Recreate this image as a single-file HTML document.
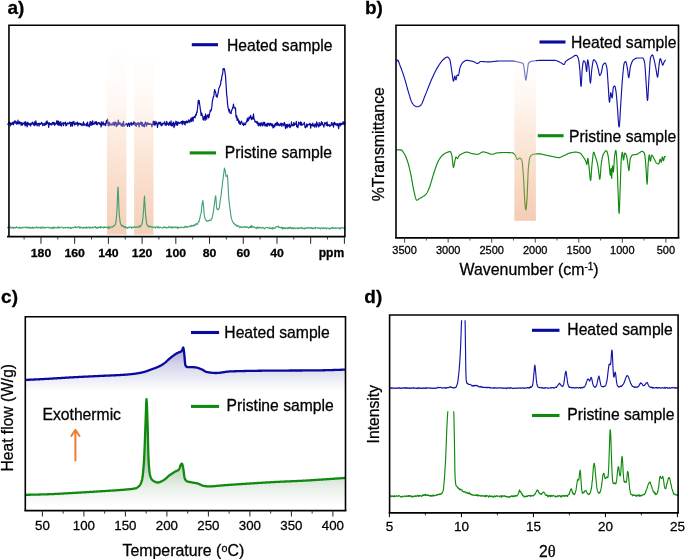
<!DOCTYPE html>
<html><head><meta charset="utf-8"><title>Figure</title>
<style>
html,body{margin:0;padding:0;background:#fff;}
svg{display:block;will-change:transform;opacity:0.9999;}
svg text{font-family:'Liberation Sans', Arial, Helvetica, sans-serif;fill:#000;stroke:#000;stroke-width:0.28px;}
</style></head>
<body>
<svg width="685" height="559" viewBox="0 0 685 559">
<defs>
<linearGradient id="bandA" x1="0" y1="0" x2="0" y2="1">
<stop offset="0" stop-color="#fffcf9" stop-opacity="0.32"/>
<stop offset="0.15" stop-color="#fff6ef" stop-opacity="0.32"/>
<stop offset="0.3" stop-color="#fce3d3" stop-opacity="0.32"/>
<stop offset="0.42" stop-color="#f9caa8" stop-opacity="0.32"/>
<stop offset="0.75" stop-color="#ec8e50" stop-opacity="0.32"/>
<stop offset="1" stop-color="#dd6927" stop-opacity="0.32"/>
</linearGradient>
<linearGradient id="bandB" x1="0" y1="0" x2="0" y2="1">
<stop offset="0" stop-color="#fffdfa" stop-opacity="0.42"/>
<stop offset="0.15" stop-color="#fff8f3" stop-opacity="0.42"/>
<stop offset="0.3" stop-color="#fdeade" stop-opacity="0.42"/>
<stop offset="0.42" stop-color="#fad7bc" stop-opacity="0.42"/>
<stop offset="0.75" stop-color="#f1a97a" stop-opacity="0.42"/>
<stop offset="1" stop-color="#e2864f" stop-opacity="0.42"/>
</linearGradient>
<linearGradient id="fillBlue" gradientUnits="userSpaceOnUse" x1="0" y1="347" x2="0" y2="391">
<stop offset="0" stop-color="#a6a6d3"/>
<stop offset="0.2" stop-color="#bebedf"/>
<stop offset="0.4" stop-color="#d4d4ea"/>
<stop offset="0.6" stop-color="#e3e3f1"/>
<stop offset="0.8" stop-color="#f1f1f8"/>
<stop offset="1" stop-color="#ffffff"/>
</linearGradient>
<linearGradient id="fillGreen" gradientUnits="userSpaceOnUse" x1="0" y1="462" x2="0" y2="506">
<stop offset="0" stop-color="#b4ccb4"/>
<stop offset="0.3" stop-color="#d0e0d0"/>
<stop offset="0.55" stop-color="#e6eee6"/>
<stop offset="0.8" stop-color="#f5f8f5"/>
<stop offset="1" stop-color="#ffffff"/>
</linearGradient>
</defs>
<rect x="0" y="0" width="685" height="559" fill="#fff"/>
<path d="M7.50,123.80 L7.90,124.25 L8.30,123.39 L8.70,122.47 L9.10,123.12 L9.50,122.32 L9.90,123.90 L10.30,125.82 L10.70,123.07 L11.10,122.88 L11.50,124.55 L11.90,124.35 L12.30,123.98 L12.70,122.43 L13.10,123.78 L13.50,124.87 L13.90,121.81 L14.30,123.14 L14.70,120.98 L15.10,121.90 L15.50,121.07 L15.90,123.48 L16.30,121.93 L16.70,124.24 L17.10,124.07 L17.50,123.56 L17.90,120.07 L18.30,123.03 L18.70,123.77 L19.10,124.01 L19.50,121.55 L19.90,123.13 L20.30,122.38 L20.70,122.64 L21.10,125.44 L21.50,122.64 L21.90,123.81 L22.30,125.18 L22.70,122.98 L23.10,123.69 L23.50,124.03 L23.90,123.96 L24.30,122.03 L24.70,123.98 L25.10,125.90 L25.50,121.55 L25.90,125.16 L26.30,124.05 L26.70,122.91 L27.10,126.87 L27.50,125.02 L27.90,122.08 L28.30,123.99 L28.70,124.74 L29.10,123.59 L29.50,124.90 L29.90,123.78 L30.30,124.88 L30.70,126.04 L31.10,122.87 L31.50,124.19 L31.90,123.19 L32.30,124.08 L32.70,122.11 L33.10,123.02 L33.50,123.60 L33.90,125.24 L34.30,125.61 L34.70,121.91 L35.10,122.70 L35.50,124.87 L35.90,120.91 L36.30,123.20 L36.70,123.75 L37.10,125.79 L37.50,124.94 L37.90,123.41 L38.30,123.35 L38.70,123.53 L39.10,126.19 L39.50,123.26 L39.90,123.45 L40.30,124.44 L40.70,123.73 L41.10,123.61 L41.50,122.24 L41.90,123.90 L42.30,123.25 L42.70,125.66 L43.10,124.90 L43.50,123.88 L43.90,124.92 L44.30,123.41 L44.70,125.50 L45.10,123.91 L45.50,124.80 L45.90,121.99 L46.30,124.44 L46.70,121.39 L47.10,120.87 L47.50,123.47 L47.90,122.58 L48.30,124.17 L48.70,127.30 L49.10,122.68 L49.50,122.99 L49.90,124.24 L50.30,124.67 L50.70,123.67 L51.10,123.62 L51.50,124.99 L51.90,124.71 L52.30,122.39 L52.70,123.82 L53.10,123.99 L53.50,122.36 L53.90,124.33 L54.30,122.65 L54.70,125.40 L55.10,124.23 L55.50,124.08 L55.90,123.06 L56.30,123.77 L56.70,120.95 L57.10,122.25 L57.50,124.49 L57.90,120.75 L58.30,125.22 L58.70,121.33 L59.10,125.08 L59.50,122.68 L59.90,125.12 L60.30,124.15 L60.70,121.65 L61.10,125.83 L61.50,126.11 L61.90,123.85 L62.30,123.54 L62.70,123.71 L63.10,122.49 L63.50,125.60 L63.90,123.14 L64.30,123.88 L64.70,122.77 L65.10,123.02 L65.50,122.04 L65.90,125.84 L66.30,123.73 L66.70,125.41 L67.10,123.98 L67.50,122.92 L67.90,123.47 L68.30,123.12 L68.70,123.97 L69.10,123.40 L69.50,123.51 L69.90,121.90 L70.30,122.75 L70.70,126.45 L71.10,122.96 L71.50,122.39 L71.90,124.47 L72.30,126.08 L72.70,121.79 L73.10,123.66 L73.50,123.02 L73.90,121.33 L74.30,125.07 L74.70,123.94 L75.10,124.08 L75.50,122.84 L75.90,124.65 L76.30,123.16 L76.70,123.76 L77.10,122.31 L77.50,122.15 L77.90,125.98 L78.30,123.21 L78.70,124.41 L79.10,123.92 L79.50,123.31 L79.90,123.21 L80.30,124.92 L80.70,123.52 L81.10,123.75 L81.50,124.01 L81.90,125.74 L82.30,125.00 L82.70,124.55 L83.10,123.13 L83.50,121.91 L83.90,125.40 L84.30,125.43 L84.70,123.77 L85.10,124.79 L85.50,125.15 L85.90,125.23 L86.30,125.36 L86.70,123.30 L87.10,126.26 L87.50,122.11 L87.90,125.28 L88.30,124.72 L88.70,125.29 L89.10,126.80 L89.50,126.21 L89.90,122.27 L90.30,121.45 L90.70,125.21 L91.10,122.46 L91.50,123.97 L91.90,125.25 L92.30,121.52 L92.70,120.82 L93.10,124.38 L93.50,124.05 L93.90,123.62 L94.30,124.05 L94.70,122.70 L95.10,121.72 L95.50,123.74 L95.90,122.53 L96.30,121.52 L96.70,124.75 L97.10,123.90 L97.50,124.60 L97.90,122.51 L98.30,123.00 L98.70,122.49 L99.10,122.66 L99.50,124.28 L99.90,122.82 L100.30,124.53 L100.70,124.50 L101.10,127.03 L101.50,121.90 L101.90,125.32 L102.30,123.86 L102.70,123.97 L103.10,121.82 L103.50,123.30 L103.90,125.11 L104.30,123.87 L104.70,124.12 L105.10,123.56 L105.50,125.73 L105.90,123.96 L106.30,120.69 L106.70,122.96 L107.10,121.04 L107.50,119.12 L107.90,123.20 L108.30,126.00 L108.70,124.07 L109.10,122.24 L109.50,122.58 L109.90,125.69 L110.30,124.23 L110.70,124.07 L111.10,123.92 L111.50,124.05 L111.90,125.20 L112.30,124.83 L112.70,124.32 L113.10,122.43 L113.50,124.76 L113.90,122.97 L114.30,125.64 L114.70,122.09 L115.10,123.79 L115.50,123.99 L115.90,122.01 L116.30,126.58 L116.70,126.19 L117.10,123.30 L117.50,125.16 L117.90,124.57 L118.30,120.08 L118.70,124.37 L119.10,123.91 L119.50,124.12 L119.90,122.38 L120.30,123.59 L120.70,123.73 L121.10,125.78 L121.50,124.50 L121.90,123.99 L122.30,126.29 L122.70,123.17 L123.10,123.41 L123.50,121.27 L123.90,126.35 L124.30,125.45 L124.70,125.37 L125.10,125.00 L125.50,124.16 L125.90,124.32 L126.30,123.62 L126.70,123.69 L127.10,124.08 L127.50,126.27 L127.90,124.83 L128.30,123.91 L128.70,123.13 L129.10,123.05 L129.50,126.40 L129.90,124.76 L130.30,124.10 L130.70,123.48 L131.10,122.34 L131.50,123.90 L131.90,125.31 L132.30,123.41 L132.70,123.66 L133.10,123.67 L133.50,124.16 L133.90,121.61 L134.30,123.65 L134.70,122.72 L135.10,125.33 L135.50,122.84 L135.90,124.87 L136.30,126.29 L136.70,123.53 L137.10,123.10 L137.50,124.29 L137.90,124.00 L138.30,122.51 L138.70,124.69 L139.10,127.02 L139.50,123.61 L139.90,123.70 L140.30,122.43 L140.70,124.48 L141.10,122.13 L141.50,122.34 L141.90,125.92 L142.30,122.64 L142.70,125.62 L143.10,126.29 L143.50,124.39 L143.90,124.83 L144.30,126.93 L144.70,123.70 L145.10,123.11 L145.50,121.97 L145.90,124.06 L146.30,126.22 L146.70,125.44 L147.10,122.59 L147.50,122.72 L147.90,123.24 L148.30,124.44 L148.70,123.69 L149.10,124.32 L149.50,124.45 L149.90,123.55 L150.30,123.94 L150.70,124.31 L151.10,123.87 L151.50,124.75 L151.90,126.81 L152.30,124.89 L152.70,124.08 L153.10,121.47 L153.50,124.58 L153.90,121.08 L154.30,121.88 L154.70,125.27 L155.10,125.05 L155.50,123.77 L155.90,121.42 L156.30,123.43 L156.70,122.97 L157.10,124.94 L157.50,127.37 L157.90,124.30 L158.30,122.81 L158.70,122.22 L159.10,123.89 L159.50,123.70 L159.90,122.24 L160.30,124.14 L160.70,122.23 L161.10,125.62 L161.50,125.55 L161.90,125.58 L162.30,123.23 L162.70,124.71 L163.10,123.74 L163.50,123.35 L163.90,123.42 L164.30,121.97 L164.70,121.75 L165.10,125.11 L165.50,123.62 L165.90,124.23 L166.30,125.40 L166.70,121.29 L167.10,122.71 L167.50,124.14 L167.90,124.46 L168.30,123.30 L168.70,125.41 L169.10,124.17 L169.50,122.03 L169.90,122.45 L170.30,125.04 L170.70,124.52 L171.10,120.97 L171.50,125.83 L171.90,124.70 L172.30,125.81 L172.70,123.21 L173.10,123.34 L173.50,122.08 L173.90,127.57 L174.30,123.49 L174.70,126.12 L175.10,122.76 L175.50,123.97 L175.90,121.21 L176.30,123.13 L176.70,125.17 L177.10,121.81 L177.50,125.28 L177.90,124.17 L178.30,122.08 L178.70,122.89 L179.10,122.94 L179.50,123.54 L179.90,122.80 L180.30,122.35 L180.70,123.10 L181.10,121.97 L181.50,121.52 L181.90,123.32 L182.30,124.64 L182.70,120.93 L183.10,123.14 L183.50,122.05 L183.90,121.45 L184.30,124.08 L184.70,121.91 L185.10,124.81 L185.50,121.27 L185.90,122.89 L186.30,121.84 L186.70,120.92 L187.10,122.81 L187.50,121.57 L187.90,122.58 L188.30,121.49 L188.70,119.82 L189.10,121.18 L189.50,121.29 L189.90,122.52 L190.30,119.59 L190.70,120.75 L191.10,118.07 L191.50,121.46 L191.90,118.68 L192.30,117.39 L192.70,119.78 L193.10,121.28 L193.50,117.06 L193.90,117.40 L194.30,117.46 L194.70,116.27 L195.10,117.79 L195.50,115.13 L195.90,114.26 L196.30,115.09 L196.70,111.85 L197.10,112.30 L197.50,108.24 L197.90,104.64 L198.30,100.35 L198.70,103.63 L199.10,100.31 L199.50,103.14 L199.90,105.78 L200.30,109.22 L200.70,111.37 L201.10,115.76 L201.50,112.93 L201.90,113.61 L202.30,115.67 L202.70,116.12 L203.10,119.75 L203.50,119.93 L203.90,117.22 L204.30,116.50 L204.70,117.95 L205.10,120.43 L205.50,113.95 L205.90,118.78 L206.30,116.16 L206.70,119.11 L207.10,115.68 L207.50,116.61 L207.90,114.49 L208.30,114.90 L208.70,117.96 L209.10,116.52 L209.50,113.98 L209.90,112.47 L210.30,110.02 L210.70,111.24 L211.10,110.65 L211.50,109.00 L211.90,106.42 L212.30,101.74 L212.70,100.06 L213.10,97.21 L213.50,97.07 L213.90,96.00 L214.30,91.33 L214.70,89.49 L215.10,90.98 L215.50,91.84 L215.90,93.74 L216.30,96.44 L216.70,95.41 L217.10,97.33 L217.50,95.15 L217.90,94.19 L218.30,91.87 L218.70,89.41 L219.10,87.64 L219.50,87.37 L219.90,85.55 L220.30,85.33 L220.70,83.50 L221.10,79.87 L221.50,80.23 L221.90,76.06 L222.30,75.05 L222.70,73.57 L223.10,68.65 L223.50,69.78 L223.90,68.68 L224.30,68.69 L224.70,70.31 L225.10,73.32 L225.50,75.74 L225.90,82.04 L226.30,88.14 L226.70,95.15 L227.10,97.43 L227.50,103.36 L227.90,106.56 L228.30,108.71 L228.70,109.74 L229.10,111.99 L229.50,109.31 L229.90,113.03 L230.30,113.09 L230.70,113.37 L231.10,113.53 L231.50,110.99 L231.90,109.80 L232.30,109.22 L232.70,107.45 L233.10,106.71 L233.50,104.13 L233.90,107.21 L234.30,108.15 L234.70,107.91 L235.10,107.64 L235.50,108.11 L235.90,115.92 L236.30,117.72 L236.70,115.55 L237.10,120.42 L237.50,118.03 L237.90,118.64 L238.30,119.90 L238.70,122.98 L239.10,120.73 L239.50,121.90 L239.90,124.36 L240.30,124.41 L240.70,122.17 L241.10,122.29 L241.50,121.08 L241.90,122.24 L242.30,124.19 L242.70,124.36 L243.10,124.09 L243.50,125.49 L243.90,122.81 L244.30,123.74 L244.70,124.68 L245.10,124.14 L245.50,124.50 L245.90,123.06 L246.30,121.55 L246.70,122.09 L247.10,119.59 L247.50,118.20 L247.90,121.13 L248.30,119.84 L248.70,120.12 L249.10,116.90 L249.50,118.69 L249.90,118.14 L250.30,117.54 L250.70,115.27 L251.10,117.98 L251.50,119.68 L251.90,118.77 L252.30,117.20 L252.70,118.01 L253.10,119.14 L253.50,113.91 L253.90,118.09 L254.30,119.46 L254.70,120.14 L255.10,122.22 L255.50,121.96 L255.90,121.33 L256.30,121.88 L256.70,123.12 L257.10,121.55 L257.50,122.59 L257.90,124.19 L258.30,125.93 L258.70,122.92 L259.10,123.24 L259.50,123.75 L259.90,125.61 L260.30,123.68 L260.70,126.05 L261.10,122.51 L261.50,123.79 L261.90,123.86 L262.30,125.42 L262.70,125.88 L263.10,122.11 L263.50,123.06 L263.90,124.97 L264.30,123.50 L264.70,122.22 L265.10,126.07 L265.50,125.26 L265.90,125.27 L266.30,123.82 L266.70,126.08 L267.10,124.19 L267.50,126.20 L267.90,123.20 L268.30,123.29 L268.70,124.88 L269.10,123.53 L269.50,125.60 L269.90,124.99 L270.30,123.22 L270.70,124.72 L271.10,124.09 L271.50,126.00 L271.90,123.68 L272.30,123.98 L272.70,126.46 L273.10,128.00 L273.50,127.65 L273.90,124.75 L274.30,124.99 L274.70,126.97 L275.10,124.48 L275.50,123.21 L275.90,124.86 L276.30,125.36 L276.70,123.45 L277.10,122.22 L277.50,122.54 L277.90,125.70 L278.30,123.57 L278.70,124.50 L279.10,125.03 L279.50,125.65 L279.90,124.22 L280.30,125.47 L280.70,123.39 L281.10,124.19 L281.50,123.20 L281.90,126.44 L282.30,124.70 L282.70,123.64 L283.10,124.22 L283.50,124.42 L283.90,125.80 L284.30,122.36 L284.70,123.20 L285.10,124.19 L285.50,128.56 L285.90,126.20 L286.30,124.60 L286.70,125.84 L287.10,127.86 L287.50,124.42 L287.90,124.23 L288.30,126.59 L288.70,125.52 L289.10,125.79 L289.50,124.02 L289.90,127.67 L290.30,127.35 L290.70,125.64 L291.10,125.81 L291.50,121.75 L291.90,125.75 L292.30,124.50 L292.70,125.44 L293.10,125.82 L293.50,124.28 L293.90,122.26 L294.30,125.35 L294.70,123.68 L295.10,124.30 L295.50,123.89 L295.90,124.29 L296.30,121.33 L296.70,126.62 L297.10,125.18 L297.50,126.47 L297.90,127.77 L298.30,124.83 L298.70,122.10 L299.10,123.46 L299.50,122.99 L299.90,124.05 L300.30,124.92 L300.70,121.80 L301.10,125.31 L301.50,122.53 L301.90,125.25 L302.30,124.64 L302.70,124.33 L303.10,124.69 L303.50,123.99 L303.90,123.88 L304.30,122.28 L304.70,124.76 L305.10,127.57 L305.50,127.77 L305.90,126.78 L306.30,125.86 L306.70,123.79 L307.10,126.96 L307.50,124.72 L307.90,124.70 L308.30,124.36 L308.70,124.94 L309.10,124.15 L309.50,124.67 L309.90,123.17 L310.30,124.24 L310.70,128.22 L311.10,124.70 L311.50,124.44 L311.90,125.60 L312.30,125.86 L312.70,123.13 L313.10,124.49 L313.50,126.18 L313.90,125.20 L314.30,124.98 L314.70,127.13 L315.10,123.78 L315.50,124.92 L315.90,124.02 L316.30,127.04 L316.70,121.87 L317.10,123.79 L317.50,124.01 L317.90,125.80 L318.30,125.71 L318.70,126.89 L319.10,122.44 L319.50,125.93 L319.90,124.36 L320.30,123.80 L320.70,125.61 L321.10,123.42 L321.50,121.68 L321.90,124.24 L322.30,122.55 L322.70,123.83 L323.10,125.36 L323.50,125.27 L323.90,127.18 L324.30,124.50 L324.70,122.50 L325.10,123.67 L325.50,123.42 L325.90,122.97 L326.30,125.45 L326.70,123.83 L327.10,121.83 L327.50,125.85 L327.90,124.63 L328.30,125.34 L328.70,124.96 L329.10,125.75 L329.50,124.86 L329.90,126.65 L330.30,125.44 L330.70,125.39 L331.10,125.41 L331.50,122.62 L331.90,124.55 L332.30,124.41 L332.70,125.11 L333.10,122.76 L333.50,127.25 L333.90,124.96 L334.30,122.98 L334.70,122.24 L335.10,124.38 L335.50,124.67 L335.90,123.72 L336.30,124.94 L336.70,123.84 L337.10,125.63 L337.50,123.71 L337.90,124.74 L338.30,126.27 L338.70,128.66 L339.10,123.29 L339.50,124.10 L339.90,123.54 L340.30,125.98 L340.70,123.08 L341.10,124.07 L341.50,124.76 L341.90,123.33 L342.30,123.36 L342.70,124.09 L343.10,121.65 L343.50,122.63 L343.90,124.18 L344.30,125.02 L344.70,124.52 L345.10,122.14" fill="none" stroke="#0a0a9e" stroke-width="1.2" stroke-linejoin="round"/>
<rect x="107" y="53" width="19.4" height="181.6" fill="url(#bandA)"/>
<rect x="134.1" y="55" width="19.4" height="179.6" fill="url(#bandA)"/>
<path d="M7.30,227.21 L7.70,227.74 L8.10,227.64 L8.50,227.38 L8.90,227.04 L9.30,227.68 L9.70,227.17 L10.10,226.93 L10.50,227.09 L10.90,228.03 L11.30,227.52 L11.70,227.92 L12.10,227.23 L12.50,227.83 L12.90,227.19 L13.30,227.38 L13.70,228.49 L14.10,227.77 L14.50,227.24 L14.90,227.42 L15.30,227.59 L15.70,227.97 L16.10,227.25 L16.50,226.73 L16.90,227.35 L17.30,227.47 L17.70,227.52 L18.10,228.03 L18.50,227.61 L18.90,227.82 L19.30,227.02 L19.70,227.85 L20.10,228.36 L20.50,227.81 L20.90,227.59 L21.30,227.56 L21.70,228.24 L22.10,227.11 L22.50,227.45 L22.90,227.69 L23.30,227.81 L23.70,227.32 L24.10,227.63 L24.50,227.39 L24.90,227.56 L25.30,227.46 L25.70,227.03 L26.10,227.51 L26.50,227.89 L26.90,227.11 L27.30,227.42 L27.70,227.80 L28.10,227.08 L28.50,227.60 L28.90,227.08 L29.30,228.01 L29.70,228.50 L30.10,228.38 L30.50,227.44 L30.90,227.85 L31.30,227.59 L31.70,227.58 L32.10,228.19 L32.50,226.99 L32.90,227.99 L33.30,227.53 L33.70,228.14 L34.10,227.63 L34.50,227.27 L34.90,227.67 L35.30,227.86 L35.70,227.57 L36.10,227.76 L36.50,227.34 L36.90,226.66 L37.30,227.94 L37.70,227.86 L38.10,227.63 L38.50,227.59 L38.90,228.00 L39.30,227.38 L39.70,227.27 L40.10,227.49 L40.50,228.07 L40.90,226.99 L41.30,228.07 L41.70,227.31 L42.10,227.11 L42.50,228.11 L42.90,227.54 L43.30,227.03 L43.70,227.43 L44.10,227.97 L44.50,228.08 L44.90,227.40 L45.30,227.75 L45.70,227.88 L46.10,227.31 L46.50,227.74 L46.90,227.57 L47.30,227.36 L47.70,227.38 L48.10,227.62 L48.50,227.60 L48.90,227.35 L49.30,227.41 L49.70,228.06 L50.10,227.68 L50.50,227.96 L50.90,228.10 L51.30,227.84 L51.70,228.55 L52.10,227.25 L52.50,227.94 L52.90,227.46 L53.30,228.38 L53.70,228.31 L54.10,226.78 L54.50,227.19 L54.90,227.88 L55.30,227.93 L55.70,227.91 L56.10,227.57 L56.50,227.79 L56.90,227.87 L57.30,227.57 L57.70,228.03 L58.10,226.65 L58.50,227.87 L58.90,227.17 L59.30,228.00 L59.70,227.50 L60.10,227.23 L60.50,227.76 L60.90,227.22 L61.30,227.22 L61.70,226.94 L62.10,227.59 L62.50,227.81 L62.90,228.03 L63.30,227.54 L63.70,228.04 L64.10,227.61 L64.50,227.56 L64.90,227.84 L65.30,228.04 L65.70,227.45 L66.10,227.50 L66.50,227.53 L66.90,227.63 L67.30,227.22 L67.70,228.03 L68.10,227.43 L68.50,227.79 L68.90,227.25 L69.30,227.75 L69.70,227.76 L70.10,227.42 L70.50,228.44 L70.90,227.75 L71.30,228.34 L71.70,228.00 L72.10,227.31 L72.50,227.43 L72.90,227.77 L73.30,227.62 L73.70,227.61 L74.10,227.47 L74.50,226.83 L74.90,227.49 L75.30,226.66 L75.70,227.74 L76.10,227.28 L76.50,227.28 L76.90,227.49 L77.30,227.70 L77.70,226.98 L78.10,226.85 L78.50,227.13 L78.90,226.72 L79.30,227.17 L79.70,228.25 L80.10,227.13 L80.50,227.85 L80.90,227.00 L81.30,227.70 L81.70,227.44 L82.10,227.55 L82.50,227.81 L82.90,228.31 L83.30,227.65 L83.70,227.62 L84.10,227.16 L84.50,227.81 L84.90,227.46 L85.30,227.91 L85.70,227.54 L86.10,228.29 L86.50,226.73 L86.90,227.43 L87.30,227.93 L87.70,227.41 L88.10,227.22 L88.50,227.44 L88.90,226.97 L89.30,227.60 L89.70,228.57 L90.10,228.03 L90.50,227.08 L90.90,227.18 L91.30,227.37 L91.70,227.96 L92.10,227.19 L92.50,227.25 L92.90,227.91 L93.30,227.90 L93.70,227.37 L94.10,227.06 L94.50,226.88 L94.90,227.23 L95.30,226.59 L95.70,227.84 L96.10,227.26 L96.50,227.72 L96.90,228.30 L97.30,228.01 L97.70,227.03 L98.10,227.88 L98.50,227.99 L98.90,227.19 L99.30,227.10 L99.70,227.46 L100.10,226.83 L100.50,228.11 L100.90,226.48 L101.30,227.02 L101.70,227.37 L102.10,227.38 L102.50,227.54 L102.90,227.58 L103.30,227.37 L103.70,227.93 L104.10,226.54 L104.50,227.43 L104.90,227.12 L105.30,227.46 L105.70,227.49 L106.10,227.00 L106.50,227.10 L106.90,227.68 L107.30,227.48 L107.70,227.02 L108.10,228.15 L108.50,228.24 L108.90,226.63 L109.30,227.34 L109.70,228.24 L110.10,227.49 L110.50,227.22 L110.90,227.01 L111.30,226.84 L111.70,226.94 L112.10,226.76 L112.50,227.22 L112.90,226.60 L113.30,226.37 L113.70,225.78 L114.10,225.92 L114.50,225.14 L114.90,224.95 L115.30,224.85 L115.70,223.07 L116.10,220.59 L116.50,217.12 L116.90,211.50 L117.30,202.37 L117.70,190.71 L118.10,187.03 L118.50,196.73 L118.90,207.75 L119.30,214.83 L119.70,218.45 L120.10,221.56 L120.50,223.52 L120.90,224.81 L121.30,224.98 L121.70,226.22 L122.10,225.79 L122.50,225.47 L122.90,226.36 L123.30,225.99 L123.70,226.94 L124.10,227.46 L124.50,227.32 L124.90,226.53 L125.30,226.81 L125.70,227.91 L126.10,227.32 L126.50,227.22 L126.90,227.69 L127.30,228.30 L127.70,227.84 L128.10,227.37 L128.50,227.48 L128.90,227.60 L129.30,227.10 L129.70,226.93 L130.10,227.40 L130.50,226.99 L130.90,227.37 L131.30,227.44 L131.70,228.38 L132.10,227.04 L132.50,227.35 L132.90,227.32 L133.30,227.57 L133.70,227.81 L134.10,227.15 L134.50,227.00 L134.90,226.63 L135.30,226.91 L135.70,227.50 L136.10,227.26 L136.50,226.78 L136.90,227.02 L137.30,227.15 L137.70,227.31 L138.10,226.80 L138.50,226.89 L138.90,226.16 L139.30,226.32 L139.70,227.31 L140.10,225.48 L140.50,225.96 L140.90,225.84 L141.30,225.15 L141.70,224.46 L142.10,223.56 L142.50,221.27 L142.90,218.17 L143.30,213.57 L143.70,208.33 L144.10,200.36 L144.50,196.14 L144.90,203.08 L145.30,210.30 L145.70,215.90 L146.10,218.82 L146.50,222.32 L146.90,224.49 L147.30,225.42 L147.70,226.03 L148.10,225.81 L148.50,226.15 L148.90,226.85 L149.30,226.15 L149.70,226.97 L150.10,226.75 L150.50,226.86 L150.90,226.32 L151.30,226.71 L151.70,227.11 L152.10,227.52 L152.50,227.59 L152.90,227.17 L153.30,227.14 L153.70,226.90 L154.10,227.43 L154.50,227.18 L154.90,227.56 L155.30,228.05 L155.70,227.32 L156.10,226.72 L156.50,226.99 L156.90,226.75 L157.30,226.87 L157.70,227.93 L158.10,227.48 L158.50,226.75 L158.90,227.67 L159.30,227.93 L159.70,227.25 L160.10,227.12 L160.50,227.26 L160.90,227.52 L161.30,227.67 L161.70,227.90 L162.10,227.91 L162.50,227.90 L162.90,227.97 L163.30,227.68 L163.70,226.75 L164.10,227.34 L164.50,227.53 L164.90,227.23 L165.30,227.78 L165.70,227.24 L166.10,227.00 L166.50,228.00 L166.90,227.67 L167.30,227.48 L167.70,227.78 L168.10,227.83 L168.50,227.53 L168.90,226.35 L169.30,227.10 L169.70,227.19 L170.10,226.96 L170.50,227.46 L170.90,227.87 L171.30,227.17 L171.70,226.89 L172.10,228.22 L172.50,227.17 L172.90,226.84 L173.30,227.46 L173.70,227.53 L174.10,227.06 L174.50,227.68 L174.90,227.14 L175.30,226.96 L175.70,227.41 L176.10,227.66 L176.50,227.07 L176.90,227.47 L177.30,227.29 L177.70,228.51 L178.10,227.02 L178.50,227.90 L178.90,227.29 L179.30,227.25 L179.70,227.61 L180.10,227.67 L180.50,227.82 L180.90,227.42 L181.30,227.01 L181.70,227.02 L182.10,227.44 L182.50,227.45 L182.90,227.76 L183.30,227.32 L183.70,227.56 L184.10,227.71 L184.50,227.11 L184.90,226.37 L185.30,226.46 L185.70,226.30 L186.10,227.53 L186.50,226.45 L186.90,227.27 L187.30,226.95 L187.70,227.36 L188.10,227.01 L188.50,226.48 L188.90,226.38 L189.30,226.43 L189.70,226.41 L190.10,226.04 L190.50,226.19 L190.90,226.81 L191.30,225.34 L191.70,226.09 L192.10,225.52 L192.50,225.88 L192.90,226.06 L193.30,225.58 L193.70,225.81 L194.10,224.68 L194.50,225.67 L194.90,224.80 L195.30,225.14 L195.70,224.76 L196.10,223.39 L196.50,223.94 L196.90,224.10 L197.30,224.39 L197.70,223.54 L198.10,222.98 L198.50,221.49 L198.90,221.68 L199.30,220.67 L199.70,218.59 L200.10,217.04 L200.50,214.92 L200.90,214.16 L201.30,211.93 L201.70,207.50 L202.10,204.34 L202.50,201.66 L202.90,200.53 L203.30,204.33 L203.70,208.16 L204.10,213.55 L204.50,216.72 L204.90,218.19 L205.30,219.08 L205.70,219.99 L206.10,220.25 L206.50,220.57 L206.90,221.45 L207.30,221.20 L207.70,220.92 L208.10,220.86 L208.50,221.07 L208.90,220.34 L209.30,220.36 L209.70,220.01 L210.10,220.50 L210.50,220.29 L210.90,220.62 L211.30,218.77 L211.70,218.61 L212.10,218.17 L212.50,216.02 L212.90,213.88 L213.30,212.37 L213.70,209.02 L214.10,206.21 L214.50,203.27 L214.90,200.21 L215.30,197.11 L215.70,195.76 L216.10,200.30 L216.50,206.78 L216.90,209.05 L217.30,208.88 L217.70,209.66 L218.10,209.79 L218.50,208.85 L218.90,208.88 L219.30,207.59 L219.70,204.82 L220.10,201.31 L220.50,198.98 L220.90,196.30 L221.30,193.75 L221.70,188.98 L222.10,187.51 L222.50,182.47 L222.90,180.20 L223.30,177.14 L223.70,173.69 L224.10,170.46 L224.50,168.16 L224.90,169.18 L225.30,171.60 L225.70,173.82 L226.10,176.59 L226.50,175.70 L226.90,176.16 L227.30,175.02 L227.70,178.88 L228.10,185.73 L228.50,193.75 L228.90,199.68 L229.30,203.14 L229.70,207.16 L230.10,209.61 L230.50,212.75 L230.90,215.98 L231.30,217.46 L231.70,219.13 L232.10,220.10 L232.50,221.81 L232.90,222.32 L233.30,222.45 L233.70,223.59 L234.10,223.29 L234.50,223.95 L234.90,224.88 L235.30,224.32 L235.70,225.01 L236.10,224.80 L236.50,225.61 L236.90,226.43 L237.30,225.61 L237.70,226.19 L238.10,225.87 L238.50,225.90 L238.90,225.99 L239.30,227.24 L239.70,227.72 L240.10,227.02 L240.50,226.59 L240.90,227.25 L241.30,226.86 L241.70,227.38 L242.10,227.20 L242.50,227.24 L242.90,227.41 L243.30,226.94 L243.70,227.05 L244.10,226.53 L244.50,227.09 L244.90,226.70 L245.30,227.26 L245.70,226.94 L246.10,227.40 L246.50,227.57 L246.90,226.79 L247.30,227.05 L247.70,227.00 L248.10,227.71 L248.50,228.08 L248.90,227.64 L249.30,227.04 L249.70,227.68 L250.10,226.30 L250.50,227.45 L250.90,226.44 L251.30,225.47 L251.70,227.71 L252.10,227.29 L252.50,226.28 L252.90,226.93 L253.30,226.95 L253.70,227.26 L254.10,226.77 L254.50,227.23 L254.90,227.79 L255.30,227.70 L255.70,228.13 L256.10,227.67 L256.50,228.64 L256.90,227.37 L257.30,227.79 L257.70,226.89 L258.10,227.18 L258.50,228.27 L258.90,227.33 L259.30,227.96 L259.70,227.72 L260.10,227.32 L260.50,227.62 L260.90,227.56 L261.30,227.58 L261.70,228.11 L262.10,228.07 L262.50,227.57 L262.90,227.43 L263.30,227.94 L263.70,227.79 L264.10,228.27 L264.50,228.96 L264.90,228.20 L265.30,227.84 L265.70,227.78 L266.10,227.50 L266.50,227.48 L266.90,227.45 L267.30,227.71 L267.70,227.70 L268.10,228.19 L268.50,227.71 L268.90,227.80 L269.30,227.38 L269.70,228.58 L270.10,228.10 L270.50,228.64 L270.90,228.23 L271.30,228.52 L271.70,227.79 L272.10,228.20 L272.50,229.04 L272.90,227.39 L273.30,228.39 L273.70,228.61 L274.10,228.07 L274.50,228.17 L274.90,228.27 L275.30,227.30 L275.70,227.57 L276.10,226.83 L276.50,226.72 L276.90,226.58 L277.30,226.64 L277.70,226.68 L278.10,226.80 L278.50,226.05 L278.90,227.63 L279.30,227.44 L279.70,227.45 L280.10,227.19 L280.50,227.51 L280.90,227.97 L281.30,228.06 L281.70,227.25 L282.10,228.32 L282.50,229.26 L282.90,227.21 L283.30,228.44 L283.70,228.17 L284.10,227.97 L284.50,228.61 L284.90,227.51 L285.30,228.10 L285.70,228.66 L286.10,227.95 L286.50,227.86 L286.90,228.09 L287.30,227.85 L287.70,228.71 L288.10,227.66 L288.50,228.43 L288.90,227.51 L289.30,228.35 L289.70,228.02 L290.10,226.95 L290.50,228.06 L290.90,227.61 L291.30,227.88 L291.70,228.74 L292.10,227.59 L292.50,227.62 L292.90,228.70 L293.30,228.13 L293.70,228.75 L294.10,228.23 L294.50,227.71 L294.90,228.06 L295.30,228.63 L295.70,228.50 L296.10,228.10 L296.50,228.12 L296.90,228.06 L297.30,227.86 L297.70,228.94 L298.10,228.11 L298.50,227.62 L298.90,227.91 L299.30,228.43 L299.70,228.40 L300.10,228.06 L300.50,227.83 L300.90,228.14 L301.30,227.40 L301.70,227.57 L302.10,228.48 L302.50,227.92 L302.90,228.30 L303.30,228.66 L303.70,228.42 L304.10,228.15 L304.50,229.06 L304.90,228.43 L305.30,227.99 L305.70,228.46 L306.10,228.32 L306.50,227.78 L306.90,228.18 L307.30,228.08 L307.70,227.30 L308.10,228.08 L308.50,228.03 L308.90,227.97 L309.30,227.45 L309.70,228.01 L310.10,228.14 L310.50,228.20 L310.90,227.67 L311.30,228.44 L311.70,227.64 L312.10,228.07 L312.50,228.73 L312.90,227.87 L313.30,227.95 L313.70,228.63 L314.10,228.00 L314.50,228.04 L314.90,228.27 L315.30,228.63 L315.70,227.22 L316.10,227.82 L316.50,227.74 L316.90,227.71 L317.30,227.81 L317.70,227.82 L318.10,228.31 L318.50,227.80 L318.90,228.23 L319.30,228.35 L319.70,227.87 L320.10,228.24 L320.50,228.89 L320.90,228.32 L321.30,227.91 L321.70,228.16 L322.10,227.79 L322.50,228.30 L322.90,228.56 L323.30,227.84 L323.70,228.10 L324.10,228.67 L324.50,227.98 L324.90,228.27 L325.30,227.75 L325.70,227.84 L326.10,227.97 L326.50,229.11 L326.90,228.02 L327.30,227.97 L327.70,227.96 L328.10,228.12 L328.50,228.47 L328.90,228.27 L329.30,229.06 L329.70,228.28 L330.10,228.80 L330.50,228.31 L330.90,228.45 L331.30,227.59 L331.70,228.14 L332.10,228.17 L332.50,228.09 L332.90,227.29 L333.30,228.57 L333.70,228.03 L334.10,228.01 L334.50,228.09 L334.90,228.10 L335.30,228.37 L335.70,227.66 L336.10,227.81 L336.50,228.32 L336.90,228.26 L337.30,228.04 L337.70,227.96 L338.10,227.85 L338.50,228.17 L338.90,228.70 L339.30,227.76 L339.70,228.84 L340.10,228.55 L340.50,228.01 L340.90,228.53 L341.30,227.58 L341.70,227.47 L342.10,227.66 L342.50,228.03 L342.90,228.06 L343.30,227.98 L343.70,228.24 L344.10,227.30 L344.50,228.41 L344.90,227.60 L345.30,227.92" fill="none" stroke="#379b69" stroke-width="1.15" stroke-linejoin="round" opacity="0.92"/>
<path d="M8.95,236.6 V25.3 H344.9 V236.6" fill="none" stroke="#000" stroke-width="1.6"/>
<path d="M7.049999999999999,236.6 H345.5" fill="none" stroke="#000" stroke-width="1.75"/>
<path d="M344.40,236.6 v7.2" stroke="#222" stroke-width="1.0"/>
<path d="M327.54,236.6 v2.9" stroke="#222" stroke-width="0.9"/>
<path d="M310.68,236.6 v7.2" stroke="#222" stroke-width="1.0"/>
<path d="M293.83,236.6 v2.9" stroke="#222" stroke-width="0.9"/>
<path d="M276.97,236.6 v7.2" stroke="#222" stroke-width="1.0"/>
<path d="M260.11,236.6 v2.9" stroke="#222" stroke-width="0.9"/>
<path d="M243.25,236.6 v7.2" stroke="#222" stroke-width="1.0"/>
<path d="M226.39,236.6 v2.9" stroke="#222" stroke-width="0.9"/>
<path d="M209.54,236.6 v7.2" stroke="#222" stroke-width="1.0"/>
<path d="M192.68,236.6 v2.9" stroke="#222" stroke-width="0.9"/>
<path d="M175.82,236.6 v7.2" stroke="#222" stroke-width="1.0"/>
<path d="M158.96,236.6 v2.9" stroke="#222" stroke-width="0.9"/>
<path d="M142.10,236.6 v7.2" stroke="#222" stroke-width="1.0"/>
<path d="M125.25,236.6 v2.9" stroke="#222" stroke-width="0.9"/>
<path d="M108.39,236.6 v7.2" stroke="#222" stroke-width="1.0"/>
<path d="M91.53,236.6 v2.9" stroke="#222" stroke-width="0.9"/>
<path d="M74.67,236.6 v7.2" stroke="#222" stroke-width="1.0"/>
<path d="M57.81,236.6 v2.9" stroke="#222" stroke-width="0.9"/>
<path d="M40.96,236.6 v7.2" stroke="#222" stroke-width="1.0"/>
<path d="M24.10,236.6 v2.9" stroke="#222" stroke-width="0.9"/>
<text transform="translate(276.97,257.3) scale(1.06,1)" font-size="11.6" font-weight="bold" text-anchor="middle">40</text>
<text transform="translate(243.25,257.3) scale(1.06,1)" font-size="11.6" font-weight="bold" text-anchor="middle">60</text>
<text transform="translate(209.54,257.3) scale(1.06,1)" font-size="11.6" font-weight="bold" text-anchor="middle">80</text>
<text transform="translate(175.82,257.3) scale(1.06,1)" font-size="11.6" font-weight="bold" text-anchor="middle">100</text>
<text transform="translate(142.10,257.3) scale(1.06,1)" font-size="11.6" font-weight="bold" text-anchor="middle">120</text>
<text transform="translate(108.39,257.3) scale(1.06,1)" font-size="11.6" font-weight="bold" text-anchor="middle">140</text>
<text transform="translate(74.67,257.3) scale(1.06,1)" font-size="11.6" font-weight="bold" text-anchor="middle">160</text>
<text transform="translate(40.96,257.3) scale(1.06,1)" font-size="11.6" font-weight="bold" text-anchor="middle">180</text>
<text x="344.2" y="257.2" font-size="12.1" font-weight="bold" text-anchor="end">ppm</text>
<path d="M191.8,44.7 H218" stroke="#0a0a9e" stroke-width="3.1"/>
<text x="226.9" y="50.8" font-size="15.7">Heated sample</text>
<path d="M189.7,152.9 H216" stroke="#0f8a0f" stroke-width="3.1"/>
<text x="224.8" y="157.7" font-size="15.7">Pristine sample</text>
<text x="7.5" y="13.7" font-size="19" font-weight="bold">a)</text>
<path d="M396.60,61.90 L396.90,61.10 L397.20,60.51 L397.50,60.17 L397.80,60.12 L398.10,60.40 L398.40,60.94 L398.70,61.68 L399.00,62.55 L399.30,63.47 L399.60,64.38 L399.90,65.20 L400.20,65.96 L400.50,66.73 L400.80,67.51 L401.10,68.30 L401.40,69.10 L401.70,69.91 L402.00,70.74 L402.30,71.58 L402.60,72.43 L402.90,73.30 L403.20,74.17 L403.50,75.07 L403.80,75.97 L404.10,76.89 L404.40,77.83 L404.70,78.81 L405.00,79.82 L405.30,80.87 L405.60,81.93 L405.90,83.02 L406.20,84.11 L406.50,85.21 L406.80,86.32 L407.10,87.41 L407.40,88.50 L407.70,89.56 L408.00,90.61 L408.30,91.62 L408.60,92.60 L408.90,93.58 L409.20,94.59 L409.50,95.62 L409.80,96.65 L410.10,97.66 L410.40,98.63 L410.70,99.55 L411.00,100.41 L411.30,101.18 L411.60,101.85 L411.90,102.40 L412.20,102.88 L412.50,103.33 L412.80,103.77 L413.10,104.17 L413.40,104.55 L413.70,104.89 L414.00,105.21 L414.30,105.49 L414.60,105.73 L414.90,105.94 L415.20,106.10 L415.50,106.24 L415.80,106.38 L416.10,106.51 L416.40,106.62 L416.70,106.71 L417.00,106.77 L417.30,106.80 L417.60,106.79 L417.90,106.75 L418.20,106.68 L418.50,106.57 L418.80,106.44 L419.10,106.29 L419.40,106.12 L419.70,105.93 L420.00,105.72 L420.30,105.50 L420.60,105.28 L420.90,105.02 L421.20,104.67 L421.50,104.22 L421.80,103.68 L422.10,103.08 L422.40,102.42 L422.70,101.70 L423.00,100.95 L423.30,100.17 L423.60,99.38 L423.90,98.58 L424.20,97.79 L424.50,97.02 L424.80,96.27 L425.10,95.57 L425.40,94.86 L425.70,94.14 L426.00,93.40 L426.30,92.65 L426.60,91.90 L426.90,91.13 L427.20,90.36 L427.50,89.59 L427.80,88.81 L428.10,88.03 L428.40,87.25 L428.70,86.47 L429.00,85.70 L429.30,84.93 L429.60,84.17 L429.90,83.42 L430.20,82.68 L430.50,81.95 L430.80,81.23 L431.10,80.53 L431.40,79.85 L431.70,79.18 L432.00,78.52 L432.30,77.86 L432.60,77.20 L432.90,76.55 L433.20,75.89 L433.50,75.25 L433.80,74.61 L434.10,73.97 L434.40,73.34 L434.70,72.72 L435.00,72.11 L435.30,71.51 L435.60,70.91 L435.90,70.33 L436.20,69.76 L436.50,69.20 L436.80,68.66 L437.10,68.12 L437.40,67.60 L437.70,67.10 L438.00,66.62 L438.30,66.14 L438.60,65.68 L438.90,65.21 L439.20,64.75 L439.50,64.30 L439.80,63.85 L440.10,63.41 L440.40,62.97 L440.70,62.55 L441.00,62.14 L441.30,61.75 L441.60,61.36 L441.90,61.00 L442.20,60.65 L442.50,60.32 L442.80,60.01 L443.10,59.73 L443.40,59.46 L443.70,59.22 L444.00,58.98 L444.30,58.74 L444.60,58.50 L444.90,58.26 L445.20,58.04 L445.50,57.83 L445.80,57.64 L446.10,57.47 L446.40,57.33 L446.70,57.21 L447.00,57.14 L447.30,57.10 L447.60,57.12 L447.90,57.24 L448.20,57.44 L448.50,57.73 L448.80,58.08 L449.10,58.51 L449.40,58.99 L449.70,59.51 L450.00,60.23 L450.30,61.53 L450.60,63.28 L450.90,65.30 L451.20,67.42 L451.50,69.46 L451.80,71.31 L452.10,73.43 L452.40,75.75 L452.70,77.97 L453.00,79.80 L453.30,80.95 L453.60,81.11 L453.90,80.05 L454.20,78.36 L454.50,76.79 L454.80,76.10 L455.10,76.79 L455.40,78.26 L455.70,79.57 L456.00,79.82 L456.30,78.79 L456.60,77.17 L456.90,75.66 L457.20,75.00 L457.50,75.09 L457.80,75.28 L458.10,75.46 L458.40,75.44 L458.70,74.65 L459.00,73.20 L459.30,71.41 L459.60,69.59 L459.90,68.08 L460.20,67.15 L460.50,66.42 L460.80,65.74 L461.10,65.11 L461.40,64.52 L461.70,63.98 L462.00,63.50 L462.30,63.06 L462.60,62.67 L462.90,62.34 L463.20,62.06 L463.50,61.83 L463.80,61.61 L464.10,61.40 L464.40,61.21 L464.70,61.02 L465.00,60.86 L465.30,60.71 L465.60,60.59 L465.90,60.50 L466.20,60.43 L466.50,60.40 L466.80,60.40 L467.10,60.41 L467.40,60.42 L467.70,60.44 L468.00,60.47 L468.30,60.50 L468.60,60.54 L468.90,60.58 L469.20,60.62 L469.50,60.67 L469.80,60.73 L470.10,60.78 L470.40,60.84 L470.70,60.91 L471.00,60.97 L471.30,61.04 L471.60,61.11 L471.90,61.18 L472.20,61.25 L472.50,61.33 L472.80,61.40 L473.10,61.48 L473.40,61.56 L473.70,61.67 L474.00,61.80 L474.30,61.95 L474.60,62.12 L474.90,62.29 L475.20,62.47 L475.50,62.64 L475.80,62.81 L476.10,62.97 L476.40,63.11 L476.70,63.23 L477.00,63.32 L477.30,63.38 L477.60,63.40 L477.90,63.36 L478.20,63.23 L478.50,63.05 L478.80,62.83 L479.10,62.58 L479.40,62.32 L479.70,62.07 L480.00,61.85 L480.30,61.67 L480.60,61.54 L480.90,61.50 L481.20,61.50 L481.50,61.51 L481.80,61.52 L482.10,61.53 L482.40,61.54 L482.70,61.56 L483.00,61.57 L483.30,61.59 L483.60,61.62 L483.90,61.64 L484.20,61.66 L484.50,61.68 L484.80,61.71 L485.10,61.73 L485.40,61.75 L485.70,61.78 L486.00,61.80 L486.30,61.82 L486.60,61.84 L486.90,61.85 L487.20,61.87 L487.50,61.88 L487.80,61.89 L488.10,61.90 L488.40,61.90 L488.70,61.90 L489.00,61.89 L489.30,61.89 L489.60,61.87 L489.90,61.86 L490.20,61.84 L490.50,61.82 L490.80,61.80 L491.10,61.77 L491.40,61.75 L491.70,61.72 L492.00,61.68 L492.30,61.65 L492.60,61.62 L492.90,61.58 L493.20,61.55 L493.50,61.51 L493.80,61.47 L494.10,61.44 L494.40,61.40 L494.70,61.36 L495.00,61.33 L495.30,61.29 L495.60,61.26 L495.90,61.23 L496.20,61.19 L496.50,61.16 L496.80,61.14 L497.10,61.11 L497.40,61.09 L497.70,61.06 L498.00,61.05 L498.30,61.03 L498.60,61.02 L498.90,61.01 L499.20,61.00 L499.50,61.00 L499.80,61.00 L500.10,61.00 L500.40,61.00 L500.70,61.00 L501.00,61.00 L501.30,61.00 L501.60,61.00 L501.90,61.00 L502.20,61.00 L502.50,61.00 L502.80,61.00 L503.10,61.00 L503.40,61.00 L503.70,61.00 L504.00,61.00 L504.30,61.00 L504.60,61.00 L504.90,61.00 L505.20,61.00 L505.50,61.00 L505.80,61.00 L506.10,61.00 L506.40,61.00 L506.70,61.00 L507.00,61.00 L507.30,61.00 L507.60,61.00 L507.90,61.00 L508.20,61.00 L508.50,61.00 L508.80,61.00 L509.10,61.00 L509.40,61.00 L509.70,61.00 L510.00,61.00 L510.30,61.00 L510.60,61.00 L510.90,61.00 L511.20,61.00 L511.50,61.00 L511.80,61.00 L512.10,61.00 L512.40,61.00 L512.70,61.00 L513.00,61.01 L513.30,61.02 L513.60,61.05 L513.90,61.08 L514.20,61.12 L514.50,61.16 L514.80,61.21 L515.10,61.27 L515.40,61.33 L515.70,61.40 L516.00,61.46 L516.30,61.54 L516.60,61.61 L516.90,61.69 L517.20,61.77 L517.50,61.85 L517.80,61.93 L518.10,62.01 L518.40,62.09 L518.70,62.17 L519.00,62.25 L519.30,62.32 L519.60,62.39 L519.90,62.46 L520.20,62.52 L520.50,62.58 L520.80,62.64 L521.10,62.71 L521.40,62.79 L521.70,62.89 L522.00,63.00 L522.30,63.13 L522.60,63.28 L522.90,63.46 L523.20,63.73 L523.50,64.74 L523.80,66.44 L524.10,68.54 L524.40,70.76 L524.70,72.80 L525.00,75.11 L525.30,77.71 L525.60,79.65 L525.90,80.02 L526.20,78.97 L526.50,77.08 L526.80,74.86 L527.10,72.80 L527.40,70.67 L527.70,68.20 L528.00,65.80 L528.30,63.93 L528.60,63.00 L528.90,62.71 L529.20,62.45 L529.50,62.23 L529.80,62.04 L530.10,61.87 L530.40,61.73 L530.70,61.61 L531.00,61.51 L531.30,61.42 L531.60,61.34 L531.90,61.28 L532.20,61.22 L532.50,61.16 L532.80,61.11 L533.10,61.06 L533.40,61.01 L533.70,60.96 L534.00,60.91 L534.30,60.86 L534.60,60.82 L534.90,60.78 L535.20,60.74 L535.50,60.70 L535.80,60.66 L536.10,60.63 L536.40,60.60 L536.70,60.57 L537.00,60.54 L537.30,60.51 L537.60,60.49 L537.90,60.47 L538.20,60.45 L538.50,60.44 L538.80,60.42 L539.10,60.41 L539.40,60.41 L539.70,60.40 L540.00,60.40 L540.30,60.40 L540.60,60.40 L540.90,60.40 L541.20,60.40 L541.50,60.40 L541.80,60.40 L542.10,60.40 L542.40,60.40 L542.70,60.40 L543.00,60.40 L543.30,60.40 L543.60,60.40 L543.90,60.40 L544.20,60.40 L544.50,60.40 L544.80,60.40 L545.10,60.40 L545.40,60.40 L545.70,60.40 L546.00,60.40 L546.30,60.40 L546.60,60.40 L546.90,60.40 L547.20,60.40 L547.50,60.40 L547.80,60.40 L548.10,60.40 L548.40,60.40 L548.70,60.40 L549.00,60.40 L549.30,60.40 L549.60,60.40 L549.90,60.40 L550.20,60.40 L550.50,60.40 L550.80,60.40 L551.10,60.40 L551.40,60.40 L551.70,60.40 L552.00,60.40 L552.30,60.40 L552.60,60.40 L552.90,60.40 L553.20,60.40 L553.50,60.40 L553.80,60.40 L554.10,60.40 L554.40,60.40 L554.70,60.40 L555.00,60.41 L555.30,60.44 L555.60,60.48 L555.90,60.54 L556.20,60.62 L556.50,60.70 L556.80,60.80 L557.10,60.91 L557.40,61.04 L557.70,61.17 L558.00,61.30 L558.30,61.45 L558.60,61.60 L558.90,61.75 L559.20,61.91 L559.50,62.07 L559.80,62.23 L560.10,62.39 L560.40,62.55 L560.70,62.70 L561.00,62.85 L561.30,63.00 L561.60,63.17 L561.90,63.37 L562.20,63.60 L562.50,63.83 L562.80,64.05 L563.10,64.24 L563.40,64.39 L563.70,64.48 L564.00,64.48 L564.30,64.19 L564.60,63.66 L564.90,63.00 L565.20,62.33 L565.50,61.76 L565.80,61.40 L566.10,61.12 L566.40,60.85 L566.70,60.60 L567.00,60.37 L567.30,60.16 L567.60,59.95 L567.90,59.76 L568.20,59.58 L568.50,59.41 L568.80,59.24 L569.10,59.08 L569.40,58.92 L569.70,58.76 L570.00,58.60 L570.30,58.44 L570.60,58.28 L570.90,58.11 L571.20,57.94 L571.50,57.75 L571.80,57.56 L572.10,57.35 L572.40,57.14 L572.70,56.93 L573.00,56.72 L573.30,56.51 L573.60,56.31 L573.90,56.12 L574.20,55.94 L574.50,55.78 L574.80,55.64 L575.10,55.51 L575.40,55.42 L575.70,55.35 L576.00,55.31 L576.30,55.31 L576.60,55.43 L576.90,55.69 L577.20,56.07 L577.50,56.56 L577.80,57.16 L578.10,57.84 L578.40,58.60 L578.70,59.86 L579.00,61.92 L579.30,64.55 L579.60,67.55 L579.90,70.70 L580.20,75.27 L580.50,81.03 L580.80,85.53 L581.10,86.35 L581.40,83.22 L581.70,77.95 L582.00,72.42 L582.30,68.50 L582.60,65.98 L582.90,63.65 L583.20,61.83 L583.50,60.87 L583.80,60.83 L584.10,61.00 L584.40,61.29 L584.70,61.70 L585.00,62.20 L585.30,62.79 L585.60,63.87 L585.90,66.31 L586.20,69.15 L586.50,71.30 L586.80,71.39 L587.10,66.75 L587.40,61.23 L587.70,59.76 L588.00,60.60 L588.30,62.18 L588.60,64.18 L588.90,66.30 L589.20,69.38 L589.50,73.71 L589.80,78.18 L590.10,81.69 L590.40,83.10 L590.70,81.90 L591.00,78.91 L591.30,75.06 L591.60,71.28 L591.90,68.50 L592.20,66.48 L592.50,64.47 L592.80,62.62 L593.10,61.10 L593.40,60.08 L593.70,59.70 L594.00,59.76 L594.30,59.92 L594.60,60.18 L594.90,60.50 L595.20,60.89 L595.50,61.31 L595.80,61.75 L596.10,62.24 L596.40,62.91 L596.70,63.72 L597.00,64.65 L597.30,65.66 L597.60,66.72 L597.90,67.79 L598.20,68.88 L598.50,70.30 L598.80,71.93 L599.10,73.51 L599.40,74.77 L599.70,75.45 L600.00,75.43 L600.30,75.09 L600.60,74.53 L600.90,73.83 L601.20,73.06 L601.50,72.11 L601.80,70.61 L602.10,68.82 L602.40,67.09 L602.70,65.73 L603.00,65.03 L603.30,64.55 L603.60,64.12 L603.90,63.74 L604.20,63.43 L604.50,63.20 L604.80,63.05 L605.10,63.00 L605.40,63.17 L605.70,63.65 L606.00,64.40 L606.30,65.38 L606.60,66.54 L606.90,67.96 L607.20,70.85 L607.50,74.95 L607.80,79.52 L608.10,83.80 L608.40,88.39 L608.70,93.66 L609.00,98.46 L609.30,101.69 L609.60,102.23 L609.90,100.19 L610.20,96.94 L610.50,93.92 L610.80,92.60 L611.10,93.33 L611.40,94.99 L611.70,96.78 L612.00,97.91 L612.30,97.35 L612.60,94.58 L612.90,90.99 L613.20,88.01 L613.50,86.95 L613.80,86.56 L614.10,86.26 L614.40,86.07 L614.70,86.00 L615.00,86.42 L615.30,87.52 L615.60,89.09 L615.90,90.89 L616.20,92.98 L616.50,96.00 L616.80,99.58 L617.10,103.33 L617.40,106.90 L617.70,111.15 L618.00,115.86 L618.30,120.42 L618.60,124.20 L618.90,126.59 L619.20,126.94 L619.50,124.82 L619.80,120.80 L620.10,115.66 L620.40,110.13 L620.70,105.00 L621.00,100.56 L621.30,95.89 L621.60,91.11 L621.90,86.44 L622.20,82.10 L622.50,78.31 L622.80,75.05 L623.10,71.80 L623.40,68.74 L623.70,66.10 L624.00,64.11 L624.30,63.00 L624.60,62.45 L624.90,62.00 L625.20,61.67 L625.50,61.51 L625.80,61.64 L626.10,62.31 L626.40,63.41 L626.70,64.81 L627.00,66.38 L627.30,67.98 L627.60,69.82 L627.90,72.50 L628.20,75.27 L628.50,77.25 L628.80,77.62 L629.10,76.50 L629.40,74.43 L629.70,71.89 L630.00,69.34 L630.30,67.23 L630.60,65.96 L630.90,64.99 L631.20,64.08 L631.50,63.23 L631.80,62.46 L632.10,61.76 L632.40,61.15 L632.70,60.62 L633.00,60.19 L633.30,59.86 L633.60,59.63 L633.90,59.43 L634.20,59.24 L634.50,59.07 L634.80,58.90 L635.10,58.74 L635.40,58.60 L635.70,58.47 L636.00,58.36 L636.30,58.26 L636.60,58.17 L636.90,58.10 L637.20,58.05 L637.50,58.02 L637.80,58.00 L638.10,58.00 L638.40,58.00 L638.70,58.00 L639.00,58.00 L639.30,58.00 L639.60,58.00 L639.90,58.00 L640.20,58.00 L640.50,58.00 L640.80,58.00 L641.10,58.00 L641.40,58.00 L641.70,58.00 L642.00,58.00 L642.30,58.00 L642.60,58.00 L642.90,58.06 L643.20,58.36 L643.50,58.89 L643.80,59.61 L644.10,60.50 L644.40,61.53 L644.70,63.05 L645.00,66.06 L645.30,70.14 L645.60,74.80 L645.90,79.52 L646.20,83.80 L646.50,88.38 L646.80,93.53 L647.10,97.99 L647.40,100.51 L647.70,99.86 L648.00,96.10 L648.30,90.52 L648.60,84.51 L648.90,79.40 L649.20,74.86 L649.50,69.99 L649.80,65.28 L650.10,61.27 L650.40,58.46 L650.70,57.24 L651.00,56.54 L651.30,55.94 L651.60,55.47 L651.90,55.13 L652.20,54.94 L652.50,54.93 L652.80,55.32 L653.10,56.07 L653.40,57.06 L653.70,58.19 L654.00,59.34 L654.30,60.47 L654.60,61.79 L654.90,63.26 L655.20,64.83 L655.50,66.43 L655.80,67.99 L656.10,69.61 L656.40,71.56 L656.70,73.59 L657.00,75.40 L657.30,76.70 L657.60,77.20 L657.90,76.10 L658.20,73.41 L658.50,70.09 L658.80,67.08 L659.10,64.82 L659.40,62.44 L659.70,60.32 L660.00,58.91 L660.30,58.63 L660.60,59.04 L660.90,59.79 L661.20,60.70 L661.50,61.62 L661.80,62.54 L662.10,63.72 L662.40,64.76 L662.70,65.20 L663.00,64.94 L663.30,64.27 L663.60,63.42 L663.90,62.56 L664.20,61.90 L664.50,61.42 L664.80,60.97 L665.10,60.56 L665.40,60.19 L665.70,59.88" fill="none" stroke="#1414a8" stroke-width="1.15" stroke-linejoin="round"/>
<path d="M396.60,149.90 L396.90,149.90 L397.20,149.90 L397.50,149.90 L397.80,149.90 L398.10,149.90 L398.40,149.90 L398.70,149.90 L399.00,149.90 L399.30,149.90 L399.60,149.90 L399.90,149.90 L400.20,149.90 L400.50,149.90 L400.80,149.90 L401.10,149.92 L401.40,150.03 L401.70,150.22 L402.00,150.49 L402.30,150.81 L402.60,151.19 L402.90,151.61 L403.20,152.05 L403.50,152.51 L403.80,152.98 L404.10,153.45 L404.40,153.92 L404.70,154.43 L405.00,155.00 L405.30,155.62 L405.60,156.28 L405.90,156.98 L406.20,157.72 L406.50,158.50 L406.80,159.31 L407.10,160.14 L407.40,161.01 L407.70,161.91 L408.00,162.88 L408.30,163.92 L408.60,165.02 L408.90,166.18 L409.20,167.39 L409.50,168.65 L409.80,169.94 L410.10,171.25 L410.40,172.59 L410.70,173.95 L411.00,175.34 L411.30,176.86 L411.60,178.49 L411.90,180.19 L412.20,181.93 L412.50,183.69 L412.80,185.42 L413.10,187.09 L413.40,188.69 L413.70,190.17 L414.00,191.49 L414.30,192.71 L414.60,193.99 L414.90,195.29 L415.20,196.54 L415.50,197.70 L415.80,198.71 L416.10,199.50 L416.40,200.01 L416.70,200.20 L417.00,200.17 L417.30,200.07 L417.60,199.92 L417.90,199.73 L418.20,199.52 L418.50,199.29 L418.80,199.06 L419.10,198.83 L419.40,198.62 L419.70,198.44 L420.00,198.28 L420.30,198.11 L420.60,197.95 L420.90,197.79 L421.20,197.63 L421.50,197.47 L421.80,197.30 L422.10,197.13 L422.40,196.95 L422.70,196.76 L423.00,196.57 L423.30,196.38 L423.60,196.18 L423.90,195.98 L424.20,195.78 L424.50,195.56 L424.80,195.33 L425.10,195.08 L425.40,194.82 L425.70,194.53 L426.00,194.21 L426.30,193.86 L426.60,193.44 L426.90,192.96 L427.20,192.43 L427.50,191.85 L427.80,191.24 L428.10,190.58 L428.40,189.90 L428.70,189.19 L429.00,188.47 L429.30,187.74 L429.60,187.00 L429.90,186.18 L430.20,185.31 L430.50,184.38 L430.80,183.41 L431.10,182.41 L431.40,181.38 L431.70,180.33 L432.00,179.28 L432.30,178.23 L432.60,177.19 L432.90,176.17 L433.20,175.17 L433.50,174.21 L433.80,173.30 L434.10,172.41 L434.40,171.50 L434.70,170.59 L435.00,169.68 L435.30,168.77 L435.60,167.87 L435.90,166.99 L436.20,166.12 L436.50,165.29 L436.80,164.48 L437.10,163.71 L437.40,162.99 L437.70,162.31 L438.00,161.69 L438.30,161.11 L438.60,160.57 L438.90,160.04 L439.20,159.52 L439.50,159.03 L439.80,158.55 L440.10,158.08 L440.40,157.64 L440.70,157.22 L441.00,156.82 L441.30,156.45 L441.60,156.09 L441.90,155.77 L442.20,155.46 L442.50,155.19 L442.80,154.93 L443.10,154.69 L443.40,154.46 L443.70,154.24 L444.00,154.03 L444.30,153.83 L444.60,153.64 L444.90,153.46 L445.20,153.28 L445.50,153.12 L445.80,152.97 L446.10,152.83 L446.40,152.70 L446.70,152.58 L447.00,152.46 L447.30,152.35 L447.60,152.24 L447.90,152.12 L448.20,152.01 L448.50,151.91 L448.80,151.82 L449.10,151.74 L449.40,151.68 L449.70,151.63 L450.00,151.61 L450.30,151.62 L450.60,151.90 L450.90,152.45 L451.20,153.20 L451.50,154.08 L451.80,155.09 L452.10,157.06 L452.40,159.79 L452.70,162.73 L453.00,165.32 L453.30,167.03 L453.60,167.33 L453.90,166.36 L454.20,164.68 L454.50,162.82 L454.80,161.30 L455.10,160.01 L455.40,158.67 L455.70,157.56 L456.00,156.95 L456.30,157.01 L456.60,157.46 L456.90,158.04 L457.20,158.49 L457.50,158.57 L457.80,158.24 L458.10,157.64 L458.40,156.92 L458.70,156.26 L459.00,155.80 L459.30,155.51 L459.60,155.24 L459.90,155.00 L460.20,154.77 L460.50,154.57 L460.80,154.38 L461.10,154.20 L461.40,154.04 L461.70,153.89 L462.00,153.74 L462.30,153.60 L462.60,153.46 L462.90,153.31 L463.20,153.17 L463.50,153.03 L463.80,152.88 L464.10,152.75 L464.40,152.62 L464.70,152.50 L465.00,152.39 L465.30,152.30 L465.60,152.22 L465.90,152.16 L466.20,152.12 L466.50,152.10 L466.80,152.10 L467.10,152.13 L467.40,152.17 L467.70,152.23 L468.00,152.30 L468.30,152.38 L468.60,152.47 L468.90,152.57 L469.20,152.68 L469.50,152.79 L469.80,152.90 L470.10,153.01 L470.40,153.12 L470.70,153.22 L471.00,153.32 L471.30,153.41 L471.60,153.49 L471.90,153.56 L472.20,153.62 L472.50,153.67 L472.80,153.72 L473.10,153.78 L473.40,153.83 L473.70,153.88 L474.00,153.93 L474.30,153.98 L474.60,154.03 L474.90,154.08 L475.20,154.12 L475.50,154.16 L475.80,154.19 L476.10,154.22 L476.40,154.25 L476.70,154.27 L477.00,154.29 L477.30,154.30 L477.60,154.30 L477.90,154.28 L478.20,154.22 L478.50,154.13 L478.80,154.01 L479.10,153.86 L479.40,153.70 L479.70,153.52 L480.00,153.33 L480.30,153.13 L480.60,152.94 L480.90,152.74 L481.20,152.56 L481.50,152.39 L481.80,152.24 L482.10,152.11 L482.40,152.01 L482.70,151.94 L483.00,151.90 L483.30,151.90 L483.60,151.92 L483.90,151.96 L484.20,152.01 L484.50,152.07 L484.80,152.14 L485.10,152.21 L485.40,152.30 L485.70,152.39 L486.00,152.48 L486.30,152.57 L486.60,152.67 L486.90,152.76 L487.20,152.84 L487.50,152.93 L487.80,153.02 L488.10,153.13 L488.40,153.24 L488.70,153.37 L489.00,153.49 L489.30,153.62 L489.60,153.75 L489.90,153.87 L490.20,153.98 L490.50,154.08 L490.80,154.16 L491.10,154.23 L491.40,154.28 L491.70,154.30 L492.00,154.30 L492.30,154.27 L492.60,154.23 L492.90,154.17 L493.20,154.10 L493.50,154.02 L493.80,153.93 L494.10,153.83 L494.40,153.72 L494.70,153.61 L495.00,153.51 L495.30,153.40 L495.60,153.30 L495.90,153.20 L496.20,153.12 L496.50,153.04 L496.80,152.97 L497.10,152.92 L497.40,152.89 L497.70,152.86 L498.00,152.83 L498.30,152.80 L498.60,152.78 L498.90,152.75 L499.20,152.72 L499.50,152.70 L499.80,152.68 L500.10,152.65 L500.40,152.63 L500.70,152.61 L501.00,152.59 L501.30,152.58 L501.60,152.56 L501.90,152.55 L502.20,152.53 L502.50,152.52 L502.80,152.51 L503.10,152.51 L503.40,152.50 L503.70,152.50 L504.00,152.50 L504.30,152.50 L504.60,152.50 L504.90,152.50 L505.20,152.51 L505.50,152.51 L505.80,152.52 L506.10,152.52 L506.40,152.53 L506.70,152.53 L507.00,152.54 L507.30,152.55 L507.60,152.56 L507.90,152.57 L508.20,152.58 L508.50,152.60 L508.80,152.61 L509.10,152.63 L509.40,152.64 L509.70,152.66 L510.00,152.68 L510.30,152.70 L510.60,152.72 L510.90,152.75 L511.20,152.77 L511.50,152.80 L511.80,152.82 L512.10,152.85 L512.40,152.88 L512.70,152.91 L513.00,153.01 L513.30,153.17 L513.60,153.38 L513.90,153.64 L514.20,153.94 L514.50,154.27 L514.80,154.62 L515.10,154.98 L515.40,155.40 L515.70,156.04 L516.00,156.81 L516.30,157.63 L516.60,158.40 L516.90,159.03 L517.20,159.42 L517.50,159.49 L517.80,159.37 L518.10,159.14 L518.40,158.85 L518.70,158.55 L519.00,158.27 L519.30,158.08 L519.60,158.00 L519.90,158.05 L520.20,158.18 L520.50,158.40 L520.80,158.69 L521.10,159.06 L521.40,159.51 L521.70,160.02 L522.00,160.87 L522.30,162.85 L522.60,165.76 L522.90,169.34 L523.20,173.32 L523.50,177.44 L523.80,181.99 L524.10,188.04 L524.40,194.52 L524.70,200.18 L525.00,203.98 L525.30,207.14 L525.60,209.39 L525.90,209.78 L526.20,208.23 L526.50,205.38 L526.80,201.89 L527.10,197.55 L527.40,190.66 L527.70,182.54 L528.00,174.80 L528.30,169.02 L528.60,165.85 L528.90,163.18 L529.20,160.88 L529.50,159.02 L529.80,157.67 L530.10,156.90 L530.40,156.46 L530.70,156.07 L531.00,155.72 L531.30,155.42 L531.60,155.15 L531.90,154.92 L532.20,154.73 L532.50,154.57 L532.80,154.45 L533.10,154.36 L533.40,154.30 L533.70,154.26 L534.00,154.21 L534.30,154.17 L534.60,154.13 L534.90,154.10 L535.20,154.06 L535.50,154.03 L535.80,154.00 L536.10,153.97 L536.40,153.95 L536.70,153.92 L537.00,153.90 L537.30,153.88 L537.60,153.87 L537.90,153.85 L538.20,153.84 L538.50,153.83 L538.80,153.82 L539.10,153.81 L539.40,153.80 L539.70,153.80 L540.00,153.80 L540.30,153.81 L540.60,153.84 L540.90,153.89 L541.20,153.95 L541.50,154.03 L541.80,154.11 L542.10,154.21 L542.40,154.30 L542.70,154.39 L543.00,154.49 L543.30,154.57 L543.60,154.65 L543.90,154.72 L544.20,154.79 L544.50,154.86 L544.80,154.92 L545.10,154.99 L545.40,155.05 L545.70,155.12 L546.00,155.18 L546.30,155.25 L546.60,155.31 L546.90,155.38 L547.20,155.44 L547.50,155.51 L547.80,155.57 L548.10,155.63 L548.40,155.69 L548.70,155.76 L549.00,155.82 L549.30,155.88 L549.60,155.94 L549.90,156.00 L550.20,156.06 L550.50,156.12 L550.80,156.18 L551.10,156.24 L551.40,156.29 L551.70,156.35 L552.00,156.41 L552.30,156.46 L552.60,156.52 L552.90,156.58 L553.20,156.64 L553.50,156.70 L553.80,156.77 L554.10,156.83 L554.40,156.90 L554.70,156.96 L555.00,157.03 L555.30,157.10 L555.60,157.16 L555.90,157.22 L556.20,157.28 L556.50,157.34 L556.80,157.39 L557.10,157.44 L557.40,157.48 L557.70,157.52 L558.00,157.55 L558.30,157.57 L558.60,157.59 L558.90,157.60 L559.20,157.60 L559.50,157.57 L559.80,157.52 L560.10,157.44 L560.40,157.33 L560.70,157.21 L561.00,157.08 L561.30,156.93 L561.60,156.77 L561.90,156.61 L562.20,156.45 L562.50,156.29 L562.80,156.13 L563.10,155.98 L563.40,155.84 L563.70,155.71 L564.00,155.58 L564.30,155.45 L564.60,155.30 L564.90,155.16 L565.20,155.01 L565.50,154.87 L565.80,154.72 L566.10,154.57 L566.40,154.42 L566.70,154.27 L567.00,154.13 L567.30,153.99 L567.60,153.85 L567.90,153.72 L568.20,153.59 L568.50,153.47 L568.80,153.36 L569.10,153.26 L569.40,153.16 L569.70,153.08 L570.00,153.00 L570.30,152.93 L570.60,152.86 L570.90,152.79 L571.20,152.72 L571.50,152.65 L571.80,152.58 L572.10,152.52 L572.40,152.46 L572.70,152.40 L573.00,152.34 L573.30,152.29 L573.60,152.25 L573.90,152.21 L574.20,152.17 L574.50,152.14 L574.80,152.12 L575.10,152.11 L575.40,152.10 L575.70,152.10 L576.00,152.11 L576.30,152.14 L576.60,152.17 L576.90,152.21 L577.20,152.25 L577.50,152.31 L577.80,152.37 L578.10,152.44 L578.40,152.52 L578.70,152.61 L579.00,152.70 L579.30,152.79 L579.60,152.89 L579.90,153.00 L580.20,153.15 L580.50,153.36 L580.80,153.63 L581.10,153.96 L581.40,154.32 L581.70,154.72 L582.00,155.15 L582.30,155.59 L582.60,156.03 L582.90,156.47 L583.20,156.90 L583.50,157.32 L583.80,157.75 L584.10,158.20 L584.40,158.66 L584.70,159.16 L585.00,159.68 L585.30,160.25 L585.60,160.86 L585.90,161.56 L586.20,162.66 L586.50,163.82 L586.80,164.54 L587.10,163.77 L587.40,160.75 L587.70,158.23 L588.00,158.42 L588.30,160.29 L588.60,163.06 L588.90,166.04 L589.20,168.66 L589.50,171.74 L589.80,175.10 L590.10,178.09 L590.40,180.07 L590.70,180.32 L591.00,177.94 L591.30,173.85 L591.60,169.33 L591.90,165.70 L592.20,162.78 L592.50,159.73 L592.80,156.83 L593.10,154.40 L593.40,152.72 L593.70,152.10 L594.00,152.37 L594.30,153.07 L594.60,154.05 L594.90,155.17 L595.20,156.26 L595.50,157.19 L595.80,158.02 L596.10,158.84 L596.40,159.68 L596.70,160.59 L597.00,161.62 L597.30,162.83 L597.60,164.35 L597.90,166.12 L598.20,168.04 L598.50,170.00 L598.80,172.42 L599.10,175.28 L599.40,177.83 L599.70,179.29 L600.00,178.78 L600.30,176.00 L600.60,171.96 L600.90,167.70 L601.20,164.27 L601.50,162.22 L601.80,160.40 L602.10,158.74 L602.40,157.27 L602.70,156.02 L603.00,155.02 L603.30,154.30 L603.60,153.74 L603.90,153.22 L604.20,152.73 L604.50,152.28 L604.80,151.88 L605.10,151.53 L605.40,151.24 L605.70,151.02 L606.00,150.87 L606.30,150.80 L606.60,150.90 L606.90,151.38 L607.20,152.19 L607.50,153.25 L607.80,154.48 L608.10,155.80 L608.40,157.58 L608.70,160.06 L609.00,162.93 L609.30,165.90 L609.60,168.83 L609.90,172.56 L610.20,175.27 L610.50,173.97 L610.80,169.33 L611.10,168.61 L611.40,175.95 L611.70,178.35 L612.00,173.34 L612.30,167.35 L612.60,165.92 L612.90,168.41 L613.20,171.38 L613.50,171.91 L613.80,168.30 L614.10,162.72 L614.40,157.88 L614.70,155.40 L615.00,153.30 L615.30,151.59 L615.60,150.52 L615.90,150.44 L616.20,152.27 L616.50,155.66 L616.80,159.85 L617.10,165.00 L617.40,172.78 L617.70,181.61 L618.00,189.70 L618.30,197.86 L618.60,206.33 L618.90,212.40 L619.20,213.39 L619.50,208.19 L619.80,199.43 L620.10,190.16 L620.40,182.00 L620.70,172.80 L621.00,164.43 L621.30,159.10 L621.60,156.20 L621.90,153.86 L622.20,152.41 L622.50,152.29 L622.80,154.53 L623.10,157.77 L623.40,160.01 L623.70,159.74 L624.00,157.82 L624.30,155.38 L624.60,153.46 L624.90,153.01 L625.20,153.20 L625.50,153.59 L625.80,154.13 L626.10,154.79 L626.40,155.54 L626.70,156.51 L627.00,158.10 L627.30,160.09 L627.60,162.19 L627.90,164.18 L628.20,166.67 L628.50,169.11 L628.80,170.58 L629.10,170.04 L629.40,167.25 L629.70,163.53 L630.00,160.30 L630.30,158.79 L630.60,157.92 L630.90,157.16 L631.20,156.51 L631.50,155.98 L631.80,155.56 L632.10,155.27 L632.40,155.10 L632.70,155.00 L633.00,154.92 L633.30,154.85 L633.60,154.79 L633.90,154.74 L634.20,154.69 L634.50,154.66 L634.80,154.62 L635.10,154.59 L635.40,154.55 L635.70,154.51 L636.00,154.47 L636.30,154.41 L636.60,154.35 L636.90,154.27 L637.20,154.16 L637.50,154.03 L637.80,153.87 L638.10,153.69 L638.40,153.49 L638.70,153.28 L639.00,153.07 L639.30,152.85 L639.60,152.63 L639.90,152.42 L640.20,152.21 L640.50,152.02 L640.80,151.85 L641.10,151.70 L641.40,151.57 L641.70,151.48 L642.00,151.42 L642.30,151.40 L642.60,151.44 L642.90,151.57 L643.20,151.79 L643.50,152.08 L643.80,152.45 L644.10,152.90 L644.40,153.41 L644.70,154.30 L645.00,156.40 L645.30,159.40 L645.60,162.93 L645.90,166.61 L646.20,170.81 L646.50,176.68 L646.80,181.99 L647.10,184.30 L647.40,181.17 L647.70,174.16 L648.00,166.82 L648.30,162.37 L648.60,159.03 L648.90,156.30 L649.20,154.81 L649.50,155.28 L649.80,157.55 L650.10,160.10 L650.40,161.30 L650.70,160.46 L651.00,158.56 L651.30,156.50 L651.60,155.20 L651.90,155.14 L652.20,155.36 L652.50,155.72 L652.80,156.20 L653.10,156.76 L653.40,157.36 L653.70,157.97 L654.00,158.57 L654.30,159.10 L654.60,159.64 L654.90,160.26 L655.20,160.90 L655.50,161.53 L655.80,162.10 L656.10,162.58 L656.40,162.92 L656.70,163.13 L657.00,163.32 L657.30,163.49 L657.60,163.63 L657.90,163.75 L658.20,163.84 L658.50,163.89 L658.80,163.84 L659.10,163.06 L659.40,161.74 L659.70,160.34 L660.00,159.33 L660.30,159.18 L660.60,160.09 L660.90,161.41 L661.20,162.32 L661.50,161.92 L661.80,160.02 L662.10,157.90 L662.40,156.90 L662.70,157.61 L663.00,159.12 L663.30,160.46 L663.60,160.70 L663.90,159.51 L664.20,157.79 L664.50,156.60 L664.80,156.50 L665.10,156.54 L665.40,156.65 L665.70,156.90" fill="none" stroke="#0f8a0f" stroke-width="1.15" stroke-linejoin="round"/>
<rect x="514.3" y="48.8" width="21.6" height="172" fill="url(#bandB)"/>
<path d="M396.0,237.75 V25.3 H678.5 V237.75" fill="none" stroke="#000" stroke-width="1.6"/>
<path d="M395.1,237.75 H679.4" fill="none" stroke="#000" stroke-width="1.75"/>
<path d="M665.90,237.75 v4.9" stroke="#333" stroke-width="0.9"/>
<text x="665.90" y="254.2" font-size="11.0" text-anchor="middle">500</text>
<path d="M644.12,237.75 v2.8" stroke="#333" stroke-width="0.8"/>
<path d="M622.35,237.75 v4.9" stroke="#333" stroke-width="0.9"/>
<text x="622.35" y="254.2" font-size="11.0" text-anchor="middle">1000</text>
<path d="M600.58,237.75 v2.8" stroke="#333" stroke-width="0.8"/>
<path d="M578.80,237.75 v4.9" stroke="#333" stroke-width="0.9"/>
<text x="578.80" y="254.2" font-size="11.0" text-anchor="middle">1500</text>
<path d="M557.02,237.75 v2.8" stroke="#333" stroke-width="0.8"/>
<path d="M535.25,237.75 v4.9" stroke="#333" stroke-width="0.9"/>
<text x="535.25" y="254.2" font-size="11.0" text-anchor="middle">2000</text>
<path d="M513.48,237.75 v2.8" stroke="#333" stroke-width="0.8"/>
<path d="M491.70,237.75 v4.9" stroke="#333" stroke-width="0.9"/>
<text x="491.70" y="254.2" font-size="11.0" text-anchor="middle">2500</text>
<path d="M469.93,237.75 v2.8" stroke="#333" stroke-width="0.8"/>
<path d="M448.15,237.75 v4.9" stroke="#333" stroke-width="0.9"/>
<text x="448.15" y="254.2" font-size="11.0" text-anchor="middle">3000</text>
<path d="M426.38,237.75 v2.8" stroke="#333" stroke-width="0.8"/>
<path d="M404.60,237.75 v4.9" stroke="#333" stroke-width="0.9"/>
<text x="404.60" y="254.2" font-size="11.0" text-anchor="middle">3500</text>
<text x="459.6" y="275.2" font-size="15.9">Wavenumber (cm<tspan font-size="10" dy="-5.5">-1</tspan><tspan dy="5.5">)</tspan></text>
<text transform="translate(383.5,201.3) rotate(-90)" font-size="15.9">%Transmittance</text>
<path d="M539.5,42 H565.5" stroke="#0a0a9e" stroke-width="3.1"/>
<text x="570.9" y="47.5" font-size="15.7">Heated sample</text>
<path d="M537.8,135.7 H563.6" stroke="#0f8a0f" stroke-width="3.1"/>
<text x="569.0" y="141.6" font-size="15.7">Pristine sample</text>
<text x="365.0" y="13.9" font-size="19" font-weight="bold">b)</text>
<path d="M25.30,379.90 L25.70,379.88 L26.10,379.87 L26.50,379.85 L26.90,379.83 L27.30,379.82 L27.70,379.80 L28.10,379.78 L28.50,379.76 L28.90,379.75 L29.30,379.73 L29.70,379.71 L30.10,379.69 L30.50,379.68 L30.90,379.66 L31.30,379.64 L31.70,379.62 L32.10,379.60 L32.50,379.58 L32.90,379.57 L33.30,379.55 L33.70,379.53 L34.10,379.51 L34.50,379.49 L34.90,379.47 L35.30,379.45 L35.70,379.44 L36.10,379.42 L36.50,379.40 L36.90,379.38 L37.30,379.36 L37.70,379.34 L38.10,379.32 L38.50,379.30 L38.90,379.28 L39.30,379.26 L39.70,379.24 L40.10,379.22 L40.50,379.20 L40.90,379.18 L41.30,379.16 L41.70,379.14 L42.10,379.12 L42.50,379.10 L42.90,379.08 L43.30,379.06 L43.70,379.04 L44.10,379.02 L44.50,379.00 L44.90,378.97 L45.30,378.95 L45.70,378.93 L46.10,378.91 L46.50,378.89 L46.90,378.87 L47.30,378.85 L47.70,378.82 L48.10,378.80 L48.50,378.78 L48.90,378.76 L49.30,378.73 L49.70,378.71 L50.10,378.69 L50.50,378.66 L50.90,378.64 L51.30,378.62 L51.70,378.59 L52.10,378.57 L52.50,378.54 L52.90,378.52 L53.30,378.49 L53.70,378.47 L54.10,378.44 L54.50,378.42 L54.90,378.39 L55.30,378.37 L55.70,378.34 L56.10,378.32 L56.50,378.29 L56.90,378.27 L57.30,378.24 L57.70,378.21 L58.10,378.19 L58.50,378.16 L58.90,378.14 L59.30,378.11 L59.70,378.09 L60.10,378.06 L60.50,378.03 L60.90,378.01 L61.30,377.98 L61.70,377.96 L62.10,377.93 L62.50,377.90 L62.90,377.88 L63.30,377.85 L63.70,377.83 L64.10,377.80 L64.50,377.78 L64.90,377.75 L65.30,377.73 L65.70,377.70 L66.10,377.68 L66.50,377.65 L66.90,377.63 L67.30,377.60 L67.70,377.58 L68.10,377.55 L68.50,377.53 L68.90,377.51 L69.30,377.48 L69.70,377.46 L70.10,377.44 L70.50,377.41 L70.90,377.39 L71.30,377.37 L71.70,377.34 L72.10,377.32 L72.50,377.30 L72.90,377.28 L73.30,377.26 L73.70,377.23 L74.10,377.21 L74.50,377.19 L74.90,377.17 L75.30,377.15 L75.70,377.13 L76.10,377.11 L76.50,377.09 L76.90,377.07 L77.30,377.05 L77.70,377.03 L78.10,377.01 L78.50,376.98 L78.90,376.96 L79.30,376.94 L79.70,376.92 L80.10,376.90 L80.50,376.88 L80.90,376.86 L81.30,376.84 L81.70,376.82 L82.10,376.81 L82.50,376.79 L82.90,376.77 L83.30,376.75 L83.70,376.73 L84.10,376.71 L84.50,376.69 L84.90,376.67 L85.30,376.65 L85.70,376.63 L86.10,376.61 L86.50,376.59 L86.90,376.57 L87.30,376.55 L87.70,376.53 L88.10,376.52 L88.50,376.50 L88.90,376.48 L89.30,376.46 L89.70,376.44 L90.10,376.42 L90.50,376.40 L90.90,376.38 L91.30,376.36 L91.70,376.34 L92.10,376.32 L92.50,376.31 L92.90,376.29 L93.30,376.27 L93.70,376.25 L94.10,376.23 L94.50,376.21 L94.90,376.19 L95.30,376.17 L95.70,376.15 L96.10,376.13 L96.50,376.11 L96.90,376.09 L97.30,376.07 L97.70,376.05 L98.10,376.03 L98.50,376.01 L98.90,376.00 L99.30,375.98 L99.70,375.96 L100.10,375.94 L100.50,375.92 L100.90,375.90 L101.30,375.88 L101.70,375.86 L102.10,375.84 L102.50,375.83 L102.90,375.81 L103.30,375.79 L103.70,375.77 L104.10,375.76 L104.50,375.74 L104.90,375.72 L105.30,375.70 L105.70,375.69 L106.10,375.67 L106.50,375.65 L106.90,375.64 L107.30,375.62 L107.70,375.60 L108.10,375.59 L108.50,375.57 L108.90,375.55 L109.30,375.53 L109.70,375.52 L110.10,375.50 L110.50,375.48 L110.90,375.47 L111.30,375.45 L111.70,375.43 L112.10,375.41 L112.50,375.40 L112.90,375.38 L113.30,375.36 L113.70,375.34 L114.10,375.32 L114.50,375.30 L114.90,375.29 L115.30,375.27 L115.70,375.25 L116.10,375.23 L116.50,375.21 L116.90,375.19 L117.30,375.17 L117.70,375.15 L118.10,375.13 L118.50,375.11 L118.90,375.08 L119.30,375.06 L119.70,375.04 L120.10,375.02 L120.50,374.99 L120.90,374.97 L121.30,374.95 L121.70,374.92 L122.10,374.90 L122.50,374.87 L122.90,374.85 L123.30,374.82 L123.70,374.80 L124.10,374.77 L124.50,374.74 L124.90,374.71 L125.30,374.69 L125.70,374.66 L126.10,374.63 L126.50,374.59 L126.90,374.56 L127.30,374.53 L127.70,374.49 L128.10,374.46 L128.50,374.42 L128.90,374.38 L129.30,374.34 L129.70,374.30 L130.10,374.26 L130.50,374.22 L130.90,374.18 L131.30,374.13 L131.70,374.09 L132.10,374.04 L132.50,374.00 L132.90,373.95 L133.30,373.90 L133.70,373.85 L134.10,373.80 L134.50,373.75 L134.90,373.69 L135.30,373.64 L135.70,373.59 L136.10,373.53 L136.50,373.47 L136.90,373.41 L137.30,373.35 L137.70,373.28 L138.10,373.22 L138.50,373.15 L138.90,373.08 L139.30,373.00 L139.70,372.93 L140.10,372.85 L140.50,372.77 L140.90,372.69 L141.30,372.60 L141.70,372.52 L142.10,372.43 L142.50,372.34 L142.90,372.24 L143.30,372.15 L143.70,372.05 L144.10,371.95 L144.50,371.84 L144.90,371.72 L145.30,371.60 L145.70,371.47 L146.10,371.34 L146.50,371.20 L146.90,371.07 L147.30,370.92 L147.70,370.78 L148.10,370.63 L148.50,370.48 L148.90,370.33 L149.30,370.18 L149.70,370.03 L150.10,369.88 L150.50,369.73 L150.90,369.58 L151.30,369.44 L151.70,369.29 L152.10,369.15 L152.50,369.00 L152.90,368.86 L153.30,368.72 L153.70,368.57 L154.10,368.43 L154.50,368.28 L154.90,368.14 L155.30,367.99 L155.70,367.84 L156.10,367.68 L156.50,367.53 L156.90,367.37 L157.30,367.20 L157.70,367.03 L158.10,366.86 L158.50,366.68 L158.90,366.49 L159.30,366.30 L159.70,366.10 L160.10,365.89 L160.50,365.68 L160.90,365.45 L161.30,365.22 L161.70,364.98 L162.10,364.73 L162.50,364.48 L162.90,364.21 L163.30,363.94 L163.70,363.67 L164.10,363.39 L164.50,363.10 L164.90,362.80 L165.30,362.48 L165.70,362.14 L166.10,361.78 L166.50,361.42 L166.90,361.04 L167.30,360.67 L167.70,360.29 L168.10,359.91 L168.50,359.54 L168.90,359.17 L169.30,358.82 L169.70,358.48 L170.10,358.16 L170.50,357.83 L170.90,357.51 L171.30,357.19 L171.70,356.87 L172.10,356.56 L172.50,356.26 L172.90,355.95 L173.30,355.66 L173.70,355.37 L174.10,355.09 L174.50,354.82 L174.90,354.56 L175.30,354.31 L175.70,354.06 L176.10,353.82 L176.50,353.58 L176.90,353.35 L177.30,353.13 L177.70,352.91 L178.10,352.71 L178.50,352.52 L178.90,352.34 L179.30,352.19 L179.70,352.07 L180.10,351.97 L180.50,351.84 L180.90,351.66 L181.30,351.34 L181.70,350.79 L182.10,350.08 L182.50,349.26 L182.90,347.93 L183.30,347.49 L183.70,349.32 L184.10,352.34 L184.50,356.32 L184.90,361.76 L185.30,365.00 L185.70,365.77 L186.10,366.35 L186.50,366.75 L186.90,366.96 L187.30,367.01 L187.70,367.03 L188.10,367.05 L188.50,367.06 L188.90,367.07 L189.30,367.08 L189.70,367.09 L190.10,367.10 L190.50,367.12 L190.90,367.13 L191.30,367.14 L191.70,367.15 L192.10,367.17 L192.50,367.18 L192.90,367.19 L193.30,367.21 L193.70,367.23 L194.10,367.25 L194.50,367.27 L194.90,367.29 L195.30,367.33 L195.70,367.38 L196.10,367.44 L196.50,367.53 L196.90,367.63 L197.30,367.74 L197.70,367.86 L198.10,367.99 L198.50,368.13 L198.90,368.28 L199.30,368.43 L199.70,368.59 L200.10,368.74 L200.50,368.90 L200.90,369.06 L201.30,369.22 L201.70,369.38 L202.10,369.57 L202.50,369.78 L202.90,370.01 L203.30,370.25 L203.70,370.50 L204.10,370.75 L204.50,370.99 L204.90,371.23 L205.30,371.44 L205.70,371.64 L206.10,371.80 L206.50,371.93 L206.90,372.02 L207.30,372.09 L207.70,372.17 L208.10,372.24 L208.50,372.30 L208.90,372.37 L209.30,372.43 L209.70,372.49 L210.10,372.55 L210.50,372.61 L210.90,372.66 L211.30,372.71 L211.70,372.75 L212.10,372.79 L212.50,372.83 L212.90,372.87 L213.30,372.90 L213.70,372.93 L214.10,372.95 L214.50,372.97 L214.90,372.98 L215.30,372.99 L215.70,373.00 L216.10,373.00 L216.50,372.99 L216.90,372.98 L217.30,372.97 L217.70,372.94 L218.10,372.92 L218.50,372.88 L218.90,372.85 L219.30,372.81 L219.70,372.76 L220.10,372.71 L220.50,372.66 L220.90,372.61 L221.30,372.55 L221.70,372.49 L222.10,372.43 L222.50,372.37 L222.90,372.31 L223.30,372.25 L223.70,372.18 L224.10,372.12 L224.50,372.06 L224.90,372.00 L225.30,371.93 L225.70,371.88 L226.10,371.82 L226.50,371.76 L226.90,371.71 L227.30,371.66 L227.70,371.61 L228.10,371.57 L228.50,371.53 L228.90,371.49 L229.30,371.46 L229.70,371.43 L230.10,371.41 L230.50,371.40 L230.90,371.38 L231.30,371.37 L231.70,371.36 L232.10,371.34 L232.50,371.33 L232.90,371.32 L233.30,371.30 L233.70,371.29 L234.10,371.28 L234.50,371.26 L234.90,371.25 L235.30,371.24 L235.70,371.23 L236.10,371.22 L236.50,371.21 L236.90,371.19 L237.30,371.18 L237.70,371.17 L238.10,371.16 L238.50,371.15 L238.90,371.14 L239.30,371.13 L239.70,371.12 L240.10,371.11 L240.50,371.10 L240.90,371.09 L241.30,371.08 L241.70,371.07 L242.10,371.06 L242.50,371.05 L242.90,371.04 L243.30,371.03 L243.70,371.02 L244.10,371.01 L244.50,371.00 L244.90,370.99 L245.30,370.99 L245.70,370.98 L246.10,370.97 L246.50,370.96 L246.90,370.95 L247.30,370.94 L247.70,370.94 L248.10,370.93 L248.50,370.92 L248.90,370.91 L249.30,370.91 L249.70,370.90 L250.10,370.89 L250.50,370.88 L250.90,370.88 L251.30,370.87 L251.70,370.86 L252.10,370.86 L252.50,370.85 L252.90,370.84 L253.30,370.84 L253.70,370.83 L254.10,370.83 L254.50,370.82 L254.90,370.81 L255.30,370.81 L255.70,370.80 L256.10,370.80 L256.50,370.79 L256.90,370.79 L257.30,370.78 L257.70,370.77 L258.10,370.77 L258.50,370.76 L258.90,370.76 L259.30,370.75 L259.70,370.75 L260.10,370.74 L260.50,370.74 L260.90,370.73 L261.30,370.73 L261.70,370.73 L262.10,370.72 L262.50,370.72 L262.90,370.71 L263.30,370.71 L263.70,370.70 L264.10,370.70 L264.50,370.69 L264.90,370.69 L265.30,370.69 L265.70,370.68 L266.10,370.68 L266.50,370.67 L266.90,370.67 L267.30,370.67 L267.70,370.66 L268.10,370.66 L268.50,370.66 L268.90,370.65 L269.30,370.65 L269.70,370.64 L270.10,370.64 L270.50,370.64 L270.90,370.63 L271.30,370.63 L271.70,370.63 L272.10,370.62 L272.50,370.62 L272.90,370.62 L273.30,370.61 L273.70,370.61 L274.10,370.61 L274.50,370.60 L274.90,370.60 L275.30,370.60 L275.70,370.60 L276.10,370.59 L276.50,370.59 L276.90,370.59 L277.30,370.58 L277.70,370.58 L278.10,370.58 L278.50,370.58 L278.90,370.57 L279.30,370.57 L279.70,370.57 L280.10,370.57 L280.50,370.56 L280.90,370.56 L281.30,370.56 L281.70,370.56 L282.10,370.56 L282.50,370.55 L282.90,370.55 L283.30,370.55 L283.70,370.55 L284.10,370.55 L284.50,370.54 L284.90,370.54 L285.30,370.54 L285.70,370.54 L286.10,370.54 L286.50,370.53 L286.90,370.53 L287.30,370.53 L287.70,370.53 L288.10,370.53 L288.50,370.53 L288.90,370.53 L289.30,370.52 L289.70,370.52 L290.10,370.52 L290.50,370.52 L290.90,370.52 L291.30,370.52 L291.70,370.52 L292.10,370.51 L292.50,370.51 L292.90,370.51 L293.30,370.51 L293.70,370.51 L294.10,370.51 L294.50,370.51 L294.90,370.50 L295.30,370.50 L295.70,370.50 L296.10,370.50 L296.50,370.50 L296.90,370.50 L297.30,370.50 L297.70,370.49 L298.10,370.49 L298.50,370.49 L298.90,370.49 L299.30,370.49 L299.70,370.49 L300.10,370.49 L300.50,370.48 L300.90,370.48 L301.30,370.48 L301.70,370.48 L302.10,370.48 L302.50,370.48 L302.90,370.47 L303.30,370.47 L303.70,370.47 L304.10,370.47 L304.50,370.47 L304.90,370.46 L305.30,370.46 L305.70,370.46 L306.10,370.46 L306.50,370.46 L306.90,370.45 L307.30,370.45 L307.70,370.45 L308.10,370.45 L308.50,370.44 L308.90,370.44 L309.30,370.44 L309.70,370.44 L310.10,370.43 L310.50,370.43 L310.90,370.43 L311.30,370.43 L311.70,370.42 L312.10,370.42 L312.50,370.42 L312.90,370.41 L313.30,370.41 L313.70,370.41 L314.10,370.40 L314.50,370.40 L314.90,370.40 L315.30,370.39 L315.70,370.39 L316.10,370.38 L316.50,370.38 L316.90,370.37 L317.30,370.37 L317.70,370.36 L318.10,370.36 L318.50,370.35 L318.90,370.35 L319.30,370.34 L319.70,370.33 L320.10,370.33 L320.50,370.32 L320.90,370.31 L321.30,370.31 L321.70,370.30 L322.10,370.29 L322.50,370.28 L322.90,370.27 L323.30,370.27 L323.70,370.26 L324.10,370.25 L324.50,370.24 L324.90,370.23 L325.30,370.22 L325.70,370.21 L326.10,370.20 L326.50,370.19 L326.90,370.18 L327.30,370.17 L327.70,370.16 L328.10,370.15 L328.50,370.14 L328.90,370.13 L329.30,370.12 L329.70,370.11 L330.10,370.10 L330.50,370.09 L330.90,370.08 L331.30,370.06 L331.70,370.05 L332.10,370.04 L332.50,370.03 L332.90,370.02 L333.30,370.01 L333.70,369.99 L334.10,369.98 L334.50,369.97 L334.90,369.96 L335.30,369.94 L335.70,369.93 L336.10,369.92 L336.50,369.91 L336.90,369.89 L337.30,369.88 L337.70,369.87 L338.10,369.85 L338.50,369.84 L338.90,369.83 L339.30,369.81 L339.70,369.80 L340.10,369.79 L340.50,369.77 L340.90,369.76 L341.30,369.75 L341.70,369.73 L342.10,369.72 L342.50,369.70 L342.90,369.69 L343.30,369.68 L343.70,369.66 L344.10,369.65 L344.50,369.63 L344.90,369.62 L345.30,369.61 L345.5,409.6 L25.3,419.9 Z" fill="url(#fillBlue)" stroke="none"/>
<path d="M25.30,494.80 L25.60,494.80 L25.90,494.79 L26.20,494.79 L26.50,494.78 L26.80,494.78 L27.10,494.78 L27.40,494.77 L27.70,494.77 L28.00,494.76 L28.30,494.76 L28.60,494.75 L28.90,494.75 L29.20,494.74 L29.50,494.74 L29.80,494.73 L30.10,494.73 L30.40,494.72 L30.70,494.71 L31.00,494.71 L31.30,494.70 L31.60,494.70 L31.90,494.69 L32.20,494.68 L32.50,494.68 L32.80,494.67 L33.10,494.66 L33.40,494.66 L33.70,494.65 L34.00,494.64 L34.30,494.64 L34.60,494.63 L34.90,494.62 L35.20,494.62 L35.50,494.61 L35.80,494.60 L36.10,494.59 L36.40,494.59 L36.70,494.58 L37.00,494.57 L37.30,494.56 L37.60,494.56 L37.90,494.55 L38.20,494.54 L38.50,494.53 L38.80,494.52 L39.10,494.51 L39.40,494.51 L39.70,494.50 L40.00,494.49 L40.30,494.48 L40.60,494.47 L40.90,494.46 L41.20,494.46 L41.50,494.45 L41.80,494.44 L42.10,494.43 L42.40,494.42 L42.70,494.41 L43.00,494.40 L43.30,494.39 L43.60,494.38 L43.90,494.37 L44.20,494.37 L44.50,494.36 L44.80,494.35 L45.10,494.34 L45.40,494.33 L45.70,494.32 L46.00,494.31 L46.30,494.30 L46.60,494.29 L46.90,494.28 L47.20,494.27 L47.50,494.26 L47.80,494.25 L48.10,494.24 L48.40,494.23 L48.70,494.22 L49.00,494.21 L49.30,494.19 L49.60,494.18 L49.90,494.17 L50.20,494.16 L50.50,494.15 L50.80,494.14 L51.10,494.12 L51.40,494.11 L51.70,494.10 L52.00,494.08 L52.30,494.07 L52.60,494.06 L52.90,494.04 L53.20,494.03 L53.50,494.02 L53.80,494.00 L54.10,493.99 L54.40,493.98 L54.70,493.96 L55.00,493.95 L55.30,493.93 L55.60,493.92 L55.90,493.90 L56.20,493.89 L56.50,493.87 L56.80,493.86 L57.10,493.84 L57.40,493.83 L57.70,493.81 L58.00,493.80 L58.30,493.78 L58.60,493.77 L58.90,493.75 L59.20,493.74 L59.50,493.72 L59.80,493.70 L60.10,493.69 L60.40,493.67 L60.70,493.66 L61.00,493.64 L61.30,493.62 L61.60,493.61 L61.90,493.59 L62.20,493.57 L62.50,493.56 L62.80,493.54 L63.10,493.52 L63.40,493.51 L63.70,493.49 L64.00,493.47 L64.30,493.46 L64.60,493.44 L64.90,493.42 L65.20,493.41 L65.50,493.39 L65.80,493.37 L66.10,493.36 L66.40,493.34 L66.70,493.32 L67.00,493.31 L67.30,493.29 L67.60,493.27 L67.90,493.26 L68.20,493.24 L68.50,493.22 L68.80,493.21 L69.10,493.19 L69.40,493.17 L69.70,493.15 L70.00,493.14 L70.30,493.12 L70.60,493.10 L70.90,493.09 L71.20,493.07 L71.50,493.05 L71.80,493.04 L72.10,493.02 L72.40,493.01 L72.70,492.99 L73.00,492.97 L73.30,492.96 L73.60,492.94 L73.90,492.92 L74.20,492.91 L74.50,492.89 L74.80,492.87 L75.10,492.86 L75.40,492.84 L75.70,492.82 L76.00,492.80 L76.30,492.79 L76.60,492.77 L76.90,492.75 L77.20,492.74 L77.50,492.72 L77.80,492.70 L78.10,492.68 L78.40,492.67 L78.70,492.65 L79.00,492.63 L79.30,492.61 L79.60,492.60 L79.90,492.58 L80.20,492.56 L80.50,492.54 L80.80,492.53 L81.10,492.51 L81.40,492.49 L81.70,492.47 L82.00,492.45 L82.30,492.44 L82.60,492.42 L82.90,492.40 L83.20,492.38 L83.50,492.36 L83.80,492.35 L84.10,492.33 L84.40,492.31 L84.70,492.29 L85.00,492.27 L85.30,492.25 L85.60,492.24 L85.90,492.22 L86.20,492.20 L86.50,492.18 L86.80,492.16 L87.10,492.14 L87.40,492.12 L87.70,492.11 L88.00,492.09 L88.30,492.07 L88.60,492.05 L88.90,492.03 L89.20,492.01 L89.50,491.99 L89.80,491.97 L90.10,491.96 L90.40,491.94 L90.70,491.92 L91.00,491.90 L91.30,491.88 L91.60,491.86 L91.90,491.84 L92.20,491.82 L92.50,491.80 L92.80,491.78 L93.10,491.77 L93.40,491.75 L93.70,491.73 L94.00,491.71 L94.30,491.69 L94.60,491.67 L94.90,491.65 L95.20,491.63 L95.50,491.61 L95.80,491.59 L96.10,491.57 L96.40,491.55 L96.70,491.54 L97.00,491.52 L97.30,491.50 L97.60,491.48 L97.90,491.46 L98.20,491.44 L98.50,491.42 L98.80,491.40 L99.10,491.38 L99.40,491.36 L99.70,491.34 L100.00,491.32 L100.30,491.30 L100.60,491.29 L100.90,491.27 L101.20,491.25 L101.50,491.23 L101.80,491.21 L102.10,491.19 L102.40,491.17 L102.70,491.16 L103.00,491.14 L103.30,491.12 L103.60,491.10 L103.90,491.08 L104.20,491.06 L104.50,491.05 L104.80,491.03 L105.10,491.01 L105.40,490.99 L105.70,490.97 L106.00,490.96 L106.30,490.94 L106.60,490.92 L106.90,490.90 L107.20,490.88 L107.50,490.87 L107.80,490.85 L108.10,490.83 L108.40,490.81 L108.70,490.79 L109.00,490.77 L109.30,490.76 L109.60,490.74 L109.90,490.72 L110.20,490.70 L110.50,490.68 L110.80,490.66 L111.10,490.64 L111.40,490.63 L111.70,490.61 L112.00,490.59 L112.30,490.57 L112.60,490.55 L112.90,490.53 L113.20,490.51 L113.50,490.49 L113.80,490.47 L114.10,490.45 L114.40,490.43 L114.70,490.41 L115.00,490.39 L115.30,490.37 L115.60,490.35 L115.90,490.33 L116.20,490.31 L116.50,490.29 L116.80,490.27 L117.10,490.25 L117.40,490.22 L117.70,490.20 L118.00,490.18 L118.30,490.16 L118.60,490.14 L118.90,490.11 L119.20,490.09 L119.50,490.07 L119.80,490.05 L120.10,490.02 L120.40,490.00 L120.70,489.98 L121.00,489.95 L121.30,489.93 L121.60,489.90 L121.90,489.88 L122.20,489.85 L122.50,489.83 L122.80,489.80 L123.10,489.78 L123.40,489.75 L123.70,489.73 L124.00,489.70 L124.30,489.67 L124.60,489.65 L124.90,489.62 L125.20,489.59 L125.50,489.56 L125.80,489.54 L126.10,489.51 L126.40,489.49 L126.70,489.46 L127.00,489.44 L127.30,489.41 L127.60,489.39 L127.90,489.36 L128.20,489.34 L128.50,489.31 L128.80,489.29 L129.10,489.26 L129.40,489.23 L129.70,489.20 L130.00,489.17 L130.30,489.14 L130.60,489.11 L130.90,489.08 L131.20,489.04 L131.50,489.01 L131.80,488.97 L132.10,488.93 L132.40,488.89 L132.70,488.85 L133.00,488.80 L133.30,488.75 L133.60,488.70 L133.90,488.65 L134.20,488.60 L134.50,488.54 L134.80,488.48 L135.10,488.41 L135.40,488.35 L135.70,488.28 L136.00,488.19 L136.30,488.07 L136.60,487.94 L136.90,487.79 L137.20,487.61 L137.50,487.41 L137.80,487.20 L138.10,486.96 L138.40,486.70 L138.70,486.43 L139.00,486.13 L139.30,485.82 L139.60,485.49 L139.90,485.10 L140.20,484.63 L140.50,484.09 L140.80,483.46 L141.10,482.73 L141.40,481.90 L141.70,480.95 L142.00,479.88 L142.30,478.65 L142.60,476.80 L142.90,474.28 L143.20,471.17 L143.50,467.56 L143.80,463.55 L144.10,459.12 L144.40,453.11 L144.70,445.68 L145.00,437.48 L145.30,429.14 L145.60,421.30 L145.90,412.29 L146.20,403.29 L146.50,399.20 L146.80,402.26 L147.10,409.60 L147.40,418.48 L147.70,427.89 L148.00,440.35 L148.30,452.53 L148.60,460.70 L148.90,465.25 L149.20,469.05 L149.50,472.04 L149.80,474.18 L150.10,475.45 L150.40,476.41 L150.70,477.25 L151.00,477.98 L151.30,478.61 L151.60,479.14 L151.90,479.59 L152.20,479.95 L152.50,480.24 L152.80,480.47 L153.10,480.68 L153.40,480.88 L153.70,481.07 L154.00,481.25 L154.30,481.43 L154.60,481.59 L154.90,481.74 L155.20,481.87 L155.50,482.00 L155.80,482.11 L156.10,482.21 L156.40,482.30 L156.70,482.37 L157.00,482.43 L157.30,482.47 L157.60,482.49 L157.90,482.50 L158.20,482.49 L158.50,482.46 L158.80,482.41 L159.10,482.34 L159.40,482.25 L159.70,482.15 L160.00,482.04 L160.30,481.91 L160.60,481.77 L160.90,481.63 L161.20,481.48 L161.50,481.32 L161.80,481.16 L162.10,481.00 L162.40,480.83 L162.70,480.67 L163.00,480.51 L163.30,480.35 L163.60,480.18 L163.90,479.99 L164.20,479.79 L164.50,479.57 L164.80,479.35 L165.10,479.11 L165.40,478.86 L165.70,478.61 L166.00,478.35 L166.30,478.09 L166.60,477.82 L166.90,477.55 L167.20,477.28 L167.50,477.01 L167.80,476.74 L168.10,476.48 L168.40,476.22 L168.70,475.96 L169.00,475.71 L169.30,475.47 L169.60,475.25 L169.90,475.03 L170.20,474.82 L170.50,474.61 L170.80,474.40 L171.10,474.19 L171.40,473.99 L171.70,473.79 L172.00,473.59 L172.30,473.39 L172.60,473.20 L172.90,473.01 L173.20,472.82 L173.50,472.63 L173.80,472.44 L174.10,472.25 L174.40,472.07 L174.70,471.88 L175.00,471.70 L175.30,471.53 L175.60,471.37 L175.90,471.23 L176.20,471.10 L176.50,470.97 L176.80,470.84 L177.10,470.71 L177.40,470.56 L177.70,470.40 L178.00,470.22 L178.30,470.01 L178.60,469.77 L178.90,469.50 L179.20,469.11 L179.50,468.41 L179.80,467.52 L180.10,466.56 L180.40,465.67 L180.70,464.97 L181.00,464.50 L181.30,464.06 L181.60,463.73 L181.90,463.60 L182.20,463.95 L182.50,464.86 L182.80,466.15 L183.10,467.62 L183.40,469.15 L183.70,471.41 L184.00,474.09 L184.30,476.51 L184.60,478.00 L184.90,478.75 L185.20,479.40 L185.50,479.94 L185.80,480.37 L186.10,480.71 L186.40,480.94 L186.70,481.10 L187.00,481.24 L187.30,481.36 L187.60,481.47 L187.90,481.56 L188.20,481.65 L188.50,481.73 L188.80,481.80 L189.10,481.87 L189.40,481.93 L189.70,481.98 L190.00,482.04 L190.30,482.10 L190.60,482.15 L190.90,482.21 L191.20,482.28 L191.50,482.34 L191.80,482.41 L192.10,482.47 L192.40,482.53 L192.70,482.58 L193.00,482.64 L193.30,482.69 L193.60,482.74 L193.90,482.79 L194.20,482.84 L194.50,482.89 L194.80,482.94 L195.10,482.99 L195.40,483.04 L195.70,483.10 L196.00,483.15 L196.30,483.21 L196.60,483.27 L196.90,483.33 L197.20,483.40 L197.50,483.47 L197.80,483.55 L198.10,483.63 L198.40,483.72 L198.70,483.83 L199.00,483.96 L199.30,484.09 L199.60,484.23 L199.90,484.38 L200.20,484.53 L200.50,484.68 L200.80,484.84 L201.10,484.99 L201.40,485.13 L201.70,485.27 L202.00,485.40 L202.30,485.52 L202.60,485.62 L202.90,485.71 L203.20,485.78 L203.50,485.83 L203.80,485.89 L204.10,485.94 L204.40,485.99 L204.70,486.03 L205.00,486.08 L205.30,486.13 L205.60,486.17 L205.90,486.21 L206.20,486.24 L206.50,486.28 L206.80,486.31 L207.10,486.33 L207.40,486.35 L207.70,486.37 L208.00,486.39 L208.30,486.40 L208.60,486.40 L208.90,486.40 L209.20,486.40 L209.50,486.39 L209.80,486.39 L210.10,486.38 L210.40,486.37 L210.70,486.36 L211.00,486.35 L211.30,486.33 L211.60,486.32 L211.90,486.30 L212.20,486.29 L212.50,486.27 L212.80,486.25 L213.10,486.23 L213.40,486.20 L213.70,486.18 L214.00,486.16 L214.30,486.13 L214.60,486.11 L214.90,486.08 L215.20,486.05 L215.50,486.03 L215.80,486.00 L216.10,485.97 L216.40,485.94 L216.70,485.91 L217.00,485.88 L217.30,485.85 L217.60,485.82 L217.90,485.79 L218.20,485.76 L218.50,485.73 L218.80,485.70 L219.10,485.67 L219.40,485.64 L219.70,485.61 L220.00,485.58 L220.30,485.56 L220.60,485.53 L220.90,485.50 L221.20,485.47 L221.50,485.45 L221.80,485.42 L222.10,485.39 L222.40,485.37 L222.70,485.34 L223.00,485.32 L223.30,485.30 L223.60,485.28 L223.90,485.26 L224.20,485.24 L224.50,485.21 L224.80,485.19 L225.10,485.17 L225.40,485.15 L225.70,485.13 L226.00,485.11 L226.30,485.09 L226.60,485.07 L226.90,485.04 L227.20,485.02 L227.50,485.00 L227.80,484.98 L228.10,484.96 L228.40,484.94 L228.70,484.92 L229.00,484.90 L229.30,484.88 L229.60,484.86 L229.90,484.83 L230.20,484.81 L230.50,484.79 L230.80,484.77 L231.10,484.75 L231.40,484.73 L231.70,484.71 L232.00,484.69 L232.30,484.67 L232.60,484.65 L232.90,484.63 L233.20,484.61 L233.50,484.59 L233.80,484.57 L234.10,484.55 L234.40,484.53 L234.70,484.50 L235.00,484.48 L235.30,484.46 L235.60,484.44 L235.90,484.42 L236.20,484.40 L236.50,484.38 L236.80,484.36 L237.10,484.34 L237.40,484.32 L237.70,484.30 L238.00,484.28 L238.30,484.26 L238.60,484.24 L238.90,484.22 L239.20,484.20 L239.50,484.18 L239.80,484.16 L240.10,484.14 L240.40,484.12 L240.70,484.10 L241.00,484.08 L241.30,484.06 L241.60,484.04 L241.90,484.02 L242.20,484.00 L242.50,483.98 L242.80,483.96 L243.10,483.94 L243.40,483.93 L243.70,483.91 L244.00,483.89 L244.30,483.87 L244.60,483.85 L244.90,483.83 L245.20,483.81 L245.50,483.79 L245.80,483.77 L246.10,483.75 L246.40,483.73 L246.70,483.71 L247.00,483.69 L247.30,483.67 L247.60,483.65 L247.90,483.63 L248.20,483.61 L248.50,483.60 L248.80,483.58 L249.10,483.56 L249.40,483.54 L249.70,483.52 L250.00,483.50 L250.30,483.48 L250.60,483.46 L250.90,483.44 L251.20,483.42 L251.50,483.40 L251.80,483.39 L252.10,483.37 L252.40,483.35 L252.70,483.33 L253.00,483.31 L253.30,483.29 L253.60,483.27 L253.90,483.25 L254.20,483.23 L254.50,483.21 L254.80,483.19 L255.10,483.18 L255.40,483.16 L255.70,483.14 L256.00,483.12 L256.30,483.10 L256.60,483.08 L256.90,483.06 L257.20,483.04 L257.50,483.02 L257.80,483.01 L258.10,482.99 L258.40,482.97 L258.70,482.95 L259.00,482.93 L259.30,482.91 L259.60,482.89 L259.90,482.87 L260.20,482.85 L260.50,482.84 L260.80,482.82 L261.10,482.80 L261.40,482.78 L261.70,482.76 L262.00,482.74 L262.30,482.72 L262.60,482.71 L262.90,482.69 L263.20,482.67 L263.50,482.65 L263.80,482.63 L264.10,482.61 L264.40,482.60 L264.70,482.58 L265.00,482.56 L265.30,482.54 L265.60,482.52 L265.90,482.51 L266.20,482.49 L266.50,482.47 L266.80,482.45 L267.10,482.43 L267.40,482.42 L267.70,482.40 L268.00,482.38 L268.30,482.36 L268.60,482.35 L268.90,482.33 L269.20,482.31 L269.50,482.29 L269.80,482.28 L270.10,482.26 L270.40,482.24 L270.70,482.23 L271.00,482.21 L271.30,482.19 L271.60,482.17 L271.90,482.16 L272.20,482.14 L272.50,482.12 L272.80,482.11 L273.10,482.09 L273.40,482.08 L273.70,482.06 L274.00,482.04 L274.30,482.03 L274.60,482.01 L274.90,481.99 L275.20,481.98 L275.50,481.96 L275.80,481.95 L276.10,481.93 L276.40,481.92 L276.70,481.90 L277.00,481.88 L277.30,481.87 L277.60,481.85 L277.90,481.84 L278.20,481.82 L278.50,481.81 L278.80,481.80 L279.10,481.78 L279.40,481.77 L279.70,481.75 L280.00,481.74 L280.30,481.72 L280.60,481.71 L280.90,481.70 L281.20,481.68 L281.50,481.67 L281.80,481.65 L282.10,481.64 L282.40,481.63 L282.70,481.61 L283.00,481.60 L283.30,481.59 L283.60,481.57 L283.90,481.56 L284.20,481.55 L284.50,481.54 L284.80,481.52 L285.10,481.51 L285.40,481.50 L285.70,481.48 L286.00,481.47 L286.30,481.46 L286.60,481.45 L286.90,481.43 L287.20,481.42 L287.50,481.41 L287.80,481.40 L288.10,481.38 L288.40,481.37 L288.70,481.36 L289.00,481.35 L289.30,481.33 L289.60,481.32 L289.90,481.31 L290.20,481.30 L290.50,481.28 L290.80,481.27 L291.10,481.26 L291.40,481.25 L291.70,481.23 L292.00,481.22 L292.30,481.21 L292.60,481.20 L292.90,481.18 L293.20,481.17 L293.50,481.16 L293.80,481.14 L294.10,481.13 L294.40,481.12 L294.70,481.11 L295.00,481.09 L295.30,481.08 L295.60,481.07 L295.90,481.05 L296.20,481.04 L296.50,481.03 L296.80,481.01 L297.10,481.00 L297.40,480.99 L297.70,480.97 L298.00,480.96 L298.30,480.95 L298.60,480.93 L298.90,480.92 L299.20,480.90 L299.50,480.89 L299.80,480.88 L300.10,480.86 L300.40,480.85 L300.70,480.83 L301.00,480.82 L301.30,480.80 L301.60,480.79 L301.90,480.77 L302.20,480.76 L302.50,480.74 L302.80,480.73 L303.10,480.71 L303.40,480.69 L303.70,480.68 L304.00,480.66 L304.30,480.65 L304.60,480.63 L304.90,480.61 L305.20,480.60 L305.50,480.58 L305.80,480.56 L306.10,480.55 L306.40,480.53 L306.70,480.51 L307.00,480.50 L307.30,480.48 L307.60,480.46 L307.90,480.44 L308.20,480.43 L308.50,480.41 L308.80,480.39 L309.10,480.37 L309.40,480.36 L309.70,480.34 L310.00,480.32 L310.30,480.30 L310.60,480.28 L310.90,480.26 L311.20,480.25 L311.50,480.23 L311.80,480.21 L312.10,480.19 L312.40,480.17 L312.70,480.15 L313.00,480.13 L313.30,480.11 L313.60,480.10 L313.90,480.08 L314.20,480.06 L314.50,480.04 L314.80,480.02 L315.10,480.00 L315.40,479.98 L315.70,479.96 L316.00,479.94 L316.30,479.92 L316.60,479.90 L316.90,479.88 L317.20,479.86 L317.50,479.84 L317.80,479.82 L318.10,479.80 L318.40,479.78 L318.70,479.76 L319.00,479.74 L319.30,479.72 L319.60,479.70 L319.90,479.68 L320.20,479.66 L320.50,479.64 L320.80,479.62 L321.10,479.60 L321.40,479.58 L321.70,479.56 L322.00,479.54 L322.30,479.52 L322.60,479.50 L322.90,479.48 L323.20,479.46 L323.50,479.44 L323.80,479.42 L324.10,479.40 L324.40,479.38 L324.70,479.36 L325.00,479.34 L325.30,479.32 L325.60,479.30 L325.90,479.28 L326.20,479.26 L326.50,479.24 L326.80,479.22 L327.10,479.20 L327.40,479.18 L327.70,479.16 L328.00,479.14 L328.30,479.11 L328.60,479.09 L328.90,479.07 L329.20,479.05 L329.50,479.03 L329.80,479.01 L330.10,478.99 L330.40,478.97 L330.70,478.95 L331.00,478.93 L331.30,478.91 L331.60,478.89 L331.90,478.87 L332.20,478.85 L332.50,478.83 L332.80,478.81 L333.10,478.79 L333.40,478.77 L333.70,478.75 L334.00,478.73 L334.30,478.71 L334.60,478.68 L334.90,478.66 L335.20,478.64 L335.50,478.62 L335.80,478.60 L336.10,478.58 L336.40,478.56 L336.70,478.54 L337.00,478.52 L337.30,478.49 L337.60,478.47 L337.90,478.45 L338.20,478.43 L338.50,478.41 L338.80,478.39 L339.10,478.37 L339.40,478.34 L339.70,478.32 L340.00,478.30 L340.30,478.28 L340.60,478.26 L340.90,478.24 L341.20,478.21 L341.50,478.19 L341.80,478.17 L342.10,478.15 L342.40,478.13 L342.70,478.11 L343.00,478.08 L343.30,478.06 L343.60,478.04 L343.90,478.02 L344.20,478.00 L344.50,477.97 L344.80,477.95 L345.10,477.93 L345.40,477.91 L345.5,510.7 L25.3,510.7 Z" fill="url(#fillGreen)" stroke="none"/>
<path d="M25.30,379.90 L25.70,379.88 L26.10,379.87 L26.50,379.85 L26.90,379.83 L27.30,379.82 L27.70,379.80 L28.10,379.78 L28.50,379.76 L28.90,379.75 L29.30,379.73 L29.70,379.71 L30.10,379.69 L30.50,379.68 L30.90,379.66 L31.30,379.64 L31.70,379.62 L32.10,379.60 L32.50,379.58 L32.90,379.57 L33.30,379.55 L33.70,379.53 L34.10,379.51 L34.50,379.49 L34.90,379.47 L35.30,379.45 L35.70,379.44 L36.10,379.42 L36.50,379.40 L36.90,379.38 L37.30,379.36 L37.70,379.34 L38.10,379.32 L38.50,379.30 L38.90,379.28 L39.30,379.26 L39.70,379.24 L40.10,379.22 L40.50,379.20 L40.90,379.18 L41.30,379.16 L41.70,379.14 L42.10,379.12 L42.50,379.10 L42.90,379.08 L43.30,379.06 L43.70,379.04 L44.10,379.02 L44.50,379.00 L44.90,378.97 L45.30,378.95 L45.70,378.93 L46.10,378.91 L46.50,378.89 L46.90,378.87 L47.30,378.85 L47.70,378.82 L48.10,378.80 L48.50,378.78 L48.90,378.76 L49.30,378.73 L49.70,378.71 L50.10,378.69 L50.50,378.66 L50.90,378.64 L51.30,378.62 L51.70,378.59 L52.10,378.57 L52.50,378.54 L52.90,378.52 L53.30,378.49 L53.70,378.47 L54.10,378.44 L54.50,378.42 L54.90,378.39 L55.30,378.37 L55.70,378.34 L56.10,378.32 L56.50,378.29 L56.90,378.27 L57.30,378.24 L57.70,378.21 L58.10,378.19 L58.50,378.16 L58.90,378.14 L59.30,378.11 L59.70,378.09 L60.10,378.06 L60.50,378.03 L60.90,378.01 L61.30,377.98 L61.70,377.96 L62.10,377.93 L62.50,377.90 L62.90,377.88 L63.30,377.85 L63.70,377.83 L64.10,377.80 L64.50,377.78 L64.90,377.75 L65.30,377.73 L65.70,377.70 L66.10,377.68 L66.50,377.65 L66.90,377.63 L67.30,377.60 L67.70,377.58 L68.10,377.55 L68.50,377.53 L68.90,377.51 L69.30,377.48 L69.70,377.46 L70.10,377.44 L70.50,377.41 L70.90,377.39 L71.30,377.37 L71.70,377.34 L72.10,377.32 L72.50,377.30 L72.90,377.28 L73.30,377.26 L73.70,377.23 L74.10,377.21 L74.50,377.19 L74.90,377.17 L75.30,377.15 L75.70,377.13 L76.10,377.11 L76.50,377.09 L76.90,377.07 L77.30,377.05 L77.70,377.03 L78.10,377.01 L78.50,376.98 L78.90,376.96 L79.30,376.94 L79.70,376.92 L80.10,376.90 L80.50,376.88 L80.90,376.86 L81.30,376.84 L81.70,376.82 L82.10,376.81 L82.50,376.79 L82.90,376.77 L83.30,376.75 L83.70,376.73 L84.10,376.71 L84.50,376.69 L84.90,376.67 L85.30,376.65 L85.70,376.63 L86.10,376.61 L86.50,376.59 L86.90,376.57 L87.30,376.55 L87.70,376.53 L88.10,376.52 L88.50,376.50 L88.90,376.48 L89.30,376.46 L89.70,376.44 L90.10,376.42 L90.50,376.40 L90.90,376.38 L91.30,376.36 L91.70,376.34 L92.10,376.32 L92.50,376.31 L92.90,376.29 L93.30,376.27 L93.70,376.25 L94.10,376.23 L94.50,376.21 L94.90,376.19 L95.30,376.17 L95.70,376.15 L96.10,376.13 L96.50,376.11 L96.90,376.09 L97.30,376.07 L97.70,376.05 L98.10,376.03 L98.50,376.01 L98.90,376.00 L99.30,375.98 L99.70,375.96 L100.10,375.94 L100.50,375.92 L100.90,375.90 L101.30,375.88 L101.70,375.86 L102.10,375.84 L102.50,375.83 L102.90,375.81 L103.30,375.79 L103.70,375.77 L104.10,375.76 L104.50,375.74 L104.90,375.72 L105.30,375.70 L105.70,375.69 L106.10,375.67 L106.50,375.65 L106.90,375.64 L107.30,375.62 L107.70,375.60 L108.10,375.59 L108.50,375.57 L108.90,375.55 L109.30,375.53 L109.70,375.52 L110.10,375.50 L110.50,375.48 L110.90,375.47 L111.30,375.45 L111.70,375.43 L112.10,375.41 L112.50,375.40 L112.90,375.38 L113.30,375.36 L113.70,375.34 L114.10,375.32 L114.50,375.30 L114.90,375.29 L115.30,375.27 L115.70,375.25 L116.10,375.23 L116.50,375.21 L116.90,375.19 L117.30,375.17 L117.70,375.15 L118.10,375.13 L118.50,375.11 L118.90,375.08 L119.30,375.06 L119.70,375.04 L120.10,375.02 L120.50,374.99 L120.90,374.97 L121.30,374.95 L121.70,374.92 L122.10,374.90 L122.50,374.87 L122.90,374.85 L123.30,374.82 L123.70,374.80 L124.10,374.77 L124.50,374.74 L124.90,374.71 L125.30,374.69 L125.70,374.66 L126.10,374.63 L126.50,374.59 L126.90,374.56 L127.30,374.53 L127.70,374.49 L128.10,374.46 L128.50,374.42 L128.90,374.38 L129.30,374.34 L129.70,374.30 L130.10,374.26 L130.50,374.22 L130.90,374.18 L131.30,374.13 L131.70,374.09 L132.10,374.04 L132.50,374.00 L132.90,373.95 L133.30,373.90 L133.70,373.85 L134.10,373.80 L134.50,373.75 L134.90,373.69 L135.30,373.64 L135.70,373.59 L136.10,373.53 L136.50,373.47 L136.90,373.41 L137.30,373.35 L137.70,373.28 L138.10,373.22 L138.50,373.15 L138.90,373.08 L139.30,373.00 L139.70,372.93 L140.10,372.85 L140.50,372.77 L140.90,372.69 L141.30,372.60 L141.70,372.52 L142.10,372.43 L142.50,372.34 L142.90,372.24 L143.30,372.15 L143.70,372.05 L144.10,371.95 L144.50,371.84 L144.90,371.72 L145.30,371.60 L145.70,371.47 L146.10,371.34 L146.50,371.20 L146.90,371.07 L147.30,370.92 L147.70,370.78 L148.10,370.63 L148.50,370.48 L148.90,370.33 L149.30,370.18 L149.70,370.03 L150.10,369.88 L150.50,369.73 L150.90,369.58 L151.30,369.44 L151.70,369.29 L152.10,369.15 L152.50,369.00 L152.90,368.86 L153.30,368.72 L153.70,368.57 L154.10,368.43 L154.50,368.28 L154.90,368.14 L155.30,367.99 L155.70,367.84 L156.10,367.68 L156.50,367.53 L156.90,367.37 L157.30,367.20 L157.70,367.03 L158.10,366.86 L158.50,366.68 L158.90,366.49 L159.30,366.30 L159.70,366.10 L160.10,365.89 L160.50,365.68 L160.90,365.45 L161.30,365.22 L161.70,364.98 L162.10,364.73 L162.50,364.48 L162.90,364.21 L163.30,363.94 L163.70,363.67 L164.10,363.39 L164.50,363.10 L164.90,362.80 L165.30,362.48 L165.70,362.14 L166.10,361.78 L166.50,361.42 L166.90,361.04 L167.30,360.67 L167.70,360.29 L168.10,359.91 L168.50,359.54 L168.90,359.17 L169.30,358.82 L169.70,358.48 L170.10,358.16 L170.50,357.83 L170.90,357.51 L171.30,357.19 L171.70,356.87 L172.10,356.56 L172.50,356.26 L172.90,355.95 L173.30,355.66 L173.70,355.37 L174.10,355.09 L174.50,354.82 L174.90,354.56 L175.30,354.31 L175.70,354.06 L176.10,353.82 L176.50,353.58 L176.90,353.35 L177.30,353.13 L177.70,352.91 L178.10,352.71 L178.50,352.52 L178.90,352.34 L179.30,352.19 L179.70,352.07 L180.10,351.97 L180.50,351.84 L180.90,351.66 L181.30,351.34 L181.70,350.79 L182.10,350.08 L182.50,349.26 L182.90,347.93 L183.30,347.49 L183.70,349.32 L184.10,352.34 L184.50,356.32 L184.90,361.76 L185.30,365.00 L185.70,365.77 L186.10,366.35 L186.50,366.75 L186.90,366.96 L187.30,367.01 L187.70,367.03 L188.10,367.05 L188.50,367.06 L188.90,367.07 L189.30,367.08 L189.70,367.09 L190.10,367.10 L190.50,367.12 L190.90,367.13 L191.30,367.14 L191.70,367.15 L192.10,367.17 L192.50,367.18 L192.90,367.19 L193.30,367.21 L193.70,367.23 L194.10,367.25 L194.50,367.27 L194.90,367.29 L195.30,367.33 L195.70,367.38 L196.10,367.44 L196.50,367.53 L196.90,367.63 L197.30,367.74 L197.70,367.86 L198.10,367.99 L198.50,368.13 L198.90,368.28 L199.30,368.43 L199.70,368.59 L200.10,368.74 L200.50,368.90 L200.90,369.06 L201.30,369.22 L201.70,369.38 L202.10,369.57 L202.50,369.78 L202.90,370.01 L203.30,370.25 L203.70,370.50 L204.10,370.75 L204.50,370.99 L204.90,371.23 L205.30,371.44 L205.70,371.64 L206.10,371.80 L206.50,371.93 L206.90,372.02 L207.30,372.09 L207.70,372.17 L208.10,372.24 L208.50,372.30 L208.90,372.37 L209.30,372.43 L209.70,372.49 L210.10,372.55 L210.50,372.61 L210.90,372.66 L211.30,372.71 L211.70,372.75 L212.10,372.79 L212.50,372.83 L212.90,372.87 L213.30,372.90 L213.70,372.93 L214.10,372.95 L214.50,372.97 L214.90,372.98 L215.30,372.99 L215.70,373.00 L216.10,373.00 L216.50,372.99 L216.90,372.98 L217.30,372.97 L217.70,372.94 L218.10,372.92 L218.50,372.88 L218.90,372.85 L219.30,372.81 L219.70,372.76 L220.10,372.71 L220.50,372.66 L220.90,372.61 L221.30,372.55 L221.70,372.49 L222.10,372.43 L222.50,372.37 L222.90,372.31 L223.30,372.25 L223.70,372.18 L224.10,372.12 L224.50,372.06 L224.90,372.00 L225.30,371.93 L225.70,371.88 L226.10,371.82 L226.50,371.76 L226.90,371.71 L227.30,371.66 L227.70,371.61 L228.10,371.57 L228.50,371.53 L228.90,371.49 L229.30,371.46 L229.70,371.43 L230.10,371.41 L230.50,371.40 L230.90,371.38 L231.30,371.37 L231.70,371.36 L232.10,371.34 L232.50,371.33 L232.90,371.32 L233.30,371.30 L233.70,371.29 L234.10,371.28 L234.50,371.26 L234.90,371.25 L235.30,371.24 L235.70,371.23 L236.10,371.22 L236.50,371.21 L236.90,371.19 L237.30,371.18 L237.70,371.17 L238.10,371.16 L238.50,371.15 L238.90,371.14 L239.30,371.13 L239.70,371.12 L240.10,371.11 L240.50,371.10 L240.90,371.09 L241.30,371.08 L241.70,371.07 L242.10,371.06 L242.50,371.05 L242.90,371.04 L243.30,371.03 L243.70,371.02 L244.10,371.01 L244.50,371.00 L244.90,370.99 L245.30,370.99 L245.70,370.98 L246.10,370.97 L246.50,370.96 L246.90,370.95 L247.30,370.94 L247.70,370.94 L248.10,370.93 L248.50,370.92 L248.90,370.91 L249.30,370.91 L249.70,370.90 L250.10,370.89 L250.50,370.88 L250.90,370.88 L251.30,370.87 L251.70,370.86 L252.10,370.86 L252.50,370.85 L252.90,370.84 L253.30,370.84 L253.70,370.83 L254.10,370.83 L254.50,370.82 L254.90,370.81 L255.30,370.81 L255.70,370.80 L256.10,370.80 L256.50,370.79 L256.90,370.79 L257.30,370.78 L257.70,370.77 L258.10,370.77 L258.50,370.76 L258.90,370.76 L259.30,370.75 L259.70,370.75 L260.10,370.74 L260.50,370.74 L260.90,370.73 L261.30,370.73 L261.70,370.73 L262.10,370.72 L262.50,370.72 L262.90,370.71 L263.30,370.71 L263.70,370.70 L264.10,370.70 L264.50,370.69 L264.90,370.69 L265.30,370.69 L265.70,370.68 L266.10,370.68 L266.50,370.67 L266.90,370.67 L267.30,370.67 L267.70,370.66 L268.10,370.66 L268.50,370.66 L268.90,370.65 L269.30,370.65 L269.70,370.64 L270.10,370.64 L270.50,370.64 L270.90,370.63 L271.30,370.63 L271.70,370.63 L272.10,370.62 L272.50,370.62 L272.90,370.62 L273.30,370.61 L273.70,370.61 L274.10,370.61 L274.50,370.60 L274.90,370.60 L275.30,370.60 L275.70,370.60 L276.10,370.59 L276.50,370.59 L276.90,370.59 L277.30,370.58 L277.70,370.58 L278.10,370.58 L278.50,370.58 L278.90,370.57 L279.30,370.57 L279.70,370.57 L280.10,370.57 L280.50,370.56 L280.90,370.56 L281.30,370.56 L281.70,370.56 L282.10,370.56 L282.50,370.55 L282.90,370.55 L283.30,370.55 L283.70,370.55 L284.10,370.55 L284.50,370.54 L284.90,370.54 L285.30,370.54 L285.70,370.54 L286.10,370.54 L286.50,370.53 L286.90,370.53 L287.30,370.53 L287.70,370.53 L288.10,370.53 L288.50,370.53 L288.90,370.53 L289.30,370.52 L289.70,370.52 L290.10,370.52 L290.50,370.52 L290.90,370.52 L291.30,370.52 L291.70,370.52 L292.10,370.51 L292.50,370.51 L292.90,370.51 L293.30,370.51 L293.70,370.51 L294.10,370.51 L294.50,370.51 L294.90,370.50 L295.30,370.50 L295.70,370.50 L296.10,370.50 L296.50,370.50 L296.90,370.50 L297.30,370.50 L297.70,370.49 L298.10,370.49 L298.50,370.49 L298.90,370.49 L299.30,370.49 L299.70,370.49 L300.10,370.49 L300.50,370.48 L300.90,370.48 L301.30,370.48 L301.70,370.48 L302.10,370.48 L302.50,370.48 L302.90,370.47 L303.30,370.47 L303.70,370.47 L304.10,370.47 L304.50,370.47 L304.90,370.46 L305.30,370.46 L305.70,370.46 L306.10,370.46 L306.50,370.46 L306.90,370.45 L307.30,370.45 L307.70,370.45 L308.10,370.45 L308.50,370.44 L308.90,370.44 L309.30,370.44 L309.70,370.44 L310.10,370.43 L310.50,370.43 L310.90,370.43 L311.30,370.43 L311.70,370.42 L312.10,370.42 L312.50,370.42 L312.90,370.41 L313.30,370.41 L313.70,370.41 L314.10,370.40 L314.50,370.40 L314.90,370.40 L315.30,370.39 L315.70,370.39 L316.10,370.38 L316.50,370.38 L316.90,370.37 L317.30,370.37 L317.70,370.36 L318.10,370.36 L318.50,370.35 L318.90,370.35 L319.30,370.34 L319.70,370.33 L320.10,370.33 L320.50,370.32 L320.90,370.31 L321.30,370.31 L321.70,370.30 L322.10,370.29 L322.50,370.28 L322.90,370.27 L323.30,370.27 L323.70,370.26 L324.10,370.25 L324.50,370.24 L324.90,370.23 L325.30,370.22 L325.70,370.21 L326.10,370.20 L326.50,370.19 L326.90,370.18 L327.30,370.17 L327.70,370.16 L328.10,370.15 L328.50,370.14 L328.90,370.13 L329.30,370.12 L329.70,370.11 L330.10,370.10 L330.50,370.09 L330.90,370.08 L331.30,370.06 L331.70,370.05 L332.10,370.04 L332.50,370.03 L332.90,370.02 L333.30,370.01 L333.70,369.99 L334.10,369.98 L334.50,369.97 L334.90,369.96 L335.30,369.94 L335.70,369.93 L336.10,369.92 L336.50,369.91 L336.90,369.89 L337.30,369.88 L337.70,369.87 L338.10,369.85 L338.50,369.84 L338.90,369.83 L339.30,369.81 L339.70,369.80 L340.10,369.79 L340.50,369.77 L340.90,369.76 L341.30,369.75 L341.70,369.73 L342.10,369.72 L342.50,369.70 L342.90,369.69 L343.30,369.68 L343.70,369.66 L344.10,369.65 L344.50,369.63 L344.90,369.62 L345.30,369.61" fill="none" stroke="#0a0a9e" stroke-width="2.3" stroke-linejoin="round"/>
<path d="M25.30,494.80 L25.60,494.80 L25.90,494.79 L26.20,494.79 L26.50,494.78 L26.80,494.78 L27.10,494.78 L27.40,494.77 L27.70,494.77 L28.00,494.76 L28.30,494.76 L28.60,494.75 L28.90,494.75 L29.20,494.74 L29.50,494.74 L29.80,494.73 L30.10,494.73 L30.40,494.72 L30.70,494.71 L31.00,494.71 L31.30,494.70 L31.60,494.70 L31.90,494.69 L32.20,494.68 L32.50,494.68 L32.80,494.67 L33.10,494.66 L33.40,494.66 L33.70,494.65 L34.00,494.64 L34.30,494.64 L34.60,494.63 L34.90,494.62 L35.20,494.62 L35.50,494.61 L35.80,494.60 L36.10,494.59 L36.40,494.59 L36.70,494.58 L37.00,494.57 L37.30,494.56 L37.60,494.56 L37.90,494.55 L38.20,494.54 L38.50,494.53 L38.80,494.52 L39.10,494.51 L39.40,494.51 L39.70,494.50 L40.00,494.49 L40.30,494.48 L40.60,494.47 L40.90,494.46 L41.20,494.46 L41.50,494.45 L41.80,494.44 L42.10,494.43 L42.40,494.42 L42.70,494.41 L43.00,494.40 L43.30,494.39 L43.60,494.38 L43.90,494.37 L44.20,494.37 L44.50,494.36 L44.80,494.35 L45.10,494.34 L45.40,494.33 L45.70,494.32 L46.00,494.31 L46.30,494.30 L46.60,494.29 L46.90,494.28 L47.20,494.27 L47.50,494.26 L47.80,494.25 L48.10,494.24 L48.40,494.23 L48.70,494.22 L49.00,494.21 L49.30,494.19 L49.60,494.18 L49.90,494.17 L50.20,494.16 L50.50,494.15 L50.80,494.14 L51.10,494.12 L51.40,494.11 L51.70,494.10 L52.00,494.08 L52.30,494.07 L52.60,494.06 L52.90,494.04 L53.20,494.03 L53.50,494.02 L53.80,494.00 L54.10,493.99 L54.40,493.98 L54.70,493.96 L55.00,493.95 L55.30,493.93 L55.60,493.92 L55.90,493.90 L56.20,493.89 L56.50,493.87 L56.80,493.86 L57.10,493.84 L57.40,493.83 L57.70,493.81 L58.00,493.80 L58.30,493.78 L58.60,493.77 L58.90,493.75 L59.20,493.74 L59.50,493.72 L59.80,493.70 L60.10,493.69 L60.40,493.67 L60.70,493.66 L61.00,493.64 L61.30,493.62 L61.60,493.61 L61.90,493.59 L62.20,493.57 L62.50,493.56 L62.80,493.54 L63.10,493.52 L63.40,493.51 L63.70,493.49 L64.00,493.47 L64.30,493.46 L64.60,493.44 L64.90,493.42 L65.20,493.41 L65.50,493.39 L65.80,493.37 L66.10,493.36 L66.40,493.34 L66.70,493.32 L67.00,493.31 L67.30,493.29 L67.60,493.27 L67.90,493.26 L68.20,493.24 L68.50,493.22 L68.80,493.21 L69.10,493.19 L69.40,493.17 L69.70,493.15 L70.00,493.14 L70.30,493.12 L70.60,493.10 L70.90,493.09 L71.20,493.07 L71.50,493.05 L71.80,493.04 L72.10,493.02 L72.40,493.01 L72.70,492.99 L73.00,492.97 L73.30,492.96 L73.60,492.94 L73.90,492.92 L74.20,492.91 L74.50,492.89 L74.80,492.87 L75.10,492.86 L75.40,492.84 L75.70,492.82 L76.00,492.80 L76.30,492.79 L76.60,492.77 L76.90,492.75 L77.20,492.74 L77.50,492.72 L77.80,492.70 L78.10,492.68 L78.40,492.67 L78.70,492.65 L79.00,492.63 L79.30,492.61 L79.60,492.60 L79.90,492.58 L80.20,492.56 L80.50,492.54 L80.80,492.53 L81.10,492.51 L81.40,492.49 L81.70,492.47 L82.00,492.45 L82.30,492.44 L82.60,492.42 L82.90,492.40 L83.20,492.38 L83.50,492.36 L83.80,492.35 L84.10,492.33 L84.40,492.31 L84.70,492.29 L85.00,492.27 L85.30,492.25 L85.60,492.24 L85.90,492.22 L86.20,492.20 L86.50,492.18 L86.80,492.16 L87.10,492.14 L87.40,492.12 L87.70,492.11 L88.00,492.09 L88.30,492.07 L88.60,492.05 L88.90,492.03 L89.20,492.01 L89.50,491.99 L89.80,491.97 L90.10,491.96 L90.40,491.94 L90.70,491.92 L91.00,491.90 L91.30,491.88 L91.60,491.86 L91.90,491.84 L92.20,491.82 L92.50,491.80 L92.80,491.78 L93.10,491.77 L93.40,491.75 L93.70,491.73 L94.00,491.71 L94.30,491.69 L94.60,491.67 L94.90,491.65 L95.20,491.63 L95.50,491.61 L95.80,491.59 L96.10,491.57 L96.40,491.55 L96.70,491.54 L97.00,491.52 L97.30,491.50 L97.60,491.48 L97.90,491.46 L98.20,491.44 L98.50,491.42 L98.80,491.40 L99.10,491.38 L99.40,491.36 L99.70,491.34 L100.00,491.32 L100.30,491.30 L100.60,491.29 L100.90,491.27 L101.20,491.25 L101.50,491.23 L101.80,491.21 L102.10,491.19 L102.40,491.17 L102.70,491.16 L103.00,491.14 L103.30,491.12 L103.60,491.10 L103.90,491.08 L104.20,491.06 L104.50,491.05 L104.80,491.03 L105.10,491.01 L105.40,490.99 L105.70,490.97 L106.00,490.96 L106.30,490.94 L106.60,490.92 L106.90,490.90 L107.20,490.88 L107.50,490.87 L107.80,490.85 L108.10,490.83 L108.40,490.81 L108.70,490.79 L109.00,490.77 L109.30,490.76 L109.60,490.74 L109.90,490.72 L110.20,490.70 L110.50,490.68 L110.80,490.66 L111.10,490.64 L111.40,490.63 L111.70,490.61 L112.00,490.59 L112.30,490.57 L112.60,490.55 L112.90,490.53 L113.20,490.51 L113.50,490.49 L113.80,490.47 L114.10,490.45 L114.40,490.43 L114.70,490.41 L115.00,490.39 L115.30,490.37 L115.60,490.35 L115.90,490.33 L116.20,490.31 L116.50,490.29 L116.80,490.27 L117.10,490.25 L117.40,490.22 L117.70,490.20 L118.00,490.18 L118.30,490.16 L118.60,490.14 L118.90,490.11 L119.20,490.09 L119.50,490.07 L119.80,490.05 L120.10,490.02 L120.40,490.00 L120.70,489.98 L121.00,489.95 L121.30,489.93 L121.60,489.90 L121.90,489.88 L122.20,489.85 L122.50,489.83 L122.80,489.80 L123.10,489.78 L123.40,489.75 L123.70,489.73 L124.00,489.70 L124.30,489.67 L124.60,489.65 L124.90,489.62 L125.20,489.59 L125.50,489.56 L125.80,489.54 L126.10,489.51 L126.40,489.49 L126.70,489.46 L127.00,489.44 L127.30,489.41 L127.60,489.39 L127.90,489.36 L128.20,489.34 L128.50,489.31 L128.80,489.29 L129.10,489.26 L129.40,489.23 L129.70,489.20 L130.00,489.17 L130.30,489.14 L130.60,489.11 L130.90,489.08 L131.20,489.04 L131.50,489.01 L131.80,488.97 L132.10,488.93 L132.40,488.89 L132.70,488.85 L133.00,488.80 L133.30,488.75 L133.60,488.70 L133.90,488.65 L134.20,488.60 L134.50,488.54 L134.80,488.48 L135.10,488.41 L135.40,488.35 L135.70,488.28 L136.00,488.19 L136.30,488.07 L136.60,487.94 L136.90,487.79 L137.20,487.61 L137.50,487.41 L137.80,487.20 L138.10,486.96 L138.40,486.70 L138.70,486.43 L139.00,486.13 L139.30,485.82 L139.60,485.49 L139.90,485.10 L140.20,484.63 L140.50,484.09 L140.80,483.46 L141.10,482.73 L141.40,481.90 L141.70,480.95 L142.00,479.88 L142.30,478.65 L142.60,476.80 L142.90,474.28 L143.20,471.17 L143.50,467.56 L143.80,463.55 L144.10,459.12 L144.40,453.11 L144.70,445.68 L145.00,437.48 L145.30,429.14 L145.60,421.30 L145.90,412.29 L146.20,403.29 L146.50,399.20 L146.80,402.26 L147.10,409.60 L147.40,418.48 L147.70,427.89 L148.00,440.35 L148.30,452.53 L148.60,460.70 L148.90,465.25 L149.20,469.05 L149.50,472.04 L149.80,474.18 L150.10,475.45 L150.40,476.41 L150.70,477.25 L151.00,477.98 L151.30,478.61 L151.60,479.14 L151.90,479.59 L152.20,479.95 L152.50,480.24 L152.80,480.47 L153.10,480.68 L153.40,480.88 L153.70,481.07 L154.00,481.25 L154.30,481.43 L154.60,481.59 L154.90,481.74 L155.20,481.87 L155.50,482.00 L155.80,482.11 L156.10,482.21 L156.40,482.30 L156.70,482.37 L157.00,482.43 L157.30,482.47 L157.60,482.49 L157.90,482.50 L158.20,482.49 L158.50,482.46 L158.80,482.41 L159.10,482.34 L159.40,482.25 L159.70,482.15 L160.00,482.04 L160.30,481.91 L160.60,481.77 L160.90,481.63 L161.20,481.48 L161.50,481.32 L161.80,481.16 L162.10,481.00 L162.40,480.83 L162.70,480.67 L163.00,480.51 L163.30,480.35 L163.60,480.18 L163.90,479.99 L164.20,479.79 L164.50,479.57 L164.80,479.35 L165.10,479.11 L165.40,478.86 L165.70,478.61 L166.00,478.35 L166.30,478.09 L166.60,477.82 L166.90,477.55 L167.20,477.28 L167.50,477.01 L167.80,476.74 L168.10,476.48 L168.40,476.22 L168.70,475.96 L169.00,475.71 L169.30,475.47 L169.60,475.25 L169.90,475.03 L170.20,474.82 L170.50,474.61 L170.80,474.40 L171.10,474.19 L171.40,473.99 L171.70,473.79 L172.00,473.59 L172.30,473.39 L172.60,473.20 L172.90,473.01 L173.20,472.82 L173.50,472.63 L173.80,472.44 L174.10,472.25 L174.40,472.07 L174.70,471.88 L175.00,471.70 L175.30,471.53 L175.60,471.37 L175.90,471.23 L176.20,471.10 L176.50,470.97 L176.80,470.84 L177.10,470.71 L177.40,470.56 L177.70,470.40 L178.00,470.22 L178.30,470.01 L178.60,469.77 L178.90,469.50 L179.20,469.11 L179.50,468.41 L179.80,467.52 L180.10,466.56 L180.40,465.67 L180.70,464.97 L181.00,464.50 L181.30,464.06 L181.60,463.73 L181.90,463.60 L182.20,463.95 L182.50,464.86 L182.80,466.15 L183.10,467.62 L183.40,469.15 L183.70,471.41 L184.00,474.09 L184.30,476.51 L184.60,478.00 L184.90,478.75 L185.20,479.40 L185.50,479.94 L185.80,480.37 L186.10,480.71 L186.40,480.94 L186.70,481.10 L187.00,481.24 L187.30,481.36 L187.60,481.47 L187.90,481.56 L188.20,481.65 L188.50,481.73 L188.80,481.80 L189.10,481.87 L189.40,481.93 L189.70,481.98 L190.00,482.04 L190.30,482.10 L190.60,482.15 L190.90,482.21 L191.20,482.28 L191.50,482.34 L191.80,482.41 L192.10,482.47 L192.40,482.53 L192.70,482.58 L193.00,482.64 L193.30,482.69 L193.60,482.74 L193.90,482.79 L194.20,482.84 L194.50,482.89 L194.80,482.94 L195.10,482.99 L195.40,483.04 L195.70,483.10 L196.00,483.15 L196.30,483.21 L196.60,483.27 L196.90,483.33 L197.20,483.40 L197.50,483.47 L197.80,483.55 L198.10,483.63 L198.40,483.72 L198.70,483.83 L199.00,483.96 L199.30,484.09 L199.60,484.23 L199.90,484.38 L200.20,484.53 L200.50,484.68 L200.80,484.84 L201.10,484.99 L201.40,485.13 L201.70,485.27 L202.00,485.40 L202.30,485.52 L202.60,485.62 L202.90,485.71 L203.20,485.78 L203.50,485.83 L203.80,485.89 L204.10,485.94 L204.40,485.99 L204.70,486.03 L205.00,486.08 L205.30,486.13 L205.60,486.17 L205.90,486.21 L206.20,486.24 L206.50,486.28 L206.80,486.31 L207.10,486.33 L207.40,486.35 L207.70,486.37 L208.00,486.39 L208.30,486.40 L208.60,486.40 L208.90,486.40 L209.20,486.40 L209.50,486.39 L209.80,486.39 L210.10,486.38 L210.40,486.37 L210.70,486.36 L211.00,486.35 L211.30,486.33 L211.60,486.32 L211.90,486.30 L212.20,486.29 L212.50,486.27 L212.80,486.25 L213.10,486.23 L213.40,486.20 L213.70,486.18 L214.00,486.16 L214.30,486.13 L214.60,486.11 L214.90,486.08 L215.20,486.05 L215.50,486.03 L215.80,486.00 L216.10,485.97 L216.40,485.94 L216.70,485.91 L217.00,485.88 L217.30,485.85 L217.60,485.82 L217.90,485.79 L218.20,485.76 L218.50,485.73 L218.80,485.70 L219.10,485.67 L219.40,485.64 L219.70,485.61 L220.00,485.58 L220.30,485.56 L220.60,485.53 L220.90,485.50 L221.20,485.47 L221.50,485.45 L221.80,485.42 L222.10,485.39 L222.40,485.37 L222.70,485.34 L223.00,485.32 L223.30,485.30 L223.60,485.28 L223.90,485.26 L224.20,485.24 L224.50,485.21 L224.80,485.19 L225.10,485.17 L225.40,485.15 L225.70,485.13 L226.00,485.11 L226.30,485.09 L226.60,485.07 L226.90,485.04 L227.20,485.02 L227.50,485.00 L227.80,484.98 L228.10,484.96 L228.40,484.94 L228.70,484.92 L229.00,484.90 L229.30,484.88 L229.60,484.86 L229.90,484.83 L230.20,484.81 L230.50,484.79 L230.80,484.77 L231.10,484.75 L231.40,484.73 L231.70,484.71 L232.00,484.69 L232.30,484.67 L232.60,484.65 L232.90,484.63 L233.20,484.61 L233.50,484.59 L233.80,484.57 L234.10,484.55 L234.40,484.53 L234.70,484.50 L235.00,484.48 L235.30,484.46 L235.60,484.44 L235.90,484.42 L236.20,484.40 L236.50,484.38 L236.80,484.36 L237.10,484.34 L237.40,484.32 L237.70,484.30 L238.00,484.28 L238.30,484.26 L238.60,484.24 L238.90,484.22 L239.20,484.20 L239.50,484.18 L239.80,484.16 L240.10,484.14 L240.40,484.12 L240.70,484.10 L241.00,484.08 L241.30,484.06 L241.60,484.04 L241.90,484.02 L242.20,484.00 L242.50,483.98 L242.80,483.96 L243.10,483.94 L243.40,483.93 L243.70,483.91 L244.00,483.89 L244.30,483.87 L244.60,483.85 L244.90,483.83 L245.20,483.81 L245.50,483.79 L245.80,483.77 L246.10,483.75 L246.40,483.73 L246.70,483.71 L247.00,483.69 L247.30,483.67 L247.60,483.65 L247.90,483.63 L248.20,483.61 L248.50,483.60 L248.80,483.58 L249.10,483.56 L249.40,483.54 L249.70,483.52 L250.00,483.50 L250.30,483.48 L250.60,483.46 L250.90,483.44 L251.20,483.42 L251.50,483.40 L251.80,483.39 L252.10,483.37 L252.40,483.35 L252.70,483.33 L253.00,483.31 L253.30,483.29 L253.60,483.27 L253.90,483.25 L254.20,483.23 L254.50,483.21 L254.80,483.19 L255.10,483.18 L255.40,483.16 L255.70,483.14 L256.00,483.12 L256.30,483.10 L256.60,483.08 L256.90,483.06 L257.20,483.04 L257.50,483.02 L257.80,483.01 L258.10,482.99 L258.40,482.97 L258.70,482.95 L259.00,482.93 L259.30,482.91 L259.60,482.89 L259.90,482.87 L260.20,482.85 L260.50,482.84 L260.80,482.82 L261.10,482.80 L261.40,482.78 L261.70,482.76 L262.00,482.74 L262.30,482.72 L262.60,482.71 L262.90,482.69 L263.20,482.67 L263.50,482.65 L263.80,482.63 L264.10,482.61 L264.40,482.60 L264.70,482.58 L265.00,482.56 L265.30,482.54 L265.60,482.52 L265.90,482.51 L266.20,482.49 L266.50,482.47 L266.80,482.45 L267.10,482.43 L267.40,482.42 L267.70,482.40 L268.00,482.38 L268.30,482.36 L268.60,482.35 L268.90,482.33 L269.20,482.31 L269.50,482.29 L269.80,482.28 L270.10,482.26 L270.40,482.24 L270.70,482.23 L271.00,482.21 L271.30,482.19 L271.60,482.17 L271.90,482.16 L272.20,482.14 L272.50,482.12 L272.80,482.11 L273.10,482.09 L273.40,482.08 L273.70,482.06 L274.00,482.04 L274.30,482.03 L274.60,482.01 L274.90,481.99 L275.20,481.98 L275.50,481.96 L275.80,481.95 L276.10,481.93 L276.40,481.92 L276.70,481.90 L277.00,481.88 L277.30,481.87 L277.60,481.85 L277.90,481.84 L278.20,481.82 L278.50,481.81 L278.80,481.80 L279.10,481.78 L279.40,481.77 L279.70,481.75 L280.00,481.74 L280.30,481.72 L280.60,481.71 L280.90,481.70 L281.20,481.68 L281.50,481.67 L281.80,481.65 L282.10,481.64 L282.40,481.63 L282.70,481.61 L283.00,481.60 L283.30,481.59 L283.60,481.57 L283.90,481.56 L284.20,481.55 L284.50,481.54 L284.80,481.52 L285.10,481.51 L285.40,481.50 L285.70,481.48 L286.00,481.47 L286.30,481.46 L286.60,481.45 L286.90,481.43 L287.20,481.42 L287.50,481.41 L287.80,481.40 L288.10,481.38 L288.40,481.37 L288.70,481.36 L289.00,481.35 L289.30,481.33 L289.60,481.32 L289.90,481.31 L290.20,481.30 L290.50,481.28 L290.80,481.27 L291.10,481.26 L291.40,481.25 L291.70,481.23 L292.00,481.22 L292.30,481.21 L292.60,481.20 L292.90,481.18 L293.20,481.17 L293.50,481.16 L293.80,481.14 L294.10,481.13 L294.40,481.12 L294.70,481.11 L295.00,481.09 L295.30,481.08 L295.60,481.07 L295.90,481.05 L296.20,481.04 L296.50,481.03 L296.80,481.01 L297.10,481.00 L297.40,480.99 L297.70,480.97 L298.00,480.96 L298.30,480.95 L298.60,480.93 L298.90,480.92 L299.20,480.90 L299.50,480.89 L299.80,480.88 L300.10,480.86 L300.40,480.85 L300.70,480.83 L301.00,480.82 L301.30,480.80 L301.60,480.79 L301.90,480.77 L302.20,480.76 L302.50,480.74 L302.80,480.73 L303.10,480.71 L303.40,480.69 L303.70,480.68 L304.00,480.66 L304.30,480.65 L304.60,480.63 L304.90,480.61 L305.20,480.60 L305.50,480.58 L305.80,480.56 L306.10,480.55 L306.40,480.53 L306.70,480.51 L307.00,480.50 L307.30,480.48 L307.60,480.46 L307.90,480.44 L308.20,480.43 L308.50,480.41 L308.80,480.39 L309.10,480.37 L309.40,480.36 L309.70,480.34 L310.00,480.32 L310.30,480.30 L310.60,480.28 L310.90,480.26 L311.20,480.25 L311.50,480.23 L311.80,480.21 L312.10,480.19 L312.40,480.17 L312.70,480.15 L313.00,480.13 L313.30,480.11 L313.60,480.10 L313.90,480.08 L314.20,480.06 L314.50,480.04 L314.80,480.02 L315.10,480.00 L315.40,479.98 L315.70,479.96 L316.00,479.94 L316.30,479.92 L316.60,479.90 L316.90,479.88 L317.20,479.86 L317.50,479.84 L317.80,479.82 L318.10,479.80 L318.40,479.78 L318.70,479.76 L319.00,479.74 L319.30,479.72 L319.60,479.70 L319.90,479.68 L320.20,479.66 L320.50,479.64 L320.80,479.62 L321.10,479.60 L321.40,479.58 L321.70,479.56 L322.00,479.54 L322.30,479.52 L322.60,479.50 L322.90,479.48 L323.20,479.46 L323.50,479.44 L323.80,479.42 L324.10,479.40 L324.40,479.38 L324.70,479.36 L325.00,479.34 L325.30,479.32 L325.60,479.30 L325.90,479.28 L326.20,479.26 L326.50,479.24 L326.80,479.22 L327.10,479.20 L327.40,479.18 L327.70,479.16 L328.00,479.14 L328.30,479.11 L328.60,479.09 L328.90,479.07 L329.20,479.05 L329.50,479.03 L329.80,479.01 L330.10,478.99 L330.40,478.97 L330.70,478.95 L331.00,478.93 L331.30,478.91 L331.60,478.89 L331.90,478.87 L332.20,478.85 L332.50,478.83 L332.80,478.81 L333.10,478.79 L333.40,478.77 L333.70,478.75 L334.00,478.73 L334.30,478.71 L334.60,478.68 L334.90,478.66 L335.20,478.64 L335.50,478.62 L335.80,478.60 L336.10,478.58 L336.40,478.56 L336.70,478.54 L337.00,478.52 L337.30,478.49 L337.60,478.47 L337.90,478.45 L338.20,478.43 L338.50,478.41 L338.80,478.39 L339.10,478.37 L339.40,478.34 L339.70,478.32 L340.00,478.30 L340.30,478.28 L340.60,478.26 L340.90,478.24 L341.20,478.21 L341.50,478.19 L341.80,478.17 L342.10,478.15 L342.40,478.13 L342.70,478.11 L343.00,478.08 L343.30,478.06 L343.60,478.04 L343.90,478.02 L344.20,478.00 L344.50,477.97 L344.80,477.95 L345.10,477.93 L345.40,477.91" fill="none" stroke="#0f8a0f" stroke-width="2.3" stroke-linejoin="round"/>
<path d="M25.3,510.7 V316.8 H345.5 V510.7" fill="none" stroke="#000" stroke-width="1.6"/>
<path d="M24.400000000000002,510.7 H346.4" fill="none" stroke="#000" stroke-width="1.75"/>
<path d="M42.40,510.7 v5.8" stroke="#222" stroke-width="1.0"/>
<text x="42.40" y="530.4" font-size="13.3" text-anchor="middle">50</text>
<path d="M63.15,510.7 v2.9" stroke="#222" stroke-width="0.9"/>
<path d="M83.90,510.7 v5.8" stroke="#222" stroke-width="1.0"/>
<text x="83.90" y="530.4" font-size="13.3" text-anchor="middle">100</text>
<path d="M104.65,510.7 v2.9" stroke="#222" stroke-width="0.9"/>
<path d="M125.40,510.7 v5.8" stroke="#222" stroke-width="1.0"/>
<text x="125.40" y="530.4" font-size="13.3" text-anchor="middle">150</text>
<path d="M146.15,510.7 v2.9" stroke="#222" stroke-width="0.9"/>
<path d="M166.90,510.7 v5.8" stroke="#222" stroke-width="1.0"/>
<text x="166.90" y="530.4" font-size="13.3" text-anchor="middle">200</text>
<path d="M187.65,510.7 v2.9" stroke="#222" stroke-width="0.9"/>
<path d="M208.40,510.7 v5.8" stroke="#222" stroke-width="1.0"/>
<text x="208.40" y="530.4" font-size="13.3" text-anchor="middle">250</text>
<path d="M229.15,510.7 v2.9" stroke="#222" stroke-width="0.9"/>
<path d="M249.90,510.7 v5.8" stroke="#222" stroke-width="1.0"/>
<text x="249.90" y="530.4" font-size="13.3" text-anchor="middle">300</text>
<path d="M270.65,510.7 v2.9" stroke="#222" stroke-width="0.9"/>
<path d="M291.40,510.7 v5.8" stroke="#222" stroke-width="1.0"/>
<text x="291.40" y="530.4" font-size="13.3" text-anchor="middle">350</text>
<path d="M312.15,510.7 v2.9" stroke="#222" stroke-width="0.9"/>
<path d="M332.90,510.7 v5.8" stroke="#222" stroke-width="1.0"/>
<text x="332.90" y="530.4" font-size="13.3" text-anchor="middle">400</text>
<text x="122.5" y="556.4" font-size="15.9">Temperature (<tspan font-size="10.8" dy="-4.3">o</tspan><tspan dy="4.3">C)</tspan></text>
<text transform="translate(12.6,471.4) rotate(-90)" font-size="15.6">Heat flow (W/g)</text>
<path d="M191,332.5 H219.1" stroke="#0a0a9e" stroke-width="3.1"/>
<text x="224.3" y="337.8" font-size="15.7">Heated sample</text>
<path d="M191,406.4 H219.1" stroke="#0f8a0f" stroke-width="3.1"/>
<text x="226.5" y="410.7" font-size="15.7">Pristine sample</text>
<text x="42.5" y="419.9" font-size="15.7">Exothermic</text>
<path d="M75.4,460.6 V430.4 M71.3,436.0 L75.4,429.9 L79.5,436.0" fill="none" stroke="#ed7d31" stroke-width="2.0" stroke-linecap="round" stroke-linejoin="round"/>
<text x="1.1" y="303.3" font-size="19" font-weight="bold">c)</text>
<path d="M389.60,388.41 L389.85,388.02 L390.10,387.76 L390.35,388.07 L390.60,387.94 L390.85,387.99 L391.10,387.75 L391.35,387.75 L391.60,387.93 L391.85,388.48 L392.10,388.65 L392.35,388.08 L392.60,388.00 L392.85,387.95 L393.10,387.83 L393.35,387.87 L393.60,388.11 L393.85,388.13 L394.10,388.21 L394.35,388.21 L394.60,388.07 L394.85,388.34 L395.10,388.42 L395.35,388.10 L395.60,387.99 L395.85,388.15 L396.10,388.48 L396.35,388.36 L396.60,388.02 L396.85,388.21 L397.10,388.11 L397.35,387.91 L397.60,388.19 L397.85,388.32 L398.10,388.20 L398.35,388.21 L398.60,387.76 L398.85,387.82 L399.10,388.11 L399.35,387.69 L399.60,387.88 L399.85,388.25 L400.10,388.14 L400.35,387.86 L400.60,387.93 L400.85,388.09 L401.10,388.31 L401.35,388.43 L401.60,388.24 L401.85,388.30 L402.10,388.24 L402.35,387.92 L402.60,388.04 L402.85,388.28 L403.10,388.15 L403.35,387.94 L403.60,388.01 L403.85,387.74 L404.10,387.82 L404.35,388.28 L404.60,387.92 L404.85,387.85 L405.10,387.96 L405.35,388.06 L405.60,387.90 L405.85,387.64 L406.10,388.06 L406.35,388.39 L406.60,387.94 L406.85,387.68 L407.10,388.07 L407.35,388.05 L407.60,388.25 L407.85,388.16 L408.10,387.97 L408.35,387.99 L408.60,388.15 L408.85,388.31 L409.10,388.03 L409.35,387.77 L409.60,388.09 L409.85,388.47 L410.10,388.33 L410.35,388.39 L410.60,388.33 L410.85,388.05 L411.10,387.87 L411.35,387.85 L411.60,388.18 L411.85,388.08 L412.10,387.78 L412.35,387.95 L412.60,388.08 L412.85,388.22 L413.10,387.99 L413.35,387.63 L413.60,387.83 L413.85,388.28 L414.10,388.40 L414.35,388.25 L414.60,388.08 L414.85,388.09 L415.10,388.10 L415.35,388.19 L415.60,388.10 L415.85,387.99 L416.10,388.10 L416.35,388.16 L416.60,388.22 L416.85,388.53 L417.10,388.73 L417.35,388.56 L417.60,388.01 L417.85,387.73 L418.10,387.95 L418.35,388.08 L418.60,387.82 L418.85,387.92 L419.10,388.44 L419.35,388.06 L419.60,387.74 L419.85,387.82 L420.10,387.98 L420.35,388.20 L420.60,388.51 L420.85,388.38 L421.10,388.18 L421.35,388.24 L421.60,388.39 L421.85,388.48 L422.10,388.42 L422.35,388.14 L422.60,387.90 L422.85,387.94 L423.10,388.20 L423.35,388.43 L423.60,388.15 L423.85,387.98 L424.10,388.10 L424.35,388.06 L424.60,387.84 L424.85,388.03 L425.10,388.55 L425.35,388.44 L425.60,387.97 L425.85,387.83 L426.10,387.71 L426.35,387.97 L426.60,388.31 L426.85,388.23 L427.10,388.15 L427.35,388.16 L427.60,388.13 L427.85,387.88 L428.10,387.79 L428.35,388.04 L428.60,387.99 L428.85,387.90 L429.10,387.89 L429.35,387.92 L429.60,388.18 L429.85,388.16 L430.10,388.01 L430.35,388.20 L430.60,388.32 L430.85,388.46 L431.10,388.03 L431.35,387.90 L431.60,388.15 L431.85,388.03 L432.10,388.23 L432.35,388.38 L432.60,388.41 L432.85,388.26 L433.10,388.34 L433.35,388.27 L433.60,387.99 L433.85,388.16 L434.10,388.09 L434.35,388.29 L434.60,388.53 L434.85,388.53 L435.10,388.36 L435.35,387.95 L435.60,387.97 L435.85,388.14 L436.10,388.01 L436.35,387.93 L436.60,387.99 L436.85,388.13 L437.10,387.97 L437.35,387.82 L437.60,387.76 L437.85,387.38 L438.10,387.31 L438.35,387.21 L438.60,387.30 L438.85,387.61 L439.10,387.59 L439.35,387.52 L439.60,387.76 L439.85,387.74 L440.10,387.56 L440.35,387.53 L440.60,387.32 L440.85,387.55 L441.10,387.59 L441.35,387.65 L441.60,387.98 L441.85,388.10 L442.10,388.13 L442.35,387.85 L442.60,387.92 L442.85,387.96 L443.10,387.88 L443.35,387.97 L443.60,387.97 L443.85,387.94 L444.10,387.82 L444.35,387.82 L444.60,387.61 L444.85,387.61 L445.10,387.76 L445.35,387.95 L445.60,388.33 L445.85,387.84 L446.10,387.66 L446.35,387.94 L446.60,387.74 L446.85,387.84 L447.10,387.92 L447.35,387.55 L447.60,387.57 L447.85,387.78 L448.10,387.77 L448.35,387.52 L448.60,387.49 L448.85,387.68 L449.10,387.29 L449.35,386.96 L449.60,387.01 L449.85,386.93 L450.10,387.14 L450.35,387.21 L450.60,386.77 L450.85,386.64 L451.10,386.85 L451.35,387.43 L451.60,387.52 L451.85,387.31 L452.10,387.54 L452.35,387.62 L452.60,387.98 L452.85,387.96 L453.10,387.73 L453.35,387.83 L453.60,387.81 L453.85,387.59 L454.10,387.76 L454.35,387.91 L454.60,387.63 L454.85,387.48 L455.10,387.34 L455.35,387.53 L455.60,387.64 L455.85,387.39 L456.10,387.05 L456.35,386.57 L456.60,385.83 L456.85,385.22 L457.10,384.61 L457.35,383.72 L457.60,382.80 L457.85,381.62 L458.10,379.75 L458.35,377.40 L458.60,375.15 L458.85,373.02 L459.10,370.31 L459.35,367.12 L459.60,363.86 L459.85,360.40 L460.10,356.06 L460.35,351.42 L460.60,346.69 L460.85,340.24 L461.10,333.17 L461.35,325.69 L461.60,320.30 M465.10,320.30 L465.35,337.06 L465.60,355.25 L465.85,371.89 L466.10,378.57 L466.35,380.97 L466.60,382.24 L466.85,382.89 L467.10,383.51 L467.35,383.63 L467.60,383.44 L467.85,383.42 L468.10,383.76 L468.35,384.23 L468.60,384.39 L468.85,384.44 L469.10,384.43 L469.35,384.47 L469.60,384.56 L469.85,384.55 L470.10,384.51 L470.35,384.42 L470.60,384.64 L470.85,384.80 L471.10,384.82 L471.35,385.19 L471.60,385.41 L471.85,385.84 L472.10,386.08 L472.35,385.61 L472.60,385.65 L472.85,385.87 L473.10,385.70 L473.35,385.86 L473.60,385.88 L473.85,385.27 L474.10,385.53 L474.35,385.92 L474.60,386.01 L474.85,385.96 L475.10,385.47 L475.35,385.72 L475.60,385.64 L475.85,385.34 L476.10,385.65 L476.35,385.57 L476.60,385.30 L476.85,385.31 L477.10,385.58 L477.35,385.63 L477.60,385.82 L477.85,386.26 L478.10,386.73 L478.35,386.72 L478.60,386.31 L478.85,386.57 L479.10,386.73 L479.35,386.74 L479.60,386.88 L479.85,387.07 L480.10,386.98 L480.35,386.82 L480.60,386.56 L480.85,386.46 L481.10,387.13 L481.35,387.19 L481.60,386.87 L481.85,386.81 L482.10,387.04 L482.35,387.28 L482.60,387.03 L482.85,387.13 L483.10,387.37 L483.35,387.41 L483.60,387.29 L483.85,387.46 L484.10,387.64 L484.35,387.37 L484.60,387.24 L484.85,387.24 L485.10,387.47 L485.35,387.48 L485.60,387.53 L485.85,387.68 L486.10,387.73 L486.35,387.78 L486.60,387.58 L486.85,387.17 L487.10,387.23 L487.35,387.67 L487.60,387.66 L487.85,387.63 L488.10,387.55 L488.35,387.41 L488.60,387.35 L488.85,387.64 L489.10,387.82 L489.35,387.55 L489.60,387.33 L489.85,387.39 L490.10,387.84 L490.35,387.94 L490.60,387.62 L490.85,387.78 L491.10,388.13 L491.35,388.07 L491.60,387.99 L491.85,388.03 L492.10,388.00 L492.35,387.96 L492.60,387.76 L492.85,387.89 L493.10,388.06 L493.35,388.15 L493.60,387.81 L493.85,387.62 L494.10,388.10 L494.35,387.95 L494.60,387.88 L494.85,388.06 L495.10,388.09 L495.35,387.90 L495.60,387.80 L495.85,388.05 L496.10,388.28 L496.35,388.15 L496.60,387.97 L496.85,388.00 L497.10,388.16 L497.35,387.97 L497.60,387.61 L497.85,387.80 L498.10,387.85 L498.35,387.74 L498.60,387.94 L498.85,388.11 L499.10,387.94 L499.35,387.99 L499.60,387.89 L499.85,387.85 L500.10,387.89 L500.35,387.61 L500.60,387.96 L500.85,388.10 L501.10,387.88 L501.35,387.88 L501.60,388.07 L501.85,388.14 L502.10,388.06 L502.35,388.23 L502.60,388.13 L502.85,387.89 L503.10,387.92 L503.35,388.18 L503.60,388.41 L503.85,388.43 L504.10,388.27 L504.35,388.04 L504.60,388.18 L504.85,388.14 L505.10,388.14 L505.35,388.31 L505.60,388.08 L505.85,387.95 L506.10,388.04 L506.35,388.32 L506.60,388.74 L506.85,388.46 L507.10,388.06 L507.35,387.72 L507.60,387.75 L507.85,388.10 L508.10,387.90 L508.35,388.02 L508.60,387.95 L508.85,387.79 L509.10,388.06 L509.35,387.89 L509.60,388.00 L509.85,388.36 L510.10,388.01 L510.35,387.63 L510.60,387.94 L510.85,388.15 L511.10,387.87 L511.35,387.83 L511.60,388.00 L511.85,388.02 L512.10,388.17 L512.35,388.25 L512.60,388.39 L512.85,388.55 L513.10,388.38 L513.35,388.33 L513.60,388.43 L513.85,388.37 L514.10,387.97 L514.35,388.00 L514.60,388.20 L514.85,388.32 L515.10,388.32 L515.35,388.15 L515.60,388.18 L515.85,388.36 L516.10,388.34 L516.35,388.03 L516.60,388.05 L516.85,388.02 L517.10,388.00 L517.35,388.07 L517.60,388.08 L517.85,388.38 L518.10,388.27 L518.35,387.98 L518.60,388.01 L518.85,388.11 L519.10,387.95 L519.35,387.74 L519.60,387.91 L519.85,388.11 L520.10,388.10 L520.35,387.94 L520.60,387.81 L520.85,387.96 L521.10,388.32 L521.35,388.29 L521.60,388.09 L521.85,388.11 L522.10,387.93 L522.35,387.81 L522.60,387.91 L522.85,388.00 L523.10,388.03 L523.35,387.79 L523.60,387.97 L523.85,388.42 L524.10,388.20 L524.35,387.99 L524.60,388.07 L524.85,388.12 L525.10,387.84 L525.35,387.97 L525.60,388.12 L525.85,388.05 L526.10,388.13 L526.35,387.87 L526.60,387.82 L526.85,388.01 L527.10,387.89 L527.35,387.68 L527.60,387.72 L527.85,387.50 L528.10,387.76 L528.35,388.09 L528.60,387.87 L528.85,387.93 L529.10,387.76 L529.35,387.54 L529.60,387.92 L529.85,388.04 L530.10,387.38 L530.35,386.66 L530.60,386.78 L530.85,387.39 L531.10,387.38 L531.35,387.05 L531.60,387.03 L531.85,386.66 L532.10,386.20 L532.35,385.86 L532.60,385.02 L532.85,383.70 L533.10,381.82 L533.35,379.64 L533.60,377.01 L533.85,374.15 L534.10,371.55 L534.35,368.47 L534.60,365.79 L534.85,365.16 L535.10,366.34 L535.35,368.61 L535.60,371.51 L535.85,374.30 L536.10,376.97 L536.35,379.92 L536.60,382.03 L536.85,383.67 L537.10,385.03 L537.35,385.83 L537.60,386.56 L537.85,386.95 L538.10,387.22 L538.35,387.13 L538.60,387.17 L538.85,387.42 L539.10,387.50 L539.35,387.75 L539.60,387.71 L539.85,387.45 L540.10,387.42 L540.35,387.52 L540.60,387.78 L540.85,387.72 L541.10,387.81 L541.35,388.00 L541.60,387.80 L541.85,387.57 L542.10,387.66 L542.35,387.98 L542.60,387.68 L542.85,387.77 L543.10,388.31 L543.35,388.19 L543.60,388.01 L543.85,388.34 L544.10,388.46 L544.35,387.95 L544.60,387.77 L544.85,387.88 L545.10,387.87 L545.35,387.53 L545.60,387.67 L545.85,387.94 L546.10,387.85 L546.35,387.93 L546.60,388.04 L546.85,388.02 L547.10,387.76 L547.35,387.89 L547.60,388.24 L547.85,388.10 L548.10,388.10 L548.35,388.19 L548.60,387.89 L548.85,388.09 L549.10,388.04 L549.35,387.96 L549.60,388.01 L549.85,387.92 L550.10,387.80 L550.35,387.60 L550.60,387.95 L550.85,388.11 L551.10,387.94 L551.35,387.84 L551.60,387.90 L551.85,387.74 L552.10,387.49 L552.35,387.68 L552.60,387.71 L552.85,387.62 L553.10,387.73 L553.35,387.80 L553.60,387.77 L553.85,388.03 L554.10,388.21 L554.35,388.12 L554.60,387.93 L554.85,387.62 L555.10,387.36 L555.35,387.32 L555.60,387.15 L555.85,387.01 L556.10,387.32 L556.35,387.50 L556.60,387.31 L556.85,386.67 L557.10,386.28 L557.35,385.93 L557.60,385.57 L557.85,385.24 L558.10,384.78 L558.35,384.75 L558.60,384.36 L558.85,383.99 L559.10,383.65 L559.35,383.16 L559.60,383.42 L559.85,383.95 L560.10,383.97 L560.35,384.09 L560.60,384.37 L560.85,384.73 L561.10,385.47 L561.35,385.83 L561.60,385.88 L561.85,385.89 L562.10,386.16 L562.35,386.55 L562.60,386.52 L562.85,386.24 L563.10,385.59 L563.35,385.25 L563.60,384.63 L563.85,383.24 L564.10,381.97 L564.35,379.98 L564.60,377.96 L564.85,376.28 L565.10,374.41 L565.35,373.01 L565.60,371.97 L565.85,371.22 L566.10,371.70 L566.35,373.35 L566.60,375.22 L566.85,377.00 L567.10,378.72 L567.35,380.84 L567.60,382.74 L567.85,383.96 L568.10,384.66 L568.35,385.71 L568.60,386.08 L568.85,386.14 L569.10,387.19 L569.35,387.42 L569.60,387.26 L569.85,387.20 L570.10,387.45 L570.35,387.49 L570.60,387.37 L570.85,387.63 L571.10,387.46 L571.35,387.61 L571.60,387.58 L571.85,387.35 L572.10,387.59 L572.35,387.65 L572.60,387.74 L572.85,387.96 L573.10,387.86 L573.35,387.64 L573.60,387.61 L573.85,387.65 L574.10,387.86 L574.35,387.89 L574.60,387.84 L574.85,387.86 L575.10,387.67 L575.35,387.82 L575.60,387.79 L575.85,387.66 L576.10,388.06 L576.35,387.89 L576.60,387.65 L576.85,387.57 L577.10,387.50 L577.35,387.51 L577.60,387.53 L577.85,387.68 L578.10,387.75 L578.35,388.08 L578.60,388.10 L578.85,387.95 L579.10,387.89 L579.35,387.74 L579.60,387.61 L579.85,387.36 L580.10,387.49 L580.35,388.02 L580.60,388.07 L580.85,387.72 L581.10,387.89 L581.35,387.89 L581.60,387.52 L581.85,387.37 L582.10,387.30 L582.35,387.42 L582.60,387.85 L582.85,387.82 L583.10,387.30 L583.35,387.17 L583.60,387.22 L583.85,386.94 L584.10,386.86 L584.35,387.05 L584.60,386.84 L584.85,386.52 L585.10,385.89 L585.35,385.05 L585.60,384.89 L585.85,384.66 L586.10,383.48 L586.35,382.54 L586.60,381.94 L586.85,381.17 L587.10,380.44 L587.35,379.65 L587.60,379.22 L587.85,379.14 L588.10,379.17 L588.35,379.15 L588.60,379.11 L588.85,379.73 L589.10,380.34 L589.35,380.73 L589.60,381.10 L589.85,380.82 L590.10,380.11 L590.35,379.32 L590.60,378.70 L590.85,377.81 L591.10,377.31 L591.35,377.59 L591.60,378.10 L591.85,379.28 L592.10,380.44 L592.35,381.73 L592.60,382.98 L592.85,383.81 L593.10,384.68 L593.35,385.55 L593.60,386.05 L593.85,386.32 L594.10,386.50 L594.35,386.78 L594.60,387.31 L594.85,387.20 L595.10,387.15 L595.35,387.14 L595.60,387.10 L595.85,386.84 L596.10,385.97 L596.35,385.77 L596.60,385.42 L596.85,384.26 L597.10,383.22 L597.35,381.99 L597.60,380.79 L597.85,379.53 L598.10,378.50 L598.35,377.71 L598.60,376.55 L598.85,376.09 L599.10,376.71 L599.35,377.56 L599.60,378.84 L599.85,380.46 L600.10,381.66 L600.35,382.78 L600.60,384.01 L600.85,385.14 L601.10,385.94 L601.35,386.20 L601.60,386.43 L601.85,386.54 L602.10,386.61 L602.35,386.66 L602.60,386.76 L602.85,386.74 L603.10,386.47 L603.35,386.65 L603.60,386.85 L603.85,386.58 L604.10,386.35 L604.35,386.51 L604.60,386.51 L604.85,386.20 L605.10,385.98 L605.35,385.79 L605.60,385.62 L605.85,385.25 L606.10,384.18 L606.35,382.92 L606.60,382.10 L606.85,381.34 L607.10,379.82 L607.35,377.99 L607.60,375.90 L607.85,373.41 L608.10,371.38 L608.35,369.44 L608.60,367.45 L608.85,365.61 L609.10,364.43 L609.35,364.05 L609.60,364.19 L609.85,364.57 L610.10,364.72 L610.35,364.67 L610.60,364.11 L610.85,362.32 L611.10,359.08 L611.35,355.33 L611.60,351.85 L611.85,350.15 L612.10,350.46 L612.35,353.28 L612.60,358.70 L612.85,364.59 L613.10,369.55 L613.35,373.41 L613.60,376.03 L613.85,377.10 L614.10,376.81 L614.35,375.86 L614.60,374.41 L614.85,373.03 L615.10,372.14 L615.35,372.41 L615.60,373.78 L615.85,375.46 L616.10,378.00 L616.35,380.26 L616.60,382.09 L616.85,383.50 L617.10,384.73 L617.35,385.63 L617.60,385.68 L617.85,386.02 L618.10,386.53 L618.35,386.51 L618.60,386.55 L618.85,387.05 L619.10,387.15 L619.35,386.85 L619.60,386.64 L619.85,386.73 L620.10,386.56 L620.35,385.97 L620.60,386.05 L620.85,386.28 L621.10,386.56 L621.35,386.63 L621.60,386.06 L621.85,385.67 L622.10,385.68 L622.35,385.48 L622.60,385.01 L622.85,384.78 L623.10,384.49 L623.35,384.08 L623.60,383.59 L623.85,383.24 L624.10,382.90 L624.35,381.81 L624.60,381.29 L624.85,380.88 L625.10,379.97 L625.35,379.13 L625.60,378.30 L625.85,377.79 L626.10,377.16 L626.35,376.73 L626.60,376.38 L626.85,375.78 L627.10,375.49 L627.35,375.72 L627.60,375.96 L627.85,376.05 L628.10,376.28 L628.35,376.79 L628.60,377.24 L628.85,377.70 L629.10,378.80 L629.35,379.64 L629.60,380.13 L629.85,380.78 L630.10,381.65 L630.35,382.69 L630.60,383.07 L630.85,383.45 L631.10,383.90 L631.35,384.57 L631.60,385.26 L631.85,385.24 L632.10,385.63 L632.35,386.11 L632.60,386.23 L632.85,386.44 L633.10,386.46 L633.35,386.47 L633.60,386.80 L633.85,386.99 L634.10,386.83 L634.35,387.23 L634.60,387.40 L634.85,387.04 L635.10,387.00 L635.35,387.22 L635.60,387.50 L635.85,387.44 L636.10,387.42 L636.35,387.14 L636.60,386.92 L636.85,387.04 L637.10,387.03 L637.35,387.10 L637.60,386.66 L637.85,386.93 L638.10,386.92 L638.35,386.26 L638.60,386.25 L638.85,386.02 L639.10,385.58 L639.35,384.62 L639.60,384.02 L639.85,384.20 L640.10,383.86 L640.35,383.27 L640.60,382.81 L640.85,383.04 L641.10,383.48 L641.35,383.26 L641.60,383.38 L641.85,383.79 L642.10,383.97 L642.35,384.28 L642.60,384.83 L642.85,385.25 L643.10,385.65 L643.35,385.75 L643.60,385.58 L643.85,385.65 L644.10,385.56 L644.35,385.15 L644.60,385.19 L644.85,385.03 L645.10,384.52 L645.35,384.29 L645.60,383.71 L645.85,383.33 L646.10,383.24 L646.35,382.89 L646.60,382.76 L646.85,382.67 L647.10,382.42 L647.35,382.76 L647.60,383.33 L647.85,383.93 L648.10,384.56 L648.35,384.80 L648.60,385.21 L648.85,385.91 L649.10,386.44 L649.35,386.61 L649.60,386.77 L649.85,386.90 L650.10,387.00 L650.35,387.28 L650.60,387.40 L650.85,387.44 L651.10,387.36 L651.35,387.11 L651.60,387.06 L651.85,387.28 L652.10,387.78 L652.35,388.06 L652.60,387.71 L652.85,387.30 L653.10,387.59 L653.35,387.92 L653.60,387.59 L653.85,387.70 L654.10,387.95 L654.35,388.00 L654.60,388.03 L654.85,387.97 L655.10,387.97 L655.35,387.69 L655.60,387.61 L655.85,387.66 L656.10,387.83 L656.35,387.78 L656.60,387.42 L656.85,387.68 L657.10,388.10 L657.35,388.23 L657.60,388.22 L657.85,387.76 L658.10,387.49 L658.35,387.64 L658.60,387.75 L658.85,387.50 L659.10,387.50 L659.35,387.88 L659.60,387.74 L659.85,387.72 L660.10,388.05 L660.35,388.04 L660.60,388.02 L660.85,388.18 L661.10,388.08 L661.35,387.98 L661.60,387.86 L661.85,387.99 L662.10,387.98 L662.35,387.68 L662.60,387.86 L662.85,387.86 L663.10,387.82 L663.35,388.09 L663.60,388.04 L663.85,387.89 L664.10,388.03 L664.35,388.13 L664.60,387.75 L664.85,387.42 L665.10,387.87 L665.35,388.14 L665.60,387.61 L665.85,387.34 L666.10,387.66 L666.35,387.72 L666.60,387.79 L666.85,387.96 L667.10,387.96 L667.35,387.77 L667.60,387.79 L667.85,388.28 L668.10,388.06 L668.35,387.96 L668.60,388.23 L668.85,388.13 L669.10,387.97 L669.35,387.68 L669.60,387.56 L669.85,387.86 L670.10,388.15 L670.35,388.22 L670.60,388.22 L670.85,388.17 L671.10,387.95 L671.35,387.62 L671.60,387.72 L671.85,387.99 L672.10,387.97 L672.35,387.65 L672.60,387.56 L672.85,387.57 L673.10,387.67 L673.35,387.73 L673.60,387.69 L673.85,387.90 L674.10,387.95 L674.35,388.11 L674.60,387.92 L674.85,387.36 L675.10,387.68 L675.35,388.24 L675.60,388.32 L675.85,388.14 L676.10,388.00 L676.35,387.98 L676.60,387.69 L676.85,387.58 L677.10,387.86 L677.35,387.86 L677.60,388.08 L677.85,387.93 L678.10,387.57" fill="none" stroke="#1414a8" stroke-width="1.15" stroke-linejoin="round"/>
<path d="M389.60,496.40 L389.85,496.25 L390.10,495.65 L390.35,495.45 L390.60,495.56 L390.85,496.34 L391.10,496.64 L391.35,496.38 L391.60,496.13 L391.85,496.22 L392.10,496.39 L392.35,495.92 L392.60,495.77 L392.85,496.08 L393.10,496.52 L393.35,496.45 L393.60,496.27 L393.85,496.83 L394.10,496.48 L394.35,495.61 L394.60,496.09 L394.85,496.54 L395.10,496.26 L395.35,496.21 L395.60,496.15 L395.85,496.22 L396.10,496.22 L396.35,496.30 L396.60,496.07 L396.85,495.64 L397.10,495.99 L397.35,496.08 L397.60,496.24 L397.85,496.36 L398.10,496.03 L398.35,496.10 L398.60,496.10 L398.85,495.63 L399.10,495.46 L399.35,495.67 L399.60,495.85 L399.85,496.09 L400.10,496.46 L400.35,496.59 L400.60,496.82 L400.85,497.02 L401.10,496.49 L401.35,496.59 L401.60,496.96 L401.85,496.40 L402.10,496.17 L402.35,496.58 L402.60,496.56 L402.85,496.54 L403.10,496.59 L403.35,496.50 L403.60,496.31 L403.85,496.23 L404.10,496.21 L404.35,496.29 L404.60,495.94 L404.85,495.85 L405.10,496.64 L405.35,496.70 L405.60,496.36 L405.85,496.35 L406.10,496.13 L406.35,495.76 L406.60,495.89 L406.85,496.08 L407.10,496.43 L407.35,496.23 L407.60,496.24 L407.85,496.06 L408.10,495.58 L408.35,495.99 L408.60,496.52 L408.85,496.36 L409.10,495.48 L409.35,495.75 L409.60,496.32 L409.85,495.92 L410.10,495.64 L410.35,495.75 L410.60,496.06 L410.85,496.42 L411.10,496.00 L411.35,496.43 L411.60,496.82 L411.85,496.11 L412.10,496.30 L412.35,496.43 L412.60,496.87 L412.85,497.14 L413.10,496.41 L413.35,496.01 L413.60,495.98 L413.85,495.99 L414.10,496.30 L414.35,496.22 L414.60,496.48 L414.85,496.63 L415.10,496.15 L415.35,496.43 L415.60,495.93 L415.85,495.42 L416.10,496.10 L416.35,496.35 L416.60,496.17 L416.85,496.26 L417.10,496.09 L417.35,495.92 L417.60,495.69 L417.85,495.21 L418.10,495.90 L418.35,496.13 L418.60,495.57 L418.85,496.17 L419.10,496.62 L419.35,496.08 L419.60,495.62 L419.85,495.71 L420.10,495.57 L420.35,495.71 L420.60,495.97 L420.85,495.83 L421.10,495.96 L421.35,496.09 L421.60,496.35 L421.85,496.53 L422.10,495.55 L422.35,495.34 L422.60,495.45 L422.85,494.76 L423.10,495.19 L423.35,495.32 L423.60,494.97 L423.85,495.38 L424.10,495.22 L424.35,494.62 L424.60,494.83 L424.85,495.34 L425.10,495.35 L425.35,494.57 L425.60,494.23 L425.85,494.60 L426.10,495.29 L426.35,495.59 L426.60,495.33 L426.85,495.45 L427.10,495.19 L427.35,495.04 L427.60,495.31 L427.85,494.98 L428.10,494.91 L428.35,495.38 L428.60,495.16 L428.85,495.28 L429.10,495.82 L429.35,495.93 L429.60,495.55 L429.85,495.32 L430.10,495.93 L430.35,496.13 L430.60,495.54 L430.85,495.39 L431.10,496.00 L431.35,495.92 L431.60,495.65 L431.85,496.37 L432.10,496.26 L432.35,495.55 L432.60,495.30 L432.85,495.15 L433.10,495.82 L433.35,495.97 L433.60,495.25 L433.85,495.04 L434.10,495.36 L434.35,495.80 L434.60,495.56 L434.85,495.51 L435.10,495.52 L435.35,495.36 L435.60,495.56 L435.85,495.55 L436.10,495.22 L436.35,494.93 L436.60,495.10 L436.85,494.73 L437.10,494.57 L437.35,494.97 L437.60,495.11 L437.85,494.86 L438.10,494.44 L438.35,494.42 L438.60,494.24 L438.85,494.15 L439.10,494.49 L439.35,494.68 L439.60,494.34 L439.85,494.22 L440.10,493.93 L440.35,494.17 L440.60,494.47 L440.85,494.16 L441.10,493.83 L441.35,493.55 L441.60,493.73 L441.85,493.73 L442.10,492.89 L442.35,492.44 L442.60,492.25 L442.85,491.23 L443.10,490.71 L443.35,489.86 L443.60,487.79 L443.85,485.13 L444.10,482.29 L444.35,479.37 L444.60,476.02 L444.85,472.06 L445.10,467.85 L445.35,463.73 L445.60,459.43 L445.85,453.83 L446.10,447.58 L446.35,440.98 L446.60,433.88 L446.85,428.27 L447.10,423.32 L447.35,418.54 L447.60,414.03 L447.85,411.20 M453.60,411.20 L453.85,413.66 L454.10,424.51 L454.35,436.50 L454.60,451.93 L454.85,469.29 L455.10,477.22 L455.35,480.93 L455.60,483.57 L455.85,484.75 L456.10,485.52 L456.35,485.97 L456.60,486.24 L456.85,486.39 L457.10,486.50 L457.35,487.06 L457.60,487.71 L457.85,488.05 L458.10,488.07 L458.35,487.82 L458.60,488.21 L458.85,488.82 L459.10,488.47 L459.35,488.73 L459.60,489.49 L459.85,489.92 L460.10,489.65 L460.35,489.04 L460.60,489.73 L460.85,489.75 L461.10,489.51 L461.35,489.85 L461.60,489.92 L461.85,489.85 L462.10,490.19 L462.35,491.10 L462.60,491.41 L462.85,491.39 L463.10,491.30 L463.35,491.68 L463.60,492.03 L463.85,492.03 L464.10,491.58 L464.35,491.50 L464.60,491.71 L464.85,491.80 L465.10,492.26 L465.35,491.96 L465.60,492.05 L465.85,492.75 L466.10,492.93 L466.35,492.87 L466.60,492.59 L466.85,492.34 L467.10,492.36 L467.35,492.67 L467.60,493.38 L467.85,493.56 L468.10,493.33 L468.35,493.01 L468.60,493.22 L468.85,493.56 L469.10,493.02 L469.35,492.72 L469.60,493.23 L469.85,493.54 L470.10,494.16 L470.35,494.50 L470.60,493.87 L470.85,493.81 L471.10,494.59 L471.35,494.54 L471.60,494.40 L471.85,494.84 L472.10,495.09 L472.35,495.17 L472.60,494.72 L472.85,494.77 L473.10,494.94 L473.35,495.10 L473.60,495.10 L473.85,495.41 L474.10,495.44 L474.35,495.06 L474.60,494.95 L474.85,494.90 L475.10,495.12 L475.35,495.16 L475.60,495.43 L475.85,495.27 L476.10,494.83 L476.35,495.30 L476.60,495.48 L476.85,495.03 L477.10,495.45 L477.35,495.86 L477.60,494.87 L477.85,494.59 L478.10,495.53 L478.35,495.88 L478.60,495.55 L478.85,495.77 L479.10,495.72 L479.35,495.26 L479.60,495.53 L479.85,495.61 L480.10,495.81 L480.35,496.10 L480.60,495.89 L480.85,496.01 L481.10,495.86 L481.35,495.44 L481.60,496.10 L481.85,496.20 L482.10,496.05 L482.35,495.92 L482.60,495.58 L482.85,495.68 L483.10,495.81 L483.35,495.77 L483.60,495.74 L483.85,496.02 L484.10,496.35 L484.35,496.22 L484.60,496.08 L484.85,496.31 L485.10,495.87 L485.35,495.22 L485.60,495.95 L485.85,496.74 L486.10,496.33 L486.35,496.09 L486.60,495.84 L486.85,495.39 L487.10,495.73 L487.35,495.72 L487.60,495.89 L487.85,496.12 L488.10,495.97 L488.35,496.68 L488.60,497.12 L488.85,496.54 L489.10,496.33 L489.35,496.14 L489.60,495.71 L489.85,496.10 L490.10,496.64 L490.35,496.39 L490.60,496.18 L490.85,496.37 L491.10,495.90 L491.35,495.84 L491.60,496.59 L491.85,496.61 L492.10,496.36 L492.35,496.61 L492.60,496.29 L492.85,496.40 L493.10,497.01 L493.35,497.12 L493.60,497.07 L493.85,496.53 L494.10,496.03 L494.35,495.95 L494.60,495.87 L494.85,495.87 L495.10,496.39 L495.35,497.00 L495.60,496.56 L495.85,496.39 L496.10,496.23 L496.35,495.93 L496.60,496.00 L496.85,495.66 L497.10,495.94 L497.35,496.40 L497.60,496.28 L497.85,496.12 L498.10,495.96 L498.35,496.07 L498.60,496.17 L498.85,496.27 L499.10,496.11 L499.35,496.10 L499.60,496.56 L499.85,496.83 L500.10,496.98 L500.35,496.69 L500.60,496.23 L500.85,495.68 L501.10,495.86 L501.35,496.73 L501.60,497.18 L501.85,496.12 L502.10,495.47 L502.35,496.06 L502.60,495.98 L502.85,496.12 L503.10,496.41 L503.35,496.22 L503.60,496.20 L503.85,495.91 L504.10,495.66 L504.35,495.84 L504.60,496.34 L504.85,496.15 L505.10,495.85 L505.35,496.49 L505.60,496.53 L505.85,496.54 L506.10,496.38 L506.35,496.27 L506.60,496.69 L506.85,497.17 L507.10,497.12 L507.35,496.91 L507.60,496.71 L507.85,496.35 L508.10,496.77 L508.35,496.90 L508.60,496.85 L508.85,496.89 L509.10,497.07 L509.35,497.52 L509.60,496.72 L509.85,496.58 L510.10,496.92 L510.35,496.54 L510.60,496.39 L510.85,496.45 L511.10,496.18 L511.35,495.79 L511.60,495.88 L511.85,496.15 L512.10,496.59 L512.35,496.71 L512.60,496.55 L512.85,496.19 L513.10,495.61 L513.35,495.87 L513.60,496.37 L513.85,496.35 L514.10,496.68 L514.35,496.52 L514.60,496.06 L514.85,495.46 L515.10,495.64 L515.35,496.22 L515.60,495.82 L515.85,495.87 L516.10,495.71 L516.35,495.35 L516.60,496.02 L516.85,496.18 L517.10,495.67 L517.35,495.38 L517.60,494.95 L517.85,494.39 L518.10,494.37 L518.35,493.80 L518.60,492.86 L518.85,492.30 L519.10,491.53 L519.35,490.54 L519.60,489.86 L519.85,490.83 L520.10,491.82 L520.35,491.53 L520.60,491.50 L520.85,492.25 L521.10,492.50 L521.35,493.33 L521.60,493.82 L521.85,493.62 L522.10,493.56 L522.35,494.52 L522.60,495.57 L522.85,495.83 L523.10,495.74 L523.35,495.53 L523.60,495.93 L523.85,495.98 L524.10,496.57 L524.35,497.17 L524.60,497.02 L524.85,496.33 L525.10,496.22 L525.35,496.70 L525.60,496.62 L525.85,496.42 L526.10,496.41 L526.35,496.02 L526.60,495.96 L526.85,496.64 L527.10,496.30 L527.35,495.90 L527.60,496.39 L527.85,496.00 L528.10,495.74 L528.35,495.65 L528.60,495.52 L528.85,495.59 L529.10,495.51 L529.35,495.75 L529.60,495.91 L529.85,495.98 L530.10,495.40 L530.35,495.87 L530.60,496.43 L530.85,495.70 L531.10,495.58 L531.35,495.94 L531.60,495.82 L531.85,495.60 L532.10,495.71 L532.35,495.92 L532.60,495.79 L532.85,495.69 L533.10,495.89 L533.35,495.61 L533.60,495.70 L533.85,495.57 L534.10,494.69 L534.35,494.50 L534.60,494.54 L534.85,494.09 L535.10,493.72 L535.35,493.92 L535.60,493.45 L535.85,492.47 L536.10,491.86 L536.35,491.65 L536.60,491.32 L536.85,490.46 L537.10,489.97 L537.35,490.28 L537.60,490.91 L537.85,490.56 L538.10,490.48 L538.35,491.48 L538.60,492.38 L538.85,492.30 L539.10,492.35 L539.35,493.33 L539.60,493.66 L539.85,493.61 L540.10,493.83 L540.35,493.75 L540.60,493.98 L540.85,494.40 L541.10,493.91 L541.35,493.69 L541.60,494.13 L541.85,493.88 L542.10,493.52 L542.35,492.99 L542.60,492.80 L542.85,492.50 L543.10,492.48 L543.35,492.53 L543.60,491.92 L543.85,492.00 L544.10,492.38 L544.35,492.84 L544.60,493.15 L544.85,493.58 L545.10,494.31 L545.35,494.97 L545.60,495.00 L545.85,495.35 L546.10,495.39 L546.35,494.95 L546.60,495.05 L546.85,495.60 L547.10,495.57 L547.35,495.09 L547.60,495.90 L547.85,496.77 L548.10,496.81 L548.35,495.97 L548.60,495.63 L548.85,496.27 L549.10,496.30 L549.35,495.65 L549.60,495.54 L549.85,495.53 L550.10,495.29 L550.35,496.33 L550.60,496.85 L550.85,495.88 L551.10,495.30 L551.35,495.82 L551.60,496.06 L551.85,496.10 L552.10,496.09 L552.35,495.88 L552.60,496.12 L552.85,495.90 L553.10,495.32 L553.35,495.28 L553.60,495.61 L553.85,495.87 L554.10,496.05 L554.35,496.08 L554.60,496.24 L554.85,496.01 L555.10,496.25 L555.35,497.03 L555.60,496.75 L555.85,496.26 L556.10,496.50 L556.35,496.62 L556.60,496.33 L556.85,496.11 L557.10,495.86 L557.35,495.59 L557.60,495.96 L557.85,496.60 L558.10,496.13 L558.35,495.79 L558.60,496.13 L558.85,496.03 L559.10,495.77 L559.35,495.77 L559.60,495.44 L559.85,495.53 L560.10,495.97 L560.35,496.56 L560.60,496.88 L560.85,496.22 L561.10,495.96 L561.35,496.51 L561.60,496.93 L561.85,496.52 L562.10,496.04 L562.35,495.60 L562.60,495.54 L562.85,495.88 L563.10,495.76 L563.35,496.26 L563.60,495.94 L563.85,495.43 L564.10,496.04 L564.35,496.18 L564.60,496.51 L564.85,496.00 L565.10,495.34 L565.35,495.72 L565.60,495.94 L565.85,495.79 L566.10,495.53 L566.35,495.90 L566.60,495.79 L566.85,495.31 L567.10,495.94 L567.35,496.50 L567.60,496.28 L567.85,495.48 L568.10,494.87 L568.35,494.67 L568.60,494.33 L568.85,494.12 L569.10,494.32 L569.35,493.95 L569.60,492.76 L569.85,491.77 L570.10,490.90 L570.35,490.69 L570.60,489.81 L570.85,489.09 L571.10,489.03 L571.35,488.76 L571.60,489.12 L571.85,490.23 L572.10,491.28 L572.35,492.46 L572.60,492.88 L572.85,492.44 L573.10,493.37 L573.35,494.19 L573.60,494.22 L573.85,493.68 L574.10,494.19 L574.35,494.82 L574.60,494.36 L574.85,493.73 L575.10,493.31 L575.35,492.63 L575.60,491.57 L575.85,490.52 L576.10,489.45 L576.35,487.76 L576.60,485.56 L576.85,484.16 L577.10,482.59 L577.35,480.83 L577.60,479.71 L577.85,479.51 L578.10,479.40 L578.35,479.46 L578.60,480.20 L578.85,479.70 L579.10,477.76 L579.35,475.47 L579.60,473.48 L579.85,471.48 L580.10,470.13 L580.35,471.17 L580.60,473.96 L580.85,478.07 L581.10,481.86 L581.35,485.57 L581.60,488.59 L581.85,490.28 L582.10,492.05 L582.35,492.92 L582.60,493.37 L582.85,493.22 L583.10,492.41 L583.35,492.49 L583.60,492.43 L583.85,492.04 L584.10,492.42 L584.35,492.16 L584.60,491.39 L584.85,490.82 L585.10,490.65 L585.35,490.76 L585.60,490.39 L585.85,490.62 L586.10,490.98 L586.35,491.27 L586.60,491.80 L586.85,492.39 L587.10,493.11 L587.35,493.20 L587.60,493.24 L587.85,493.61 L588.10,494.21 L588.35,494.52 L588.60,494.28 L588.85,494.10 L589.10,494.45 L589.35,493.83 L589.60,493.38 L589.85,493.33 L590.10,493.19 L590.35,492.80 L590.60,491.74 L590.85,490.71 L591.10,489.63 L591.35,488.74 L591.60,487.47 L591.85,484.88 L592.10,481.96 L592.35,480.71 L592.60,478.22 L592.85,474.18 L593.10,471.12 L593.35,467.67 L593.60,465.66 L593.85,464.79 L594.10,463.21 L594.35,463.69 L594.60,465.06 L594.85,466.40 L595.10,469.21 L595.35,472.42 L595.60,475.11 L595.85,477.89 L596.10,480.39 L596.35,482.51 L596.60,485.28 L596.85,487.88 L597.10,489.27 L597.35,490.24 L597.60,490.97 L597.85,491.55 L598.10,491.93 L598.35,492.81 L598.60,493.14 L598.85,492.91 L599.10,493.09 L599.35,492.55 L599.60,492.91 L599.85,492.91 L600.10,491.77 L600.35,491.34 L600.60,490.56 L600.85,489.57 L601.10,488.36 L601.35,487.07 L601.60,485.67 L601.85,483.28 L602.10,481.53 L602.35,479.86 L602.60,477.26 L602.85,475.47 L603.10,474.42 L603.35,473.88 L603.60,473.21 L603.85,473.24 L604.10,474.25 L604.35,475.32 L604.60,476.51 L604.85,477.46 L605.10,478.53 L605.35,478.72 L605.60,478.10 L605.85,478.10 L606.10,477.97 L606.35,477.33 L606.60,477.10 L606.85,476.84 L607.10,477.20 L607.35,477.66 L607.60,477.62 L607.85,477.54 L608.10,476.37 L608.35,473.54 L608.60,469.32 L608.85,463.53 L609.10,456.40 L609.35,448.86 L609.60,441.44 L609.85,434.53 L610.10,430.12 L610.35,429.74 L610.60,432.76 L610.85,437.94 L611.10,445.18 L611.35,453.48 L611.60,461.24 L611.85,468.18 L612.10,473.70 L612.35,477.90 L612.60,480.69 L612.85,482.15 L613.10,483.04 L613.35,483.50 L613.60,483.66 L613.85,483.39 L614.10,483.05 L614.35,483.29 L614.60,482.99 L614.85,482.85 L615.10,483.62 L615.35,483.98 L615.60,483.64 L615.85,483.64 L616.10,483.23 L616.35,481.57 L616.60,480.50 L616.85,478.41 L617.10,475.56 L617.35,473.23 L617.60,470.84 L617.85,469.08 L618.10,467.37 L618.35,466.60 L618.60,467.15 L618.85,468.13 L619.10,470.29 L619.35,472.63 L619.60,474.13 L619.85,475.31 L620.10,475.92 L620.35,475.76 L620.60,474.21 L620.85,471.91 L621.10,467.86 L621.35,463.00 L621.60,459.87 L621.85,457.22 L622.10,456.37 L622.35,457.95 L622.60,461.25 L622.85,465.75 L623.10,470.42 L623.35,474.66 L623.60,477.96 L623.85,480.20 L624.10,481.53 L624.35,482.14 L624.60,481.83 L624.85,481.38 L625.10,481.38 L625.35,482.22 L625.60,482.30 L625.85,482.37 L626.10,482.49 L626.35,481.70 L626.60,480.40 L626.85,477.93 L627.10,475.56 L627.35,472.96 L627.60,471.45 L627.85,471.67 L628.10,471.86 L628.35,473.87 L628.60,477.01 L628.85,479.84 L629.10,482.49 L629.35,485.36 L629.60,488.24 L629.85,489.98 L630.10,491.01 L630.35,492.30 L630.60,493.66 L630.85,494.10 L631.10,494.40 L631.35,494.40 L631.60,494.36 L631.85,494.76 L632.10,494.87 L632.35,495.62 L632.60,495.78 L632.85,494.93 L633.10,495.10 L633.35,495.01 L633.60,494.94 L633.85,495.48 L634.10,495.28 L634.35,495.02 L634.60,494.93 L634.85,495.08 L635.10,495.17 L635.35,495.62 L635.60,496.00 L635.85,495.49 L636.10,494.95 L636.35,495.56 L636.60,496.31 L636.85,495.90 L637.10,495.61 L637.35,495.53 L637.60,495.35 L637.85,495.82 L638.10,496.00 L638.35,495.11 L638.60,494.87 L638.85,494.56 L639.10,494.91 L639.35,495.80 L639.60,496.09 L639.85,496.44 L640.10,495.74 L640.35,495.29 L640.60,495.75 L640.85,495.82 L641.10,495.40 L641.35,495.37 L641.60,495.61 L641.85,495.73 L642.10,495.54 L642.35,495.06 L642.60,494.87 L642.85,494.76 L643.10,494.60 L643.35,494.50 L643.60,494.71 L643.85,494.77 L644.10,494.81 L644.35,494.76 L644.60,494.31 L644.85,493.40 L645.10,493.02 L645.35,493.23 L645.60,492.26 L645.85,491.12 L646.10,490.63 L646.35,490.00 L646.60,489.48 L646.85,488.76 L647.10,488.15 L647.35,487.25 L647.60,486.28 L647.85,485.64 L648.10,484.61 L648.35,484.27 L648.60,483.87 L648.85,483.17 L649.10,482.64 L649.35,482.40 L649.60,482.56 L649.85,482.40 L650.10,482.01 L650.35,482.68 L650.60,483.88 L650.85,484.36 L651.10,484.97 L651.35,485.74 L651.60,486.53 L651.85,487.04 L652.10,487.77 L652.35,488.90 L652.60,489.48 L652.85,489.81 L653.10,491.10 L653.35,492.08 L653.60,492.00 L653.85,492.14 L654.10,491.89 L654.35,491.96 L654.60,492.87 L654.85,493.82 L655.10,493.50 L655.35,493.09 L655.60,494.24 L655.85,494.64 L656.10,494.23 L656.35,494.31 L656.60,494.04 L656.85,493.46 L657.10,493.36 L657.35,493.15 L657.60,492.00 L657.85,491.28 L658.10,489.93 L658.35,487.88 L658.60,487.45 L658.85,485.56 L659.10,482.84 L659.35,480.65 L659.60,478.52 L659.85,477.13 L660.10,476.23 L660.35,476.36 L660.60,477.21 L660.85,477.82 L661.10,478.33 L661.35,478.33 L661.60,478.35 L661.85,478.36 L662.10,477.83 L662.35,477.01 L662.60,476.26 L662.85,476.92 L663.10,477.95 L663.35,478.98 L663.60,480.38 L663.85,482.21 L664.10,484.34 L664.35,486.16 L664.60,487.17 L664.85,487.80 L665.10,488.61 L665.35,488.60 L665.60,488.61 L665.85,488.50 L666.10,487.59 L666.35,486.13 L666.60,484.79 L666.85,484.10 L667.10,483.25 L667.35,482.07 L667.60,481.18 L667.85,480.42 L668.10,479.27 L668.35,477.86 L668.60,477.71 L668.85,477.84 L669.10,477.56 L669.35,477.70 L669.60,478.06 L669.85,479.19 L670.10,480.21 L670.35,481.38 L670.60,482.47 L670.85,483.99 L671.10,484.78 L671.35,485.31 L671.60,487.25 L671.85,488.43 L672.10,489.05 L672.35,489.55 L672.60,490.81 L672.85,491.49 L673.10,491.92 L673.35,493.01 L673.60,493.55 L673.85,494.26 L674.10,494.15 L674.35,493.79 L674.60,494.11 L674.85,494.03 L675.10,494.48 L675.35,494.95 L675.60,494.87 L675.85,494.75 L676.10,494.78 L676.35,494.97 L676.60,494.99 L676.85,494.91 L677.10,495.24 L677.35,495.40 L677.60,494.47 L677.85,494.84 L678.10,495.47" fill="none" stroke="#0f8a0f" stroke-width="1.15" stroke-linejoin="round"/>
<path d="M389.6,512.8 V315.0 H678.1 V512.8" fill="none" stroke="#000" stroke-width="1.6"/>
<path d="M388.70000000000005,512.8 H679.0" fill="none" stroke="#000" stroke-width="1.75"/>
<path d="M389.40,512.8 v4.4" stroke="#000" stroke-width="1.0"/>
<text x="389.40" y="530.7" font-size="13.5" text-anchor="middle">5</text>
<path d="M425.40,512.8 v2.6" stroke="#000" stroke-width="0.8"/>
<path d="M461.40,512.8 v4.4" stroke="#000" stroke-width="1.0"/>
<text x="461.40" y="530.7" font-size="13.5" text-anchor="middle">10</text>
<path d="M497.40,512.8 v2.6" stroke="#000" stroke-width="0.8"/>
<path d="M533.40,512.8 v4.4" stroke="#000" stroke-width="1.0"/>
<text x="533.40" y="530.7" font-size="13.5" text-anchor="middle">15</text>
<path d="M569.40,512.8 v2.6" stroke="#000" stroke-width="0.8"/>
<path d="M605.40,512.8 v4.4" stroke="#000" stroke-width="1.0"/>
<text x="605.40" y="530.7" font-size="13.5" text-anchor="middle">20</text>
<path d="M641.40,512.8 v2.6" stroke="#000" stroke-width="0.8"/>
<path d="M677.40,512.8 v4.4" stroke="#000" stroke-width="1.0"/>
<text x="677.40" y="530.7" font-size="13.5" text-anchor="middle">25</text>
<text x="539.0" y="556.5" font-size="15.6">2<tspan style="font-family:'Liberation Serif','DejaVu Serif',serif" font-size="16.5">θ</tspan></text>
<text transform="translate(378.5,443.4) rotate(-90)" font-size="15.7">Intensity</text>
<path d="M532,330.3 H559.5" stroke="#0a0a9e" stroke-width="3.1"/>
<text x="567.3" y="335.3" font-size="15.7">Heated sample</text>
<path d="M532,415.5 H559.5" stroke="#0f8a0f" stroke-width="3.1"/>
<text x="567.3" y="419.9" font-size="15.7">Pristine sample</text>
<text x="364.3" y="302.9" font-size="19" font-weight="bold">d)</text>
</svg>
</body></html>
